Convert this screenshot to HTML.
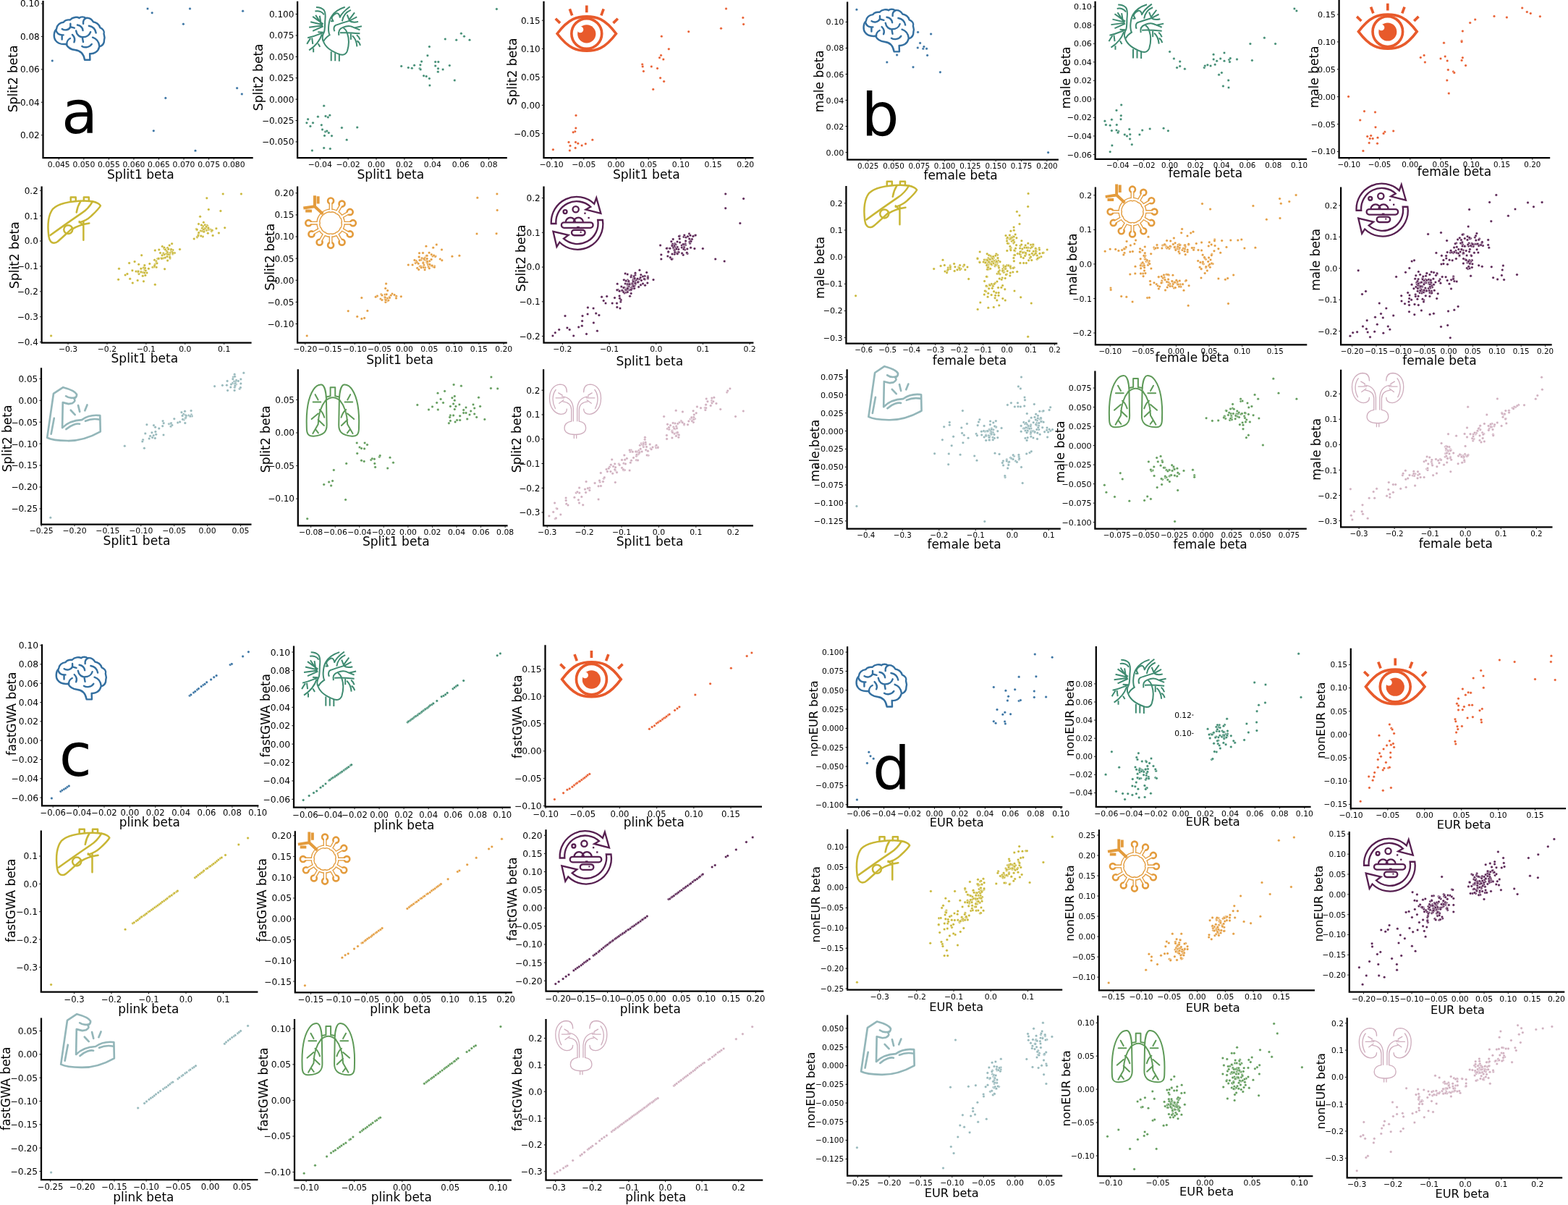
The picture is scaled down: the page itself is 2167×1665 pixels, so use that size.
<!DOCTYPE html>
<html><head><meta charset="utf-8"><title>Figure</title>
<style>html,body{margin:0;padding:0;background:#fff;width:2167px;height:1665px;overflow:hidden}svg{display:block}</style></head><body>
<svg xmlns="http://www.w3.org/2000/svg" width="2167" height="1665" viewBox="0 0 2167 1665" font-family="'DejaVu Sans', 'Liberation Sans', sans-serif" fill="#000">
<rect width="2167" height="1665" fill="#ffffff"/>
<!-- a1 -->
<g transform="translate(73.40 22.20) scale(0.04199 0.04204) translate(-80.0 -100.0)"><g fill="none" stroke="#336fa0" stroke-width="58" stroke-linecap="round" stroke-linejoin="round">
<path d="M1120 1540 L1295 1540 L1288 1338 C1420 1350 1560 1280 1600 1110 C1700 1080 1765 990 1762 880 C1790 800 1765 740 1750 690 C1780 600 1720 520 1625 480 C1600 380 1500 300 1400 290 C1350 200 1250 150 1150 165 C1100 115 980 115 940 165 C880 120 720 130 640 225 C540 215 455 250 420 305 C300 315 200 400 190 525 C100 610 85 800 160 900 C230 1000 360 1035 505 1020 C560 1130 660 1200 800 1212 C980 1230 1085 1330 1120 1540 Z"/>
<path d="M375 522 C450 580 600 565 650 455 M650 350 L650 455 L780 492"/>
<path d="M178 572 C205 680 300 730 420 722 M372 740 L372 870"/>
<path d="M878 392 C980 412 1050 482 1060 572"/>
<path d="M1258 422 C1380 442 1470 532 1492 652"/>
<path d="M835 582 C855 722 962 800 1060 792 C1180 792 1282 722 1312 622 M1042 802 L1070 950"/>
<path d="M1072 352 C1062 252 1112 192 1162 172"/>
<path d="M712 712 C782 782 812 862 772 960"/>
<path d="M642 832 C562 872 522 962 532 1032"/>
<path d="M1032 1092 C1122 1150 1282 1132 1352 1022"/>
<path d="M1382 802 C1500 842 1582 932 1602 1082"/>
</g></g>
<g fill="#336fa0" stroke="#ffffff" stroke-width="0.45"><circle cx="204.0" cy="12.1" r="1.75"/><circle cx="210.2" cy="17.8" r="1.75"/><circle cx="262.5" cy="12.1" r="1.75"/><circle cx="253.4" cy="33.2" r="1.75"/><circle cx="335.6" cy="15.3" r="1.75"/><circle cx="72.3" cy="83.9" r="1.75"/><circle cx="327.6" cy="121.8" r="1.75"/><circle cx="334.3" cy="129.9" r="1.75"/><circle cx="228.8" cy="135.4" r="1.75"/><circle cx="212.3" cy="180.8" r="1.75"/><circle cx="270.0" cy="208.2" r="1.75"/></g>
<path d="M59.50 1.00 L59.50 218.00 L349.70 218.00" fill="none" stroke="#000" stroke-width="2.25" stroke-linejoin="miter" stroke-linecap="butt"/>
<path d="M81.30 219.10 L81.30 220.60 M115.85 219.10 L115.85 220.60 M150.40 219.10 L150.40 220.60 M184.95 219.10 L184.95 220.60 M219.50 219.10 L219.50 220.60 M254.05 219.10 L254.05 220.60 M288.60 219.10 L288.60 220.60 M323.15 219.10 L323.15 220.60 M56.90 5.02 L58.40 5.02 M56.90 50.45 L58.40 50.45 M56.90 95.88 L58.40 95.88 M56.90 141.31 L58.40 141.31 M56.90 186.74 L58.40 186.74" stroke="#000" stroke-width="1" fill="none"/>
<g><text x="81.30" y="230.70" font-size="10.80" text-anchor="middle">0.045</text><text x="115.85" y="230.70" font-size="10.80" text-anchor="middle">0.050</text><text x="150.40" y="230.70" font-size="10.80" text-anchor="middle">0.055</text><text x="184.95" y="230.70" font-size="10.80" text-anchor="middle">0.060</text><text x="219.50" y="230.70" font-size="10.80" text-anchor="middle">0.065</text><text x="254.05" y="230.70" font-size="10.80" text-anchor="middle">0.070</text><text x="288.60" y="230.70" font-size="10.80" text-anchor="middle">0.075</text><text x="323.15" y="230.70" font-size="10.80" text-anchor="middle">0.080</text><text x="54.70" y="9.39" font-size="12.00" text-anchor="end">0.10</text><text x="54.70" y="54.82" font-size="12.00" text-anchor="end">0.08</text><text x="54.70" y="100.25" font-size="12.00" text-anchor="end">0.06</text><text x="54.70" y="145.68" font-size="12.00" text-anchor="end">0.04</text><text x="54.70" y="191.11" font-size="12.00" text-anchor="end">0.02</text></g>
<text x="194.40" y="247.40" font-size="17.10" text-anchor="middle">Split1 beta</text>
<text transform="translate(23.82 108.90) rotate(-90)" x="0" y="0" font-size="17.10" text-anchor="middle">Split2 beta</text>
<text x="84.94" y="184.40" font-size="82">a</text>
<!-- a2 -->
<g transform="translate(423.90 8.30) scale(0.05010 0.04993) translate(-85.0 -60.0)"><g fill="none" stroke="#3d8a70" stroke-width="40" stroke-linecap="butt" stroke-linejoin="round">
<path d="M545 1040 C600 1200 800 1330 1000 1400 C1100 1425 1175 1390 1205 1300 C1250 1150 1250 950 1205 820 C1175 720 1130 685 1095 665"/>
<path d="M545 1045 C500 960 515 870 565 780 C590 700 585 600 590 480 C600 380 620 260 560 175 C500 110 420 95 345 95"/>
<path d="M315 205 C420 180 530 230 560 300"/>
<path d="M710 850 C660 700 695 460 765 355 C825 255 950 150 1140 90"/>
<path d="M735 850 C650 900 590 960 555 1030"/>
<path d="M745 480 L815 478 L775 400 C785 330 850 285 905 262 C955 250 990 300 1000 370 C1030 300 1100 205 1275 78"/>
<path d="M855 762 C820 700 830 622 882 592 C1000 545 1150 505 1250 472 C1350 432 1420 382 1470 362"/>
<path d="M972 872 C952 762 992 682 1082 652 C1152 622 1232 602 1302 622 C1402 662 1482 692 1552 722"/>
<path d="M1062 482 C1082 352 1152 232 1302 172"/>
<path d="M1200 300 L1255 442 L1405 242"/>
<path d="M1255 462 C1305 502 1405 522 1505 492"/>
<path d="M1405 662 L1602 620"/>
<path d="M1002 802 C1152 792 1352 802 1552 822"/>
<path d="M1302 822 L1302 992"/>
<path d="M1342 882 C1422 952 1462 1052 1472 1182"/>
<path d="M1472 1022 C1522 1052 1552 1102 1562 1152"/>
<path d="M1462 862 C1512 902 1542 952 1552 992"/>
<path d="M530 580 L190 500 M530 600 L150 650 M540 620 L250 752 M540 560 L250 352 M500 570 L330 312 M480 560 L442 330"/>
<path d="M545 792 L392 782 M530 800 C400 850 300 900 110 942 M230 942 L252 1112 M190 952 C150 1012 112 1072 92 1112"/>
<path d="M505 842 C452 1002 352 1152 150 1282 M270 1232 L270 1342 M400 1100 L452 1190"/>
<path d="M760 1322 L760 1582 M870 1362 L870 1582 M982 1402 L982 1592"/>
</g></g>
<g fill="#3d8a70" stroke="#ffffff" stroke-width="0.45"><circle cx="686.4" cy="12.5" r="1.75"/><circle cx="637.4" cy="46.2" r="1.75"/><circle cx="641.5" cy="50.2" r="1.75"/><circle cx="649.0" cy="55.2" r="1.75"/><circle cx="630.7" cy="55.3" r="1.75"/><circle cx="615.3" cy="54.0" r="1.75"/><circle cx="593.4" cy="64.5" r="1.75"/><circle cx="590.9" cy="76.8" r="1.75"/><circle cx="582.6" cy="85.1" r="1.75"/><circle cx="580.9" cy="89.7" r="1.75"/><circle cx="580.1" cy="94.7" r="1.75"/><circle cx="581.2" cy="95.9" r="1.75"/><circle cx="572.6" cy="90.2" r="1.75"/><circle cx="569.3" cy="94.2" r="1.75"/><circle cx="564.3" cy="93.4" r="1.75"/><circle cx="554.7" cy="91.4" r="1.75"/><circle cx="601.7" cy="85.6" r="1.75"/><circle cx="605.8" cy="85.6" r="1.75"/><circle cx="601.7" cy="91.0" r="1.75"/><circle cx="605.5" cy="94.7" r="1.75"/><circle cx="605.3" cy="99.2" r="1.75"/><circle cx="612.1" cy="95.9" r="1.75"/><circle cx="621.3" cy="90.5" r="1.75"/><circle cx="585.6" cy="104.7" r="1.75"/><circle cx="589.2" cy="105.5" r="1.75"/><circle cx="593.4" cy="108.5" r="1.75"/><circle cx="593.9" cy="118.0" r="1.75"/><circle cx="628.3" cy="111.0" r="1.75"/><circle cx="447.7" cy="146.2" r="1.75"/><circle cx="439.4" cy="161.2" r="1.75"/><circle cx="450.0" cy="160.5" r="1.75"/><circle cx="453.3" cy="162.0" r="1.75"/><circle cx="455.8" cy="159.2" r="1.75"/><circle cx="425.6" cy="164.8" r="1.75"/><circle cx="423.9" cy="169.8" r="1.75"/><circle cx="432.5" cy="169.8" r="1.75"/><circle cx="428.9" cy="174.4" r="1.75"/><circle cx="444.3" cy="172.8" r="1.75"/><circle cx="445.5" cy="179.1" r="1.75"/><circle cx="449.7" cy="181.9" r="1.75"/><circle cx="451.8" cy="181.1" r="1.75"/><circle cx="454.3" cy="183.6" r="1.75"/><circle cx="448.5" cy="187.4" r="1.75"/><circle cx="458.5" cy="187.7" r="1.75"/><circle cx="472.4" cy="176.6" r="1.75"/><circle cx="493.7" cy="176.1" r="1.75"/><circle cx="479.2" cy="193.2" r="1.75"/><circle cx="431.4" cy="208.0" r="1.75"/><circle cx="447.7" cy="204.4" r="1.75"/><circle cx="456.3" cy="205.5" r="1.75"/></g>
<path d="M411.10 1.70 L411.10 218.00 L700.80 218.00" fill="none" stroke="#000" stroke-width="2.25" stroke-linejoin="miter" stroke-linecap="butt"/>
<path d="M442.23 219.10 L442.23 220.60 M481.12 219.10 L481.12 220.60 M520.01 219.10 L520.01 220.60 M558.90 219.10 L558.90 220.60 M597.79 219.10 L597.79 220.60 M636.68 219.10 L636.68 220.60 M675.57 219.10 L675.57 220.60 M408.50 19.59 L410.00 19.59 M408.50 48.99 L410.00 48.99 M408.50 78.38 L410.00 78.38 M408.50 107.77 L410.00 107.77 M408.50 137.16 L410.00 137.16 M408.50 166.56 L410.00 166.56 M408.50 195.95 L410.00 195.95" stroke="#000" stroke-width="1" fill="none"/>
<g><text x="442.23" y="230.70" font-size="10.80" text-anchor="middle">−0.04</text><text x="481.12" y="230.70" font-size="10.80" text-anchor="middle">−0.02</text><text x="520.01" y="230.70" font-size="10.80" text-anchor="middle">0.00</text><text x="558.90" y="230.70" font-size="10.80" text-anchor="middle">0.02</text><text x="597.79" y="230.70" font-size="10.80" text-anchor="middle">0.04</text><text x="636.68" y="230.70" font-size="10.80" text-anchor="middle">0.06</text><text x="675.57" y="230.70" font-size="10.80" text-anchor="middle">0.08</text><text x="406.30" y="23.97" font-size="12.00" text-anchor="end">0.100</text><text x="406.30" y="53.36" font-size="12.00" text-anchor="end">0.075</text><text x="406.30" y="82.75" font-size="12.00" text-anchor="end">0.050</text><text x="406.30" y="112.15" font-size="12.00" text-anchor="end">0.025</text><text x="406.30" y="141.54" font-size="12.00" text-anchor="end">0.000</text><text x="406.30" y="170.93" font-size="12.00" text-anchor="end">−0.025</text><text x="406.30" y="200.32" font-size="12.00" text-anchor="end">−0.050</text></g>
<text x="539.90" y="247.40" font-size="17.10" text-anchor="middle">Split1 beta</text>
<text transform="translate(362.62 106.80) rotate(-90)" x="0" y="0" font-size="17.10" text-anchor="middle">Split2 beta</text>
<!-- a3 -->
<g transform="translate(765.60 7.50) scale(0.16611 0.16597) translate(-455.0 -45.0)"><g fill="none" stroke="#e85a2b" stroke-width="22" stroke-linecap="butt" stroke-linejoin="miter">
<path d="M482 280 C580 150 650 138 727 138 C805 138 875 150 972 280 C875 410 805 422 727 422 C650 422 580 410 482 280 Z"/>
<circle cx="727" cy="280" r="126"/>
<path d="M468 155 L506 192 M586 75 L606 128 M727 45 L727 104 M868 75 L848 128 M986 155 L948 192"/>
</g>
<circle cx="727" cy="282" r="76" fill="#e85a2b"/>
<circle cx="674" cy="246" r="26" fill="#ffffff"/></g>
<g fill="#e85a2b" stroke="#ffffff" stroke-width="0.45"><circle cx="1003.5" cy="12.1" r="1.75"/><circle cx="1026.8" cy="24.4" r="1.75"/><circle cx="1027.6" cy="33.6" r="1.75"/><circle cx="996.5" cy="39.2" r="1.75"/><circle cx="951.7" cy="43.7" r="1.75"/><circle cx="914.3" cy="50.2" r="1.75"/><circle cx="924.3" cy="67.8" r="1.75"/><circle cx="913.5" cy="76.4" r="1.75"/><circle cx="911.5" cy="79.7" r="1.75"/><circle cx="916.8" cy="82.1" r="1.75"/><circle cx="887.7" cy="88.9" r="1.75"/><circle cx="888.2" cy="91.9" r="1.75"/><circle cx="889.4" cy="98.4" r="1.75"/><circle cx="900.3" cy="91.9" r="1.75"/><circle cx="908.5" cy="94.5" r="1.75"/><circle cx="912.6" cy="107.7" r="1.75"/><circle cx="917.6" cy="112.6" r="1.75"/><circle cx="902.7" cy="123.4" r="1.75"/><circle cx="796.0" cy="159.5" r="1.75"/><circle cx="795.8" cy="177.1" r="1.75"/><circle cx="794.7" cy="181.8" r="1.75"/><circle cx="792.2" cy="182.8" r="1.75"/><circle cx="786.0" cy="196.4" r="1.75"/><circle cx="788.0" cy="201.4" r="1.75"/><circle cx="795.5" cy="196.4" r="1.75"/><circle cx="798.8" cy="198.2" r="1.75"/><circle cx="804.1" cy="201.0" r="1.75"/><circle cx="809.3" cy="198.7" r="1.75"/><circle cx="818.8" cy="193.2" r="1.75"/><circle cx="795.2" cy="204.4" r="1.75"/><circle cx="787.4" cy="208.0" r="1.75"/><circle cx="764.4" cy="206.7" r="1.75"/></g>
<path d="M751.50 1.70 L751.50 218.00 L1041.40 218.00" fill="none" stroke="#000" stroke-width="2.25" stroke-linejoin="miter" stroke-linecap="butt"/>
<path d="M762.10 219.10 L762.10 220.60 M806.79 219.10 L806.79 220.60 M851.48 219.10 L851.48 220.60 M896.17 219.10 L896.17 220.60 M940.86 219.10 L940.86 220.60 M985.55 219.10 L985.55 220.60 M1030.24 219.10 L1030.24 220.60 M748.90 28.22 L750.40 28.22 M748.90 67.27 L750.40 67.27 M748.90 106.32 L750.40 106.32 M748.90 145.37 L750.40 145.37 M748.90 184.42 L750.40 184.42" stroke="#000" stroke-width="1" fill="none"/>
<g><text x="762.10" y="230.70" font-size="10.80" text-anchor="middle">−0.10</text><text x="806.79" y="230.70" font-size="10.80" text-anchor="middle">−0.05</text><text x="851.48" y="230.70" font-size="10.80" text-anchor="middle">0.00</text><text x="896.17" y="230.70" font-size="10.80" text-anchor="middle">0.05</text><text x="940.86" y="230.70" font-size="10.80" text-anchor="middle">0.10</text><text x="985.55" y="230.70" font-size="10.80" text-anchor="middle">0.15</text><text x="1030.24" y="230.70" font-size="10.80" text-anchor="middle">0.20</text><text x="746.70" y="32.59" font-size="12.00" text-anchor="end">0.15</text><text x="746.70" y="71.64" font-size="12.00" text-anchor="end">0.10</text><text x="746.70" y="110.69" font-size="12.00" text-anchor="end">0.05</text><text x="746.70" y="149.74" font-size="12.00" text-anchor="end">0.00</text><text x="746.70" y="188.79" font-size="12.00" text-anchor="end">−0.05</text></g>
<text x="893.30" y="247.40" font-size="17.10" text-anchor="middle">Split1 beta</text>
<text transform="translate(714.22 99.00) rotate(-90)" x="0" y="0" font-size="17.10" text-anchor="middle">Split2 beta</text>
<!-- a4 -->
<g transform="translate(66.50 270.80) scale(0.16614 0.16608) translate(-400.0 -125.0)"><g fill="none" stroke="#c8b634" stroke-width="15" stroke-linecap="round" stroke-linejoin="round">
<path d="M455 515 C430 520 410 500 405 460 C395 380 395 290 440 232 C490 182 600 167 700 165 C760 165 820 178 836 206 C820 235 790 262 758 292 C728 320 700 335 660 345 M604 392 C560 430 510 480 478 505 C470 512 462 515 455 515"/>
<path d="M418 452 C500 392 600 322 680 267 C722 240 752 202 770 170"/>
<path d="M636 262 C641 230 651 200 671 168"/>
<path d="M588 165 L588 135 L630 135 L630 165 M697 165 L697 135 L739 135 L739 165"/>
<circle cx="567" cy="404" r="36"/>
<path d="M603 400 C640 375 690 360 742 352 M694 337 L694 492 M660 337 L694 372"/>
</g></g>
<g fill="#c8b634" stroke="#ffffff" stroke-width="0.45"><circle cx="70.6" cy="464.0" r="1.75"/><circle cx="285.8" cy="273.8" r="1.75"/><circle cx="308.2" cy="267.9" r="1.75"/><circle cx="333.4" cy="267.9" r="1.75"/><circle cx="288.3" cy="289.4" r="1.75"/><circle cx="304.9" cy="291.5" r="1.75"/><circle cx="276.6" cy="299.3" r="1.75"/><circle cx="310.7" cy="314.8" r="1.75"/><circle cx="302.4" cy="321.9" r="1.75"/><circle cx="164.5" cy="371.3" r="1.75"/><circle cx="163.6" cy="386.2" r="1.75"/><circle cx="173.1" cy="380.1" r="1.75"/><circle cx="178.6" cy="363.5" r="1.75"/><circle cx="186.1" cy="361.6" r="1.75"/><circle cx="195.7" cy="352.7" r="1.75"/><circle cx="214.3" cy="345.9" r="1.75"/><circle cx="224.3" cy="340.5" r="1.75"/><circle cx="237.6" cy="336.7" r="1.75"/><circle cx="227.6" cy="371.8" r="1.75"/><circle cx="214.3" cy="393.2" r="1.75"/><circle cx="198.5" cy="388.7" r="1.75"/><circle cx="190.2" cy="387.4" r="1.75"/><circle cx="194.9" cy="375.3" r="1.75"/><circle cx="199.5" cy="369.3" r="1.75"/><circle cx="192.0" cy="378.5" r="1.75"/><circle cx="191.1" cy="374.6" r="1.75"/><circle cx="203.0" cy="377.0" r="1.75"/><circle cx="190.8" cy="374.7" r="1.75"/><circle cx="188.0" cy="375.1" r="1.75"/><circle cx="199.9" cy="372.9" r="1.75"/><circle cx="205.4" cy="371.2" r="1.75"/><circle cx="190.9" cy="376.0" r="1.75"/><circle cx="194.9" cy="371.2" r="1.75"/><circle cx="195.0" cy="376.0" r="1.75"/><circle cx="183.3" cy="390.9" r="1.75"/><circle cx="211.0" cy="369.2" r="1.75"/><circle cx="216.1" cy="369.3" r="1.75"/><circle cx="206.8" cy="364.4" r="1.75"/><circle cx="197.9" cy="376.5" r="1.75"/><circle cx="179.7" cy="385.3" r="1.75"/><circle cx="182.9" cy="373.8" r="1.75"/><circle cx="197.3" cy="381.3" r="1.75"/><circle cx="191.7" cy="365.3" r="1.75"/><circle cx="198.4" cy="370.0" r="1.75"/><circle cx="200.5" cy="370.5" r="1.75"/><circle cx="199.8" cy="366.6" r="1.75"/><circle cx="200.8" cy="380.4" r="1.75"/><circle cx="175.9" cy="378.5" r="1.75"/><circle cx="201.3" cy="374.0" r="1.75"/><circle cx="213.2" cy="368.7" r="1.75"/><circle cx="199.9" cy="376.9" r="1.75"/><circle cx="190.9" cy="375.2" r="1.75"/><circle cx="229.8" cy="350.7" r="1.75"/><circle cx="230.2" cy="346.8" r="1.75"/><circle cx="248.5" cy="344.6" r="1.75"/><circle cx="234.2" cy="338.9" r="1.75"/><circle cx="222.8" cy="356.8" r="1.75"/><circle cx="231.6" cy="342.4" r="1.75"/><circle cx="241.3" cy="349.5" r="1.75"/><circle cx="225.9" cy="356.7" r="1.75"/><circle cx="213.6" cy="359.2" r="1.75"/><circle cx="235.0" cy="357.0" r="1.75"/><circle cx="227.7" cy="342.9" r="1.75"/><circle cx="235.1" cy="349.5" r="1.75"/><circle cx="236.6" cy="346.8" r="1.75"/><circle cx="234.3" cy="352.0" r="1.75"/><circle cx="221.5" cy="349.4" r="1.75"/><circle cx="231.6" cy="348.7" r="1.75"/><circle cx="225.8" cy="350.1" r="1.75"/><circle cx="219.8" cy="345.1" r="1.75"/><circle cx="238.7" cy="350.9" r="1.75"/><circle cx="219.2" cy="356.9" r="1.75"/><circle cx="238.9" cy="345.5" r="1.75"/><circle cx="231.6" cy="360.1" r="1.75"/><circle cx="238.0" cy="348.2" r="1.75"/><circle cx="227.0" cy="351.8" r="1.75"/><circle cx="226.8" cy="343.7" r="1.75"/><circle cx="231.0" cy="354.6" r="1.75"/><circle cx="228.4" cy="344.8" r="1.75"/><circle cx="239.0" cy="349.6" r="1.75"/><circle cx="234.7" cy="355.3" r="1.75"/><circle cx="232.2" cy="351.4" r="1.75"/><circle cx="236.5" cy="344.6" r="1.75"/><circle cx="228.3" cy="356.1" r="1.75"/><circle cx="226.8" cy="342.0" r="1.75"/><circle cx="232.8" cy="344.3" r="1.75"/><circle cx="224.1" cy="352.7" r="1.75"/><circle cx="272.2" cy="317.8" r="1.75"/><circle cx="281.7" cy="315.5" r="1.75"/><circle cx="274.2" cy="323.9" r="1.75"/><circle cx="298.9" cy="315.7" r="1.75"/><circle cx="280.5" cy="312.4" r="1.75"/><circle cx="277.3" cy="318.9" r="1.75"/><circle cx="283.3" cy="310.8" r="1.75"/><circle cx="283.9" cy="317.7" r="1.75"/><circle cx="272.5" cy="327.9" r="1.75"/><circle cx="278.4" cy="311.1" r="1.75"/><circle cx="286.2" cy="315.6" r="1.75"/><circle cx="279.4" cy="315.3" r="1.75"/><circle cx="279.5" cy="319.2" r="1.75"/><circle cx="272.6" cy="327.3" r="1.75"/><circle cx="281.4" cy="307.2" r="1.75"/><circle cx="291.0" cy="317.2" r="1.75"/><circle cx="284.7" cy="314.9" r="1.75"/><circle cx="285.5" cy="318.2" r="1.75"/><circle cx="286.8" cy="312.6" r="1.75"/><circle cx="282.7" cy="317.1" r="1.75"/><circle cx="292.4" cy="319.0" r="1.75"/><circle cx="286.2" cy="311.6" r="1.75"/><circle cx="283.0" cy="318.0" r="1.75"/><circle cx="288.3" cy="317.4" r="1.75"/><circle cx="287.3" cy="322.2" r="1.75"/><circle cx="268.2" cy="330.1" r="1.75"/><circle cx="280.3" cy="326.9" r="1.75"/><circle cx="293.5" cy="318.2" r="1.75"/><circle cx="271.4" cy="316.4" r="1.75"/><circle cx="274.7" cy="321.4" r="1.75"/><circle cx="285.0" cy="313.4" r="1.75"/><circle cx="272.2" cy="317.2" r="1.75"/><circle cx="285.2" cy="313.3" r="1.75"/><circle cx="282.3" cy="317.3" r="1.75"/><circle cx="274.5" cy="309.4" r="1.75"/><circle cx="273.9" cy="325.7" r="1.75"/><circle cx="283.2" cy="315.8" r="1.75"/><circle cx="281.4" cy="317.2" r="1.75"/><circle cx="277.8" cy="326.0" r="1.75"/><circle cx="292.4" cy="319.6" r="1.75"/><circle cx="288.2" cy="316.6" r="1.75"/><circle cx="288.0" cy="315.1" r="1.75"/><circle cx="294.1" cy="325.4" r="1.75"/><circle cx="281.8" cy="320.2" r="1.75"/><circle cx="292.9" cy="318.3" r="1.75"/><circle cx="215.9" cy="361.0" r="1.75"/><circle cx="214.1" cy="365.5" r="1.75"/><circle cx="216.1" cy="363.4" r="1.75"/><circle cx="213.5" cy="367.4" r="1.75"/><circle cx="223.6" cy="357.3" r="1.75"/><circle cx="217.8" cy="357.5" r="1.75"/><circle cx="219.1" cy="357.4" r="1.75"/><circle cx="217.0" cy="363.8" r="1.75"/></g>
<path d="M57.60 257.50 L57.60 473.50 L347.60 473.50" fill="none" stroke="#000" stroke-width="2.25" stroke-linejoin="miter" stroke-linecap="butt"/>
<path d="M94.02 474.60 L94.02 476.10 M147.94 474.60 L147.94 476.10 M201.86 474.60 L201.86 476.10 M255.78 474.60 L255.78 476.10 M309.70 474.60 L309.70 476.10 M55.00 263.27 L56.50 263.27 M55.00 298.16 L56.50 298.16 M55.00 333.04 L56.50 333.04 M55.00 367.93 L56.50 367.93 M55.00 402.81 L56.50 402.81 M55.00 437.70 L56.50 437.70 M55.00 472.59 L56.50 472.59" stroke="#000" stroke-width="1" fill="none"/>
<g><text x="94.02" y="486.20" font-size="10.80" text-anchor="middle">−0.3</text><text x="147.94" y="486.20" font-size="10.80" text-anchor="middle">−0.2</text><text x="201.86" y="486.20" font-size="10.80" text-anchor="middle">−0.1</text><text x="255.78" y="486.20" font-size="10.80" text-anchor="middle">0.0</text><text x="309.70" y="486.20" font-size="10.80" text-anchor="middle">0.1</text><text x="52.80" y="267.65" font-size="12.00" text-anchor="end">0.2</text><text x="52.80" y="302.53" font-size="12.00" text-anchor="end">0.1</text><text x="52.80" y="337.42" font-size="12.00" text-anchor="end">0.0</text><text x="52.80" y="372.30" font-size="12.00" text-anchor="end">−0.1</text><text x="52.80" y="407.19" font-size="12.00" text-anchor="end">−0.2</text><text x="52.80" y="442.07" font-size="12.00" text-anchor="end">−0.3</text><text x="52.80" y="476.96" font-size="12.00" text-anchor="end">−0.4</text></g>
<text x="199.90" y="500.90" font-size="17.10" text-anchor="middle">Split1 beta</text>
<text transform="translate(26.32 352.60) rotate(-90)" x="0" y="0" font-size="17.10" text-anchor="middle">Split2 beta</text>
<!-- a5 -->
<g transform="translate(418.00 270.00) scale(0.16630 0.16594) translate(-470.0 -120.0)"><g fill="none" stroke="#e39b3c" stroke-width="30" stroke-linecap="round"><circle cx="705" cy="350" r="104"/><path d="M705 250 L705 165 M755 263 L798 190 M792 300 L865 258 M805 350 L890 350 M792 400 L865 442 M755 437 L798 510 M705 450 L705 535 M655 437 L612 510 M618 400 L545 442 M605 350 L520 350 "/><circle cx="705" cy="165" r="17"/><circle cx="798" cy="190" r="17"/><circle cx="865" cy="258" r="17"/><circle cx="890" cy="350" r="17"/><circle cx="865" cy="442" r="17"/><circle cx="798" cy="510" r="17"/><circle cx="705" cy="535" r="17"/><circle cx="612" cy="510" r="17"/><circle cx="545" cy="442" r="17"/><circle cx="520" cy="350" r="17"/></g><g fill="none" stroke="#ffffff" stroke-width="14" stroke-linecap="round"><circle cx="705" cy="350" r="104"/><path d="M705 250 L705 165 M755 263 L798 190 M792 300 L865 258 M805 350 L890 350 M792 400 L865 442 M755 437 L798 510 M705 450 L705 535 M655 437 L612 510 M618 400 L545 442 M605 350 L520 350 "/><circle cx="705" cy="165" r="9"/><circle cx="798" cy="190" r="9"/><circle cx="865" cy="258" r="9"/><circle cx="890" cy="350" r="9"/><circle cx="865" cy="442" r="9"/><circle cx="798" cy="510" r="9"/><circle cx="705" cy="535" r="9"/><circle cx="612" cy="510" r="9"/><circle cx="545" cy="442" r="9"/><circle cx="520" cy="350" r="9"/></g><g fill="none" stroke="#e39b3c" stroke-width="24" stroke-linecap="butt"><path d="M640 275 L572 212 L572 122 M572 212 L478 226"/><path d="M600 128 L600 190 M495 250 L548 250"/></g></g>
<g fill="#e39b3c" stroke="#ffffff" stroke-width="0.45"><circle cx="424.2" cy="464.0" r="1.75"/><circle cx="481.2" cy="429.8" r="1.75"/><circle cx="493.7" cy="437.4" r="1.75"/><circle cx="499.8" cy="440.4" r="1.75"/><circle cx="503.6" cy="439.4" r="1.75"/><circle cx="507.8" cy="429.4" r="1.75"/><circle cx="499.8" cy="411.5" r="1.75"/><circle cx="533.6" cy="392.1" r="1.75"/><circle cx="532.7" cy="398.4" r="1.75"/><circle cx="535.7" cy="401.5" r="1.75"/><circle cx="554.3" cy="409.8" r="1.75"/><circle cx="547.7" cy="409.2" r="1.75"/><circle cx="588.9" cy="340.2" r="1.75"/><circle cx="598.7" cy="342.2" r="1.75"/><circle cx="603.3" cy="338.1" r="1.75"/><circle cx="610.5" cy="345.0" r="1.75"/><circle cx="624.9" cy="354.3" r="1.75"/><circle cx="634.9" cy="353.3" r="1.75"/><circle cx="608.3" cy="358.0" r="1.75"/><circle cx="610.8" cy="359.7" r="1.75"/><circle cx="659.8" cy="273.3" r="1.75"/><circle cx="686.9" cy="267.9" r="1.75"/><circle cx="687.2" cy="290.4" r="1.75"/><circle cx="659.0" cy="323.1" r="1.75"/><circle cx="686.1" cy="322.8" r="1.75"/><circle cx="564.3" cy="366.0" r="1.75"/><circle cx="570.1" cy="366.0" r="1.75"/><circle cx="574.3" cy="363.5" r="1.75"/><circle cx="531.8" cy="410.4" r="1.75"/><circle cx="535.5" cy="415.8" r="1.75"/><circle cx="532.1" cy="407.0" r="1.75"/><circle cx="535.3" cy="412.5" r="1.75"/><circle cx="532.9" cy="417.4" r="1.75"/><circle cx="532.2" cy="413.7" r="1.75"/><circle cx="526.9" cy="406.7" r="1.75"/><circle cx="521.0" cy="409.2" r="1.75"/><circle cx="542.0" cy="405.9" r="1.75"/><circle cx="532.5" cy="411.3" r="1.75"/><circle cx="545.1" cy="407.4" r="1.75"/><circle cx="526.0" cy="413.1" r="1.75"/><circle cx="528.0" cy="408.0" r="1.75"/><circle cx="535.4" cy="412.3" r="1.75"/><circle cx="527.9" cy="414.5" r="1.75"/><circle cx="536.8" cy="415.1" r="1.75"/><circle cx="538.3" cy="410.3" r="1.75"/><circle cx="521.4" cy="409.0" r="1.75"/><circle cx="534.2" cy="406.8" r="1.75"/><circle cx="519.2" cy="410.3" r="1.75"/><circle cx="547.5" cy="411.9" r="1.75"/><circle cx="540.3" cy="408.1" r="1.75"/><circle cx="534.2" cy="414.8" r="1.75"/><circle cx="538.5" cy="411.4" r="1.75"/><circle cx="533.1" cy="414.6" r="1.75"/><circle cx="585.9" cy="366.2" r="1.75"/><circle cx="587.3" cy="357.3" r="1.75"/><circle cx="584.8" cy="362.7" r="1.75"/><circle cx="575.1" cy="360.4" r="1.75"/><circle cx="587.2" cy="356.3" r="1.75"/><circle cx="592.2" cy="368.8" r="1.75"/><circle cx="584.0" cy="369.0" r="1.75"/><circle cx="587.5" cy="369.7" r="1.75"/><circle cx="583.1" cy="356.8" r="1.75"/><circle cx="579.4" cy="355.0" r="1.75"/><circle cx="589.1" cy="353.4" r="1.75"/><circle cx="593.7" cy="360.7" r="1.75"/><circle cx="576.4" cy="362.6" r="1.75"/><circle cx="596.1" cy="358.6" r="1.75"/><circle cx="589.3" cy="360.1" r="1.75"/><circle cx="576.7" cy="370.4" r="1.75"/><circle cx="584.5" cy="349.6" r="1.75"/><circle cx="585.3" cy="369.4" r="1.75"/><circle cx="580.2" cy="368.1" r="1.75"/><circle cx="591.4" cy="365.7" r="1.75"/><circle cx="579.1" cy="355.1" r="1.75"/><circle cx="587.1" cy="372.8" r="1.75"/><circle cx="585.9" cy="358.7" r="1.75"/><circle cx="589.8" cy="362.5" r="1.75"/><circle cx="579.5" cy="349.8" r="1.75"/><circle cx="581.5" cy="368.1" r="1.75"/><circle cx="581.8" cy="359.3" r="1.75"/><circle cx="590.7" cy="363.2" r="1.75"/><circle cx="580.0" cy="359.5" r="1.75"/><circle cx="582.1" cy="369.8" r="1.75"/><circle cx="593.3" cy="370.8" r="1.75"/><circle cx="578.7" cy="372.6" r="1.75"/><circle cx="572.9" cy="359.4" r="1.75"/><circle cx="586.9" cy="359.0" r="1.75"/><circle cx="584.9" cy="363.5" r="1.75"/><circle cx="586.0" cy="357.6" r="1.75"/><circle cx="590.6" cy="361.2" r="1.75"/><circle cx="578.2" cy="364.3" r="1.75"/><circle cx="590.1" cy="353.3" r="1.75"/><circle cx="590.2" cy="357.6" r="1.75"/><circle cx="598.0" cy="353.9" r="1.75"/><circle cx="602.1" cy="354.1" r="1.75"/><circle cx="593.1" cy="349.2" r="1.75"/><circle cx="596.3" cy="351.7" r="1.75"/><circle cx="601.5" cy="354.4" r="1.75"/><circle cx="599.6" cy="353.0" r="1.75"/><circle cx="595.3" cy="366.7" r="1.75"/><circle cx="593.8" cy="365.3" r="1.75"/><circle cx="600.5" cy="367.7" r="1.75"/><circle cx="598.1" cy="368.3" r="1.75"/><circle cx="600.3" cy="369.2" r="1.75"/><circle cx="597.2" cy="367.0" r="1.75"/></g>
<path d="M411.10 257.50 L411.10 473.50 L700.80 473.50" fill="none" stroke="#000" stroke-width="2.25" stroke-linejoin="miter" stroke-linecap="butt"/>
<path d="M421.72 474.60 L421.72 476.10 M456.02 474.60 L456.02 476.10 M490.33 474.60 L490.33 476.10 M524.64 474.60 L524.64 476.10 M558.94 474.60 L558.94 476.10 M593.25 474.60 L593.25 476.10 M627.56 474.60 L627.56 476.10 M661.86 474.60 L661.86 476.10 M696.17 474.60 L696.17 476.10 M408.50 266.80 L410.00 266.80 M408.50 296.91 L410.00 296.91 M408.50 327.02 L410.00 327.02 M408.50 357.13 L410.00 357.13 M408.50 387.24 L410.00 387.24 M408.50 417.35 L410.00 417.35 M408.50 447.46 L410.00 447.46" stroke="#000" stroke-width="1" fill="none"/>
<g><text x="421.72" y="486.20" font-size="10.80" text-anchor="middle">−0.20</text><text x="456.02" y="486.20" font-size="10.80" text-anchor="middle">−0.15</text><text x="490.33" y="486.20" font-size="10.80" text-anchor="middle">−0.10</text><text x="524.64" y="486.20" font-size="10.80" text-anchor="middle">−0.05</text><text x="558.94" y="486.20" font-size="10.80" text-anchor="middle">0.00</text><text x="593.25" y="486.20" font-size="10.80" text-anchor="middle">0.05</text><text x="627.56" y="486.20" font-size="10.80" text-anchor="middle">0.10</text><text x="661.86" y="486.20" font-size="10.80" text-anchor="middle">0.15</text><text x="696.17" y="486.20" font-size="10.80" text-anchor="middle">0.20</text><text x="406.30" y="271.17" font-size="12.00" text-anchor="end">0.20</text><text x="406.30" y="301.28" font-size="12.00" text-anchor="end">0.15</text><text x="406.30" y="331.39" font-size="12.00" text-anchor="end">0.10</text><text x="406.30" y="361.50" font-size="12.00" text-anchor="end">0.05</text><text x="406.30" y="391.61" font-size="12.00" text-anchor="end">0.00</text><text x="406.30" y="421.72" font-size="12.00" text-anchor="end">−0.05</text><text x="406.30" y="451.83" font-size="12.00" text-anchor="end">−0.10</text></g>
<text x="552.60" y="503.40" font-size="17.10" text-anchor="middle">Split1 beta</text>
<text transform="translate(378.72 355.10) rotate(-90)" x="0" y="0" font-size="17.10" text-anchor="middle">Split2 beta</text>
<!-- a6 -->
<g transform="translate(759.80 270.00) scale(0.16607 0.16591) translate(-420.0 -120.0)"><g fill="none" stroke="#561f50" stroke-width="14" stroke-linejoin="miter">
<path d="M432 355 A212 212 0 0 1 790 190 L808 140 L845 270 L720 238 L760 215 A172 172 0 0 0 472 355 Z"/>
<path d="M860 325 A212 212 0 0 1 502 510 L478 548 L448 420 L575 450 L535 480 A172 172 0 0 0 820 325 Z"/>
<circle cx="548" cy="256" r="15"/>
<circle cx="636" cy="236" r="25"/>
<path d="M552 345 A40 40 0 0 1 632 345 M618 345 A40 40 0 0 1 698 345"/>
<rect x="517" y="345" width="263" height="45" rx="22"/>
<rect x="602" y="408" width="112" height="45" rx="22"/>
</g>
<g fill="#561f50"><rect x="706" y="262" width="14" height="14"/><rect x="737" y="300" width="14" height="14"/><rect x="645" y="378" width="22" height="10"/><rect x="672" y="420" width="12" height="12"/></g></g>
<g fill="#561f50" stroke="#ffffff" stroke-width="0.45"><circle cx="763.9" cy="464.0" r="1.75"/><circle cx="767.3" cy="459.7" r="1.75"/><circle cx="772.7" cy="455.5" r="1.75"/><circle cx="781.0" cy="436.6" r="1.75"/><circle cx="783.9" cy="453.0" r="1.75"/><circle cx="787.2" cy="455.5" r="1.75"/><circle cx="792.7" cy="464.0" r="1.75"/><circle cx="799.7" cy="451.9" r="1.75"/><circle cx="804.3" cy="450.2" r="1.75"/><circle cx="804.6" cy="443.6" r="1.75"/><circle cx="805.0" cy="436.6" r="1.75"/><circle cx="810.5" cy="461.5" r="1.75"/><circle cx="812.1" cy="434.1" r="1.75"/><circle cx="812.4" cy="424.9" r="1.75"/><circle cx="820.1" cy="426.1" r="1.75"/><circle cx="820.4" cy="446.0" r="1.75"/><circle cx="823.7" cy="433.1" r="1.75"/><circle cx="827.9" cy="435.6" r="1.75"/><circle cx="825.4" cy="457.2" r="1.75"/><circle cx="831.6" cy="410.3" r="1.75"/><circle cx="838.7" cy="409.5" r="1.75"/><circle cx="834.2" cy="415.6" r="1.75"/><circle cx="837.0" cy="419.0" r="1.75"/><circle cx="846.2" cy="419.1" r="1.75"/><circle cx="849.5" cy="411.5" r="1.75"/><circle cx="852.5" cy="419.1" r="1.75"/><circle cx="852.8" cy="424.4" r="1.75"/><circle cx="857.0" cy="426.1" r="1.75"/><circle cx="857.8" cy="417.0" r="1.75"/><circle cx="864.1" cy="377.9" r="1.75"/><circle cx="883.9" cy="373.3" r="1.75"/><circle cx="903.0" cy="386.6" r="1.75"/><circle cx="912.6" cy="338.9" r="1.75"/><circle cx="971.3" cy="343.4" r="1.75"/><circle cx="988.7" cy="358.0" r="1.75"/><circle cx="1001.2" cy="361.0" r="1.75"/><circle cx="1002.7" cy="267.9" r="1.75"/><circle cx="1027.6" cy="274.6" r="1.75"/><circle cx="1002.7" cy="287.7" r="1.75"/><circle cx="1022.8" cy="308.5" r="1.75"/><circle cx="950.0" cy="350.5" r="1.75"/><circle cx="954.2" cy="332.2" r="1.75"/><circle cx="952.5" cy="323.1" r="1.75"/><circle cx="960.0" cy="325.6" r="1.75"/><circle cx="885.5" cy="393.8" r="1.75"/><circle cx="867.1" cy="388.1" r="1.75"/><circle cx="877.1" cy="395.0" r="1.75"/><circle cx="870.5" cy="409.2" r="1.75"/><circle cx="875.6" cy="390.8" r="1.75"/><circle cx="893.7" cy="376.5" r="1.75"/><circle cx="874.8" cy="386.9" r="1.75"/><circle cx="891.1" cy="381.4" r="1.75"/><circle cx="874.5" cy="393.9" r="1.75"/><circle cx="863.0" cy="404.9" r="1.75"/><circle cx="895.4" cy="385.1" r="1.75"/><circle cx="867.0" cy="387.9" r="1.75"/><circle cx="867.9" cy="395.8" r="1.75"/><circle cx="872.5" cy="380.8" r="1.75"/><circle cx="891.3" cy="386.1" r="1.75"/><circle cx="858.2" cy="414.4" r="1.75"/><circle cx="868.9" cy="399.5" r="1.75"/><circle cx="875.8" cy="398.2" r="1.75"/><circle cx="878.3" cy="392.5" r="1.75"/><circle cx="859.9" cy="401.2" r="1.75"/><circle cx="867.6" cy="394.3" r="1.75"/><circle cx="878.5" cy="391.1" r="1.75"/><circle cx="877.3" cy="388.6" r="1.75"/><circle cx="867.4" cy="386.9" r="1.75"/><circle cx="853.2" cy="392.2" r="1.75"/><circle cx="872.2" cy="405.4" r="1.75"/><circle cx="862.9" cy="397.2" r="1.75"/><circle cx="867.1" cy="398.9" r="1.75"/><circle cx="891.5" cy="394.3" r="1.75"/><circle cx="868.8" cy="391.6" r="1.75"/><circle cx="874.9" cy="387.6" r="1.75"/><circle cx="865.6" cy="388.1" r="1.75"/><circle cx="875.8" cy="384.2" r="1.75"/><circle cx="888.5" cy="382.1" r="1.75"/><circle cx="867.8" cy="396.9" r="1.75"/><circle cx="872.5" cy="397.4" r="1.75"/><circle cx="854.3" cy="400.4" r="1.75"/><circle cx="872.0" cy="382.7" r="1.75"/><circle cx="865.3" cy="399.6" r="1.75"/><circle cx="877.9" cy="380.0" r="1.75"/><circle cx="866.0" cy="388.2" r="1.75"/><circle cx="876.2" cy="381.7" r="1.75"/><circle cx="871.9" cy="401.0" r="1.75"/><circle cx="869.6" cy="400.6" r="1.75"/><circle cx="885.8" cy="379.7" r="1.75"/><circle cx="864.2" cy="391.9" r="1.75"/><circle cx="867.9" cy="395.9" r="1.75"/><circle cx="859.2" cy="401.4" r="1.75"/><circle cx="865.5" cy="404.1" r="1.75"/><circle cx="895.4" cy="382.1" r="1.75"/><circle cx="894.8" cy="391.0" r="1.75"/><circle cx="878.0" cy="377.3" r="1.75"/><circle cx="875.1" cy="387.1" r="1.75"/><circle cx="882.7" cy="396.4" r="1.75"/><circle cx="875.0" cy="389.0" r="1.75"/><circle cx="895.4" cy="383.8" r="1.75"/><circle cx="879.5" cy="386.7" r="1.75"/><circle cx="876.9" cy="385.5" r="1.75"/><circle cx="873.7" cy="391.7" r="1.75"/><circle cx="867.0" cy="392.6" r="1.75"/><circle cx="871.2" cy="392.7" r="1.75"/><circle cx="869.9" cy="391.8" r="1.75"/><circle cx="869.1" cy="396.0" r="1.75"/><circle cx="868.3" cy="398.4" r="1.75"/><circle cx="867.3" cy="403.5" r="1.75"/><circle cx="864.9" cy="388.0" r="1.75"/><circle cx="852.8" cy="400.7" r="1.75"/><circle cx="867.9" cy="397.9" r="1.75"/><circle cx="868.9" cy="388.5" r="1.75"/><circle cx="882.2" cy="385.6" r="1.75"/><circle cx="882.2" cy="389.2" r="1.75"/><circle cx="884.1" cy="385.5" r="1.75"/><circle cx="877.1" cy="384.5" r="1.75"/><circle cx="869.6" cy="392.9" r="1.75"/><circle cx="874.2" cy="395.9" r="1.75"/><circle cx="865.3" cy="400.7" r="1.75"/><circle cx="858.8" cy="396.1" r="1.75"/><circle cx="873.3" cy="399.0" r="1.75"/><circle cx="877.9" cy="391.3" r="1.75"/><circle cx="856.5" cy="412.2" r="1.75"/><circle cx="876.7" cy="398.5" r="1.75"/><circle cx="886.4" cy="387.4" r="1.75"/><circle cx="864.6" cy="400.4" r="1.75"/><circle cx="866.4" cy="400.2" r="1.75"/><circle cx="867.2" cy="398.6" r="1.75"/><circle cx="867.2" cy="379.1" r="1.75"/><circle cx="881.0" cy="385.2" r="1.75"/><circle cx="890.3" cy="385.6" r="1.75"/><circle cx="860.2" cy="401.6" r="1.75"/><circle cx="862.3" cy="386.8" r="1.75"/><circle cx="861.8" cy="397.6" r="1.75"/><circle cx="874.8" cy="393.9" r="1.75"/><circle cx="875.8" cy="395.6" r="1.75"/><circle cx="885.2" cy="383.6" r="1.75"/><circle cx="881.6" cy="390.0" r="1.75"/><circle cx="856.1" cy="408.9" r="1.75"/><circle cx="861.7" cy="403.6" r="1.75"/><circle cx="872.0" cy="400.3" r="1.75"/><circle cx="888.5" cy="391.9" r="1.75"/><circle cx="856.1" cy="402.2" r="1.75"/><circle cx="933.4" cy="342.9" r="1.75"/><circle cx="936.4" cy="348.8" r="1.75"/><circle cx="939.6" cy="335.0" r="1.75"/><circle cx="956.4" cy="330.5" r="1.75"/><circle cx="932.7" cy="336.6" r="1.75"/><circle cx="934.1" cy="338.0" r="1.75"/><circle cx="954.6" cy="342.2" r="1.75"/><circle cx="913.8" cy="358.0" r="1.75"/><circle cx="936.0" cy="334.0" r="1.75"/><circle cx="922.8" cy="353.9" r="1.75"/><circle cx="938.0" cy="348.4" r="1.75"/><circle cx="929.1" cy="357.8" r="1.75"/><circle cx="942.2" cy="339.0" r="1.75"/><circle cx="947.5" cy="338.4" r="1.75"/><circle cx="932.8" cy="337.7" r="1.75"/><circle cx="939.3" cy="326.1" r="1.75"/><circle cx="929.5" cy="337.2" r="1.75"/><circle cx="946.5" cy="345.1" r="1.75"/><circle cx="932.6" cy="341.3" r="1.75"/><circle cx="953.6" cy="336.2" r="1.75"/><circle cx="953.1" cy="334.3" r="1.75"/><circle cx="944.2" cy="352.3" r="1.75"/><circle cx="933.5" cy="349.9" r="1.75"/><circle cx="945.0" cy="327.3" r="1.75"/><circle cx="957.9" cy="326.4" r="1.75"/><circle cx="945.3" cy="338.5" r="1.75"/><circle cx="930.7" cy="343.0" r="1.75"/><circle cx="948.0" cy="328.1" r="1.75"/><circle cx="938.5" cy="326.5" r="1.75"/><circle cx="930.2" cy="330.5" r="1.75"/><circle cx="931.8" cy="345.7" r="1.75"/><circle cx="913.8" cy="351.9" r="1.75"/><circle cx="930.4" cy="341.6" r="1.75"/><circle cx="942.3" cy="342.1" r="1.75"/><circle cx="949.8" cy="343.9" r="1.75"/><circle cx="932.1" cy="351.3" r="1.75"/><circle cx="947.1" cy="336.7" r="1.75"/><circle cx="931.8" cy="339.7" r="1.75"/><circle cx="929.0" cy="351.1" r="1.75"/><circle cx="932.5" cy="345.8" r="1.75"/><circle cx="928.9" cy="339.5" r="1.75"/><circle cx="959.9" cy="343.6" r="1.75"/><circle cx="946.2" cy="337.6" r="1.75"/><circle cx="927.4" cy="357.2" r="1.75"/><circle cx="923.6" cy="348.6" r="1.75"/><circle cx="939.2" cy="329.9" r="1.75"/><circle cx="936.3" cy="350.7" r="1.75"/><circle cx="945.8" cy="324.9" r="1.75"/><circle cx="950.5" cy="326.8" r="1.75"/><circle cx="936.2" cy="341.5" r="1.75"/><circle cx="926.3" cy="355.7" r="1.75"/><circle cx="937.7" cy="344.6" r="1.75"/><circle cx="922.2" cy="343.0" r="1.75"/><circle cx="955.0" cy="333.6" r="1.75"/><circle cx="934.9" cy="344.0" r="1.75"/><circle cx="927.8" cy="333.7" r="1.75"/><circle cx="923.7" cy="347.8" r="1.75"/><circle cx="945.5" cy="341.7" r="1.75"/><circle cx="921.3" cy="343.2" r="1.75"/><circle cx="928.3" cy="358.3" r="1.75"/><circle cx="925.9" cy="343.2" r="1.75"/><circle cx="942.6" cy="349.9" r="1.75"/><circle cx="944.9" cy="344.2" r="1.75"/><circle cx="954.0" cy="325.2" r="1.75"/><circle cx="944.2" cy="337.5" r="1.75"/><circle cx="947.6" cy="333.0" r="1.75"/><circle cx="949.3" cy="349.2" r="1.75"/><circle cx="961.3" cy="325.1" r="1.75"/><circle cx="932.7" cy="348.4" r="1.75"/><circle cx="952.7" cy="329.9" r="1.75"/></g>
<path d="M751.50 257.50 L751.50 473.50 L1041.40 473.50" fill="none" stroke="#000" stroke-width="2.25" stroke-linejoin="miter" stroke-linecap="butt"/>
<path d="M777.30 474.60 L777.30 476.10 M842.01 474.60 L842.01 476.10 M906.72 474.60 L906.72 476.10 M971.43 474.60 L971.43 476.10 M1036.14 474.60 L1036.14 476.10 M748.90 273.54 L750.40 273.54 M748.90 321.30 L750.40 321.30 M748.90 369.06 L750.40 369.06 M748.90 416.82 L750.40 416.82 M748.90 464.58 L750.40 464.58" stroke="#000" stroke-width="1" fill="none"/>
<g><text x="777.30" y="486.20" font-size="10.80" text-anchor="middle">−0.2</text><text x="842.01" y="486.20" font-size="10.80" text-anchor="middle">−0.1</text><text x="906.72" y="486.20" font-size="10.80" text-anchor="middle">0.0</text><text x="971.43" y="486.20" font-size="10.80" text-anchor="middle">0.1</text><text x="1036.14" y="486.20" font-size="10.80" text-anchor="middle">0.2</text><text x="746.70" y="277.91" font-size="12.00" text-anchor="end">0.2</text><text x="746.70" y="325.67" font-size="12.00" text-anchor="end">0.1</text><text x="746.70" y="373.43" font-size="12.00" text-anchor="end">0.0</text><text x="746.70" y="421.19" font-size="12.00" text-anchor="end">−0.1</text><text x="746.70" y="468.95" font-size="12.00" text-anchor="end">−0.2</text></g>
<text x="897.80" y="504.90" font-size="17.10" text-anchor="middle">Split1 beta</text>
<text transform="translate(725.52 356.80) rotate(-90)" x="0" y="0" font-size="17.10" text-anchor="middle">Split2 beta</text>
<!-- a7 -->
<g transform="translate(64.00 534.00) scale(0.16615 0.16637) translate(-385.0 -205.0)"><g fill="none" stroke="#93b6b9" stroke-width="16" stroke-linecap="round" stroke-linejoin="round">
<path d="M392 630 L445 265 L525 212 C585 228 625 245 638 270 C640 295 625 300 615 305 C628 318 625 330 600 345 L570 350 L522 338 L518 548 C560 505 620 485 680 482 C720 452 780 440 832 446 L835 580 C750 628 650 658 560 656 C480 655 420 645 392 630 Z"/>
<path d="M548 285 C568 300 598 305 628 295"/>
<path d="M588 402 L624 440 M650 362 L663 415 M725 358 L706 405"/>
<path d="M550 560 C592 522 640 510 662 516 M710 492 C760 470 800 474 830 480 M450 468 L425 600"/>
</g></g>
<g fill="#93b6b9" stroke="#ffffff" stroke-width="0.45"><circle cx="69.8" cy="715.2" r="1.75"/><circle cx="172.3" cy="616.3" r="1.75"/><circle cx="199.4" cy="619.3" r="1.75"/><circle cx="296.6" cy="533.7" r="1.75"/><circle cx="307.4" cy="532.4" r="1.75"/><circle cx="214.9" cy="596.5" r="1.75"/><circle cx="215.7" cy="600.3" r="1.75"/><circle cx="212.5" cy="587.7" r="1.75"/><circle cx="197.6" cy="607.7" r="1.75"/><circle cx="196.8" cy="610.1" r="1.75"/><circle cx="200.8" cy="598.9" r="1.75"/><circle cx="212.2" cy="601.7" r="1.75"/><circle cx="207.6" cy="602.4" r="1.75"/><circle cx="206.2" cy="606.1" r="1.75"/><circle cx="210.6" cy="604.6" r="1.75"/><circle cx="209.9" cy="597.8" r="1.75"/><circle cx="202.9" cy="586.7" r="1.75"/><circle cx="245.7" cy="583.9" r="1.75"/><circle cx="236.1" cy="589.2" r="1.75"/><circle cx="226.0" cy="600.9" r="1.75"/><circle cx="235.2" cy="585.6" r="1.75"/><circle cx="233.5" cy="585.7" r="1.75"/><circle cx="214.3" cy="605.5" r="1.75"/><circle cx="235.5" cy="585.4" r="1.75"/><circle cx="224.7" cy="588.7" r="1.75"/><circle cx="225.1" cy="581.8" r="1.75"/><circle cx="214.6" cy="590.2" r="1.75"/><circle cx="236.5" cy="584.8" r="1.75"/><circle cx="237.8" cy="587.4" r="1.75"/><circle cx="219.8" cy="592.1" r="1.75"/><circle cx="240.8" cy="578.7" r="1.75"/><circle cx="226.2" cy="584.7" r="1.75"/><circle cx="253.7" cy="572.3" r="1.75"/><circle cx="250.9" cy="569.7" r="1.75"/><circle cx="264.1" cy="567.6" r="1.75"/><circle cx="256.4" cy="573.6" r="1.75"/><circle cx="254.1" cy="579.9" r="1.75"/><circle cx="256.0" cy="577.9" r="1.75"/><circle cx="248.6" cy="583.0" r="1.75"/><circle cx="255.8" cy="584.6" r="1.75"/><circle cx="264.5" cy="573.0" r="1.75"/><circle cx="255.5" cy="568.3" r="1.75"/><circle cx="260.8" cy="574.0" r="1.75"/><circle cx="265.3" cy="575.0" r="1.75"/><circle cx="263.0" cy="575.6" r="1.75"/><circle cx="256.9" cy="576.9" r="1.75"/><circle cx="252.5" cy="579.4" r="1.75"/><circle cx="252.1" cy="574.4" r="1.75"/><circle cx="262.9" cy="574.9" r="1.75"/><circle cx="257.3" cy="574.5" r="1.75"/><circle cx="322.8" cy="529.7" r="1.75"/><circle cx="326.5" cy="526.6" r="1.75"/><circle cx="321.5" cy="529.3" r="1.75"/><circle cx="314.1" cy="526.5" r="1.75"/><circle cx="332.8" cy="523.9" r="1.75"/><circle cx="324.5" cy="529.4" r="1.75"/><circle cx="324.6" cy="527.9" r="1.75"/><circle cx="336.8" cy="515.3" r="1.75"/><circle cx="322.4" cy="521.0" r="1.75"/><circle cx="323.7" cy="527.1" r="1.75"/><circle cx="325.6" cy="527.8" r="1.75"/><circle cx="324.3" cy="535.2" r="1.75"/><circle cx="321.8" cy="523.8" r="1.75"/><circle cx="318.8" cy="535.1" r="1.75"/><circle cx="324.2" cy="517.2" r="1.75"/><circle cx="326.6" cy="525.4" r="1.75"/><circle cx="326.4" cy="530.9" r="1.75"/><circle cx="331.2" cy="537.2" r="1.75"/><circle cx="332.4" cy="535.5" r="1.75"/><circle cx="332.8" cy="530.0" r="1.75"/><circle cx="324.1" cy="539.5" r="1.75"/><circle cx="324.5" cy="520.2" r="1.75"/><circle cx="325.0" cy="530.5" r="1.75"/><circle cx="314.6" cy="539.6" r="1.75"/><circle cx="319.5" cy="531.1" r="1.75"/><circle cx="313.4" cy="532.2" r="1.75"/><circle cx="324.8" cy="533.2" r="1.75"/><circle cx="329.3" cy="526.5" r="1.75"/></g>
<path d="M57.00 508.30 L57.00 724.60 L347.50 724.60" fill="none" stroke="#000" stroke-width="2.25" stroke-linejoin="miter" stroke-linecap="butt"/>
<path d="M57.16 725.70 L57.16 727.20 M103.04 725.70 L103.04 727.20 M148.92 725.70 L148.92 727.20 M194.80 725.70 L194.80 727.20 M240.68 725.70 L240.68 727.20 M286.56 725.70 L286.56 727.20 M332.44 725.70 L332.44 727.20 M54.40 523.34 L55.90 523.34 M54.40 553.27 L55.90 553.27 M54.40 583.21 L55.90 583.21 M54.40 613.14 L55.90 613.14 M54.40 643.08 L55.90 643.08 M54.40 673.01 L55.90 673.01 M54.40 702.95 L55.90 702.95" stroke="#000" stroke-width="1" fill="none"/>
<g><text x="57.16" y="737.30" font-size="10.80" text-anchor="middle">−0.25</text><text x="103.04" y="737.30" font-size="10.80" text-anchor="middle">−0.20</text><text x="148.92" y="737.30" font-size="10.80" text-anchor="middle">−0.15</text><text x="194.80" y="737.30" font-size="10.80" text-anchor="middle">−0.10</text><text x="240.68" y="737.30" font-size="10.80" text-anchor="middle">−0.05</text><text x="286.56" y="737.30" font-size="10.80" text-anchor="middle">0.00</text><text x="332.44" y="737.30" font-size="10.80" text-anchor="middle">0.05</text><text x="52.20" y="527.71" font-size="12.00" text-anchor="end">0.05</text><text x="52.20" y="557.65" font-size="12.00" text-anchor="end">0.00</text><text x="52.20" y="587.58" font-size="12.00" text-anchor="end">−0.05</text><text x="52.20" y="617.52" font-size="12.00" text-anchor="end">−0.10</text><text x="52.20" y="647.45" font-size="12.00" text-anchor="end">−0.15</text><text x="52.20" y="677.39" font-size="12.00" text-anchor="end">−0.20</text><text x="52.20" y="707.32" font-size="12.00" text-anchor="end">−0.25</text></g>
<text x="189.00" y="753.40" font-size="17.10" text-anchor="middle">Split1 beta</text>
<text transform="translate(15.52 605.90) rotate(-90)" x="0" y="0" font-size="17.10" text-anchor="middle">Split2 beta</text>
<!-- a8 -->
<g transform="translate(423.00 530.70) scale(0.16629 0.16613) translate(-500.0 -185.0)"><g fill="none" stroke="#5e9a58" stroke-width="12" stroke-linecap="round" stroke-linejoin="round">
<path d="M562 618 C518 618 505 600 505 548 C500 420 515 300 562 230 C582 200 608 188 628 190 C655 195 666 258 668 305 L672 522 C674 585 640 612 562 618 Z M662 322 C612 382 602 452 600 520 L556 596 M600 430 L546 476 M600 482 L650 530 M578 560 L602 592 M612 398 C630 410 645 440 652 462 M622 335 L558 335 M600 316 L576 272"/>
<path transform="translate(1444 0) scale(-1 1)" d="M562 618 C518 618 505 600 505 548 C500 420 515 300 562 230 C582 200 608 188 628 190 C655 195 666 258 668 305 L672 522 C674 585 640 612 562 618 Z M662 322 C612 382 602 452 600 520 L556 596 M600 430 L546 476 M600 482 L650 530 M578 560 L602 592 M612 398 C630 410 645 440 652 462 M622 335 L558 335 M600 316 L576 272"/>
<path d="M702 285 L702 213 L742 213 L742 285 M668 292 L702 285 M742 285 L776 292 M662 322 C690 300 705 296 722 296 C740 296 756 300 782 322"/>
</g></g>
<g fill="#5e9a58" stroke="#ffffff" stroke-width="0.45"><circle cx="424.7" cy="716.8" r="1.75"/><circle cx="477.6" cy="690.4" r="1.75"/><circle cx="447.7" cy="669.5" r="1.75"/><circle cx="454.6" cy="666.1" r="1.75"/><circle cx="457.6" cy="671.1" r="1.75"/><circle cx="459.6" cy="664.5" r="1.75"/><circle cx="461.3" cy="649.5" r="1.75"/><circle cx="478.7" cy="640.4" r="1.75"/><circle cx="493.2" cy="612.1" r="1.75"/><circle cx="504.1" cy="612.1" r="1.75"/><circle cx="507.5" cy="614.6" r="1.75"/><circle cx="497.0" cy="618.0" r="1.75"/><circle cx="499.5" cy="619.6" r="1.75"/><circle cx="503.6" cy="620.0" r="1.75"/><circle cx="493.7" cy="626.6" r="1.75"/><circle cx="499.5" cy="636.2" r="1.75"/><circle cx="503.2" cy="637.6" r="1.75"/><circle cx="512.8" cy="635.4" r="1.75"/><circle cx="514.4" cy="633.7" r="1.75"/><circle cx="517.4" cy="634.2" r="1.75"/><circle cx="517.8" cy="640.4" r="1.75"/><circle cx="518.6" cy="645.4" r="1.75"/><circle cx="524.4" cy="631.3" r="1.75"/><circle cx="525.2" cy="629.6" r="1.75"/><circle cx="539.0" cy="632.2" r="1.75"/><circle cx="543.5" cy="639.2" r="1.75"/><circle cx="535.7" cy="647.0" r="1.75"/><circle cx="576.8" cy="559.5" r="1.75"/><circle cx="592.5" cy="566.1" r="1.75"/><circle cx="597.5" cy="562.0" r="1.75"/><circle cx="605.0" cy="543.2" r="1.75"/><circle cx="614.6" cy="540.4" r="1.75"/><circle cx="603.7" cy="556.5" r="1.75"/><circle cx="609.1" cy="551.5" r="1.75"/><circle cx="612.5" cy="556.5" r="1.75"/><circle cx="605.3" cy="566.1" r="1.75"/><circle cx="627.1" cy="531.6" r="1.75"/><circle cx="637.4" cy="533.2" r="1.75"/><circle cx="678.9" cy="520.9" r="1.75"/><circle cx="678.4" cy="536.6" r="1.75"/><circle cx="687.7" cy="536.9" r="1.75"/><circle cx="661.5" cy="549.2" r="1.75"/><circle cx="622.4" cy="561.5" r="1.75"/><circle cx="624.9" cy="549.8" r="1.75"/><circle cx="628.3" cy="547.4" r="1.75"/><circle cx="628.3" cy="553.2" r="1.75"/><circle cx="626.6" cy="558.1" r="1.75"/><circle cx="629.9" cy="561.5" r="1.75"/><circle cx="634.9" cy="559.0" r="1.75"/><circle cx="628.3" cy="565.6" r="1.75"/><circle cx="640.7" cy="566.5" r="1.75"/><circle cx="644.0" cy="563.1" r="1.75"/><circle cx="640.7" cy="570.6" r="1.75"/><circle cx="644.0" cy="570.6" r="1.75"/><circle cx="649.0" cy="573.1" r="1.75"/><circle cx="650.7" cy="568.1" r="1.75"/><circle cx="654.0" cy="559.0" r="1.75"/><circle cx="655.7" cy="564.0" r="1.75"/><circle cx="663.6" cy="561.5" r="1.75"/><circle cx="655.7" cy="571.9" r="1.75"/><circle cx="658.7" cy="576.4" r="1.75"/><circle cx="645.7" cy="578.9" r="1.75"/><circle cx="669.8" cy="579.4" r="1.75"/><circle cx="635.7" cy="574.8" r="1.75"/><circle cx="635.7" cy="580.6" r="1.75"/><circle cx="631.6" cy="580.6" r="1.75"/><circle cx="629.1" cy="583.1" r="1.75"/><circle cx="622.4" cy="573.9" r="1.75"/><circle cx="626.6" cy="573.9" r="1.75"/><circle cx="621.6" cy="576.4" r="1.75"/><circle cx="622.4" cy="581.4" r="1.75"/><circle cx="620.4" cy="584.7" r="1.75"/></g>
<path d="M411.80 510.30 L411.80 726.30 L701.60 726.30" fill="none" stroke="#000" stroke-width="2.25" stroke-linejoin="miter" stroke-linecap="butt"/>
<path d="M429.66 727.40 L429.66 728.90 M463.22 727.40 L463.22 728.90 M496.78 727.40 L496.78 728.90 M530.34 727.40 L530.34 728.90 M563.90 727.40 L563.90 728.90 M597.46 727.40 L597.46 728.90 M631.02 727.40 L631.02 728.90 M664.58 727.40 L664.58 728.90 M698.14 727.40 L698.14 728.90 M409.20 552.38 L410.70 552.38 M409.20 597.96 L410.70 597.96 M409.20 643.54 L410.70 643.54 M409.20 689.12 L410.70 689.12" stroke="#000" stroke-width="1" fill="none"/>
<g><text x="429.66" y="739.00" font-size="10.80" text-anchor="middle">−0.08</text><text x="463.22" y="739.00" font-size="10.80" text-anchor="middle">−0.06</text><text x="496.78" y="739.00" font-size="10.80" text-anchor="middle">−0.04</text><text x="530.34" y="739.00" font-size="10.80" text-anchor="middle">−0.02</text><text x="563.90" y="739.00" font-size="10.80" text-anchor="middle">0.00</text><text x="597.46" y="739.00" font-size="10.80" text-anchor="middle">0.02</text><text x="631.02" y="739.00" font-size="10.80" text-anchor="middle">0.04</text><text x="664.58" y="739.00" font-size="10.80" text-anchor="middle">0.06</text><text x="698.14" y="739.00" font-size="10.80" text-anchor="middle">0.08</text><text x="407.00" y="556.75" font-size="12.00" text-anchor="end">0.05</text><text x="407.00" y="602.33" font-size="12.00" text-anchor="end">0.00</text><text x="407.00" y="647.91" font-size="12.00" text-anchor="end">−0.05</text><text x="407.00" y="693.49" font-size="12.00" text-anchor="end">−0.10</text></g>
<text x="547.30" y="754.20" font-size="17.10" text-anchor="middle">Split1 beta</text>
<text transform="translate(373.42 606.80) rotate(-90)" x="0" y="0" font-size="17.10" text-anchor="middle">Split2 beta</text>
<!-- a9 -->
<g transform="translate(759.00 530.70) scale(0.16598 0.16622) translate(-415.0 -185.0)"><g fill="none" stroke="#cfaebe" stroke-width="8" stroke-linecap="round" stroke-linejoin="round">
<path d="M562 252 C562 205 535 188 505 188 C452 190 418 240 418 302 C418 382 462 432 512 436 C542 436 562 420 562 392 M470 232 C440 272 436 332 466 388 M520 288 C585 292 612 332 616 392 L616 492 M528 330 C572 334 598 360 600 398 L600 492 M540 300 L470 300 M525 278 L492 258 M535 318 L498 345"/>
<path transform="translate(1264 0) scale(-1 1)" d="M562 252 C562 205 535 188 505 188 C452 190 418 240 418 302 C418 382 462 432 512 436 C542 436 562 420 562 392 M470 232 C440 272 436 332 466 388 M520 288 C585 292 612 332 616 392 L616 492 M528 330 C572 334 598 360 600 398 L600 492 M540 300 L470 300 M525 278 L492 258 M535 318 L498 345"/>
<path d="M600 494 C562 500 542 520 542 550 C542 590 582 605 632 605 C682 605 720 590 720 550 C720 520 702 500 664 494 M622 605 L622 635 M642 605 L642 635"/>
</g></g>
<g fill="#cfaebe" stroke="#ffffff" stroke-width="0.45"><circle cx="767.3" cy="716.8" r="1.75"/><circle cx="827.1" cy="689.9" r="1.75"/><circle cx="1016.5" cy="575.6" r="1.75"/><circle cx="995.7" cy="565.6" r="1.75"/><circle cx="1027.3" cy="568.1" r="1.75"/><circle cx="934.2" cy="567.3" r="1.75"/><circle cx="943.4" cy="568.9" r="1.75"/><circle cx="850.3" cy="666.6" r="1.75"/><circle cx="917.6" cy="575.6" r="1.75"/><circle cx="896.0" cy="629.3" r="1.75"/><circle cx="764.7" cy="707.5" r="1.75"/><circle cx="768.4" cy="715.9" r="1.75"/><circle cx="769.1" cy="702.4" r="1.75"/><circle cx="766.6" cy="695.0" r="1.75"/><circle cx="758.9" cy="712.9" r="1.75"/><circle cx="774.8" cy="711.1" r="1.75"/><circle cx="770.0" cy="703.0" r="1.75"/><circle cx="782.8" cy="696.2" r="1.75"/><circle cx="785.0" cy="698.1" r="1.75"/><circle cx="782.1" cy="688.0" r="1.75"/><circle cx="782.2" cy="691.5" r="1.75"/><circle cx="803.8" cy="686.4" r="1.75"/><circle cx="800.7" cy="681.0" r="1.75"/><circle cx="796.2" cy="681.1" r="1.75"/><circle cx="799.4" cy="690.8" r="1.75"/><circle cx="797.9" cy="679.7" r="1.75"/><circle cx="805.7" cy="697.7" r="1.75"/><circle cx="800.6" cy="674.1" r="1.75"/><circle cx="800.5" cy="694.9" r="1.75"/><circle cx="808.5" cy="676.1" r="1.75"/><circle cx="793.9" cy="687.3" r="1.75"/><circle cx="809.6" cy="680.5" r="1.75"/><circle cx="814.7" cy="674.3" r="1.75"/><circle cx="810.1" cy="665.5" r="1.75"/><circle cx="812.4" cy="674.7" r="1.75"/><circle cx="814.8" cy="677.5" r="1.75"/><circle cx="822.1" cy="667.6" r="1.75"/><circle cx="827.1" cy="671.7" r="1.75"/><circle cx="830.4" cy="671.4" r="1.75"/><circle cx="833.4" cy="665.5" r="1.75"/><circle cx="829.1" cy="666.1" r="1.75"/><circle cx="834.4" cy="661.2" r="1.75"/><circle cx="828.5" cy="664.1" r="1.75"/><circle cx="855.3" cy="641.1" r="1.75"/><circle cx="842.4" cy="645.2" r="1.75"/><circle cx="835.3" cy="659.7" r="1.75"/><circle cx="838.1" cy="648.6" r="1.75"/><circle cx="843.9" cy="651.6" r="1.75"/><circle cx="841.2" cy="647.2" r="1.75"/><circle cx="846.7" cy="654.3" r="1.75"/><circle cx="830.3" cy="653.5" r="1.75"/><circle cx="839.4" cy="651.6" r="1.75"/><circle cx="847.6" cy="644.6" r="1.75"/><circle cx="844.3" cy="642.2" r="1.75"/><circle cx="850.4" cy="649.9" r="1.75"/><circle cx="861.7" cy="649.7" r="1.75"/><circle cx="845.7" cy="635.0" r="1.75"/><circle cx="859.6" cy="646.5" r="1.75"/><circle cx="849.7" cy="648.8" r="1.75"/><circle cx="863.3" cy="649.5" r="1.75"/><circle cx="861.3" cy="648.7" r="1.75"/><circle cx="852.5" cy="652.7" r="1.75"/><circle cx="856.2" cy="642.4" r="1.75"/><circle cx="850.6" cy="645.8" r="1.75"/><circle cx="849.7" cy="640.9" r="1.75"/><circle cx="862.0" cy="640.3" r="1.75"/><circle cx="859.5" cy="635.6" r="1.75"/><circle cx="870.1" cy="650.1" r="1.75"/><circle cx="866.3" cy="633.4" r="1.75"/><circle cx="863.7" cy="635.3" r="1.75"/><circle cx="864.4" cy="640.9" r="1.75"/><circle cx="872.2" cy="621.9" r="1.75"/><circle cx="879.4" cy="635.7" r="1.75"/><circle cx="875.5" cy="632.5" r="1.75"/><circle cx="862.8" cy="629.0" r="1.75"/><circle cx="872.5" cy="636.3" r="1.75"/><circle cx="871.0" cy="624.2" r="1.75"/><circle cx="879.5" cy="630.3" r="1.75"/><circle cx="881.5" cy="636.0" r="1.75"/><circle cx="871.3" cy="639.2" r="1.75"/><circle cx="870.2" cy="621.9" r="1.75"/><circle cx="879.2" cy="624.0" r="1.75"/><circle cx="874.3" cy="624.3" r="1.75"/><circle cx="882.8" cy="622.4" r="1.75"/><circle cx="880.7" cy="624.3" r="1.75"/><circle cx="884.1" cy="624.5" r="1.75"/><circle cx="878.7" cy="624.1" r="1.75"/><circle cx="881.7" cy="627.9" r="1.75"/><circle cx="882.6" cy="627.2" r="1.75"/><circle cx="879.9" cy="628.3" r="1.75"/><circle cx="887.1" cy="624.0" r="1.75"/><circle cx="883.6" cy="625.5" r="1.75"/><circle cx="892.7" cy="621.7" r="1.75"/><circle cx="892.2" cy="614.2" r="1.75"/><circle cx="885.2" cy="620.3" r="1.75"/><circle cx="884.4" cy="615.3" r="1.75"/><circle cx="894.1" cy="628.9" r="1.75"/><circle cx="886.2" cy="612.8" r="1.75"/><circle cx="887.2" cy="613.9" r="1.75"/><circle cx="893.5" cy="617.4" r="1.75"/><circle cx="889.3" cy="617.4" r="1.75"/><circle cx="888.8" cy="615.0" r="1.75"/><circle cx="889.3" cy="611.7" r="1.75"/><circle cx="889.3" cy="613.3" r="1.75"/><circle cx="895.4" cy="623.2" r="1.75"/><circle cx="892.3" cy="613.6" r="1.75"/><circle cx="899.2" cy="619.8" r="1.75"/><circle cx="891.2" cy="607.2" r="1.75"/><circle cx="892.1" cy="611.3" r="1.75"/><circle cx="898.2" cy="613.9" r="1.75"/><circle cx="891.4" cy="604.3" r="1.75"/><circle cx="906.3" cy="616.8" r="1.75"/><circle cx="906.8" cy="618.7" r="1.75"/><circle cx="902.0" cy="618.0" r="1.75"/><circle cx="900.2" cy="620.8" r="1.75"/><circle cx="907.1" cy="615.2" r="1.75"/><circle cx="909.3" cy="617.7" r="1.75"/><circle cx="909.2" cy="618.5" r="1.75"/><circle cx="934.7" cy="589.0" r="1.75"/><circle cx="932.9" cy="592.7" r="1.75"/><circle cx="930.8" cy="590.0" r="1.75"/><circle cx="938.9" cy="583.7" r="1.75"/><circle cx="922.4" cy="592.4" r="1.75"/><circle cx="932.1" cy="599.3" r="1.75"/><circle cx="934.9" cy="598.4" r="1.75"/><circle cx="937.0" cy="600.2" r="1.75"/><circle cx="924.7" cy="593.3" r="1.75"/><circle cx="921.6" cy="606.5" r="1.75"/><circle cx="945.5" cy="587.1" r="1.75"/><circle cx="929.1" cy="595.1" r="1.75"/><circle cx="937.8" cy="604.3" r="1.75"/><circle cx="928.7" cy="596.1" r="1.75"/><circle cx="935.4" cy="591.7" r="1.75"/><circle cx="924.5" cy="590.5" r="1.75"/><circle cx="935.0" cy="597.9" r="1.75"/><circle cx="932.9" cy="585.0" r="1.75"/><circle cx="931.7" cy="592.1" r="1.75"/><circle cx="936.4" cy="597.5" r="1.75"/><circle cx="926.6" cy="587.7" r="1.75"/><circle cx="928.9" cy="605.1" r="1.75"/><circle cx="936.7" cy="585.4" r="1.75"/><circle cx="938.3" cy="601.1" r="1.75"/><circle cx="922.5" cy="586.3" r="1.75"/><circle cx="930.1" cy="584.5" r="1.75"/><circle cx="921.4" cy="601.4" r="1.75"/><circle cx="945.5" cy="585.7" r="1.75"/><circle cx="929.4" cy="597.4" r="1.75"/><circle cx="934.4" cy="602.4" r="1.75"/><circle cx="954.0" cy="579.1" r="1.75"/><circle cx="941.3" cy="581.4" r="1.75"/><circle cx="941.9" cy="582.4" r="1.75"/><circle cx="943.1" cy="583.8" r="1.75"/><circle cx="960.4" cy="578.8" r="1.75"/><circle cx="955.9" cy="578.7" r="1.75"/><circle cx="951.8" cy="582.0" r="1.75"/><circle cx="950.5" cy="586.8" r="1.75"/><circle cx="958.6" cy="579.4" r="1.75"/><circle cx="962.2" cy="570.8" r="1.75"/><circle cx="958.3" cy="583.5" r="1.75"/><circle cx="959.3" cy="572.9" r="1.75"/><circle cx="963.4" cy="562.1" r="1.75"/><circle cx="956.1" cy="577.6" r="1.75"/><circle cx="958.7" cy="576.4" r="1.75"/><circle cx="958.1" cy="567.8" r="1.75"/><circle cx="955.8" cy="577.5" r="1.75"/><circle cx="968.5" cy="563.8" r="1.75"/><circle cx="955.8" cy="576.7" r="1.75"/><circle cx="956.4" cy="581.8" r="1.75"/><circle cx="974.3" cy="563.6" r="1.75"/><circle cx="974.8" cy="566.6" r="1.75"/><circle cx="975.6" cy="559.2" r="1.75"/><circle cx="975.7" cy="563.7" r="1.75"/><circle cx="983.6" cy="553.4" r="1.75"/><circle cx="983.8" cy="550.1" r="1.75"/><circle cx="984.0" cy="555.5" r="1.75"/><circle cx="989.9" cy="557.5" r="1.75"/><circle cx="977.9" cy="554.8" r="1.75"/><circle cx="984.0" cy="557.0" r="1.75"/><circle cx="982.2" cy="560.5" r="1.75"/><circle cx="986.8" cy="549.2" r="1.75"/><circle cx="976.2" cy="551.1" r="1.75"/><circle cx="985.8" cy="554.8" r="1.75"/><circle cx="1008.9" cy="536.9" r="1.75"/><circle cx="1004.7" cy="542.1" r="1.75"/><circle cx="1005.7" cy="540.0" r="1.75"/></g>
<path d="M751.10 510.30 L751.10 726.30 L1040.90 726.30" fill="none" stroke="#000" stroke-width="2.25" stroke-linejoin="miter" stroke-linecap="butt"/>
<path d="M756.23 727.40 L756.23 728.90 M807.63 727.40 L807.63 728.90 M859.03 727.40 L859.03 728.90 M910.43 727.40 L910.43 728.90 M961.83 727.40 L961.83 728.90 M1013.23 727.40 L1013.23 728.90 M748.50 539.20 L750.00 539.20 M748.50 572.96 L750.00 572.96 M748.50 606.72 L750.00 606.72 M748.50 640.48 L750.00 640.48 M748.50 674.24 L750.00 674.24 M748.50 708.00 L750.00 708.00" stroke="#000" stroke-width="1" fill="none"/>
<g><text x="756.23" y="739.00" font-size="10.80" text-anchor="middle">−0.3</text><text x="807.63" y="739.00" font-size="10.80" text-anchor="middle">−0.2</text><text x="859.03" y="739.00" font-size="10.80" text-anchor="middle">−0.1</text><text x="910.43" y="739.00" font-size="10.80" text-anchor="middle">0.0</text><text x="961.83" y="739.00" font-size="10.80" text-anchor="middle">0.1</text><text x="1013.23" y="739.00" font-size="10.80" text-anchor="middle">0.2</text><text x="746.30" y="543.57" font-size="12.00" text-anchor="end">0.2</text><text x="746.30" y="577.33" font-size="12.00" text-anchor="end">0.1</text><text x="746.30" y="611.09" font-size="12.00" text-anchor="end">0.0</text><text x="746.30" y="644.85" font-size="12.00" text-anchor="end">−0.1</text><text x="746.30" y="678.61" font-size="12.00" text-anchor="end">−0.2</text><text x="746.30" y="712.37" font-size="12.00" text-anchor="end">−0.3</text></g>
<text x="898.10" y="754.20" font-size="17.10" text-anchor="middle">Split1 beta</text>
<text transform="translate(719.72 606.80) rotate(-90)" x="0" y="0" font-size="17.10" text-anchor="middle">Split2 beta</text>
<!-- b1 -->
<g transform="translate(1192.20 11.60) scale(0.04175 0.04150) translate(-80.0 -100.0)"><g fill="none" stroke="#336fa0" stroke-width="58" stroke-linecap="round" stroke-linejoin="round">
<path d="M1120 1540 L1295 1540 L1288 1338 C1420 1350 1560 1280 1600 1110 C1700 1080 1765 990 1762 880 C1790 800 1765 740 1750 690 C1780 600 1720 520 1625 480 C1600 380 1500 300 1400 290 C1350 200 1250 150 1150 165 C1100 115 980 115 940 165 C880 120 720 130 640 225 C540 215 455 250 420 305 C300 315 200 400 190 525 C100 610 85 800 160 900 C230 1000 360 1035 505 1020 C560 1130 660 1200 800 1212 C980 1230 1085 1330 1120 1540 Z"/>
<path d="M375 522 C450 580 600 565 650 455 M650 350 L650 455 L780 492"/>
<path d="M178 572 C205 680 300 730 420 722 M372 740 L372 870"/>
<path d="M878 392 C980 412 1050 482 1060 572"/>
<path d="M1258 422 C1380 442 1470 532 1492 652"/>
<path d="M835 582 C855 722 962 800 1060 792 C1180 792 1282 722 1312 622 M1042 802 L1070 950"/>
<path d="M1072 352 C1062 252 1112 192 1162 172"/>
<path d="M712 712 C782 782 812 862 772 960"/>
<path d="M642 832 C562 872 522 962 532 1032"/>
<path d="M1032 1092 C1122 1150 1282 1132 1352 1022"/>
<path d="M1382 802 C1500 842 1582 932 1602 1082"/>
</g></g>
<g fill="#336fa0" stroke="#ffffff" stroke-width="0.45"><circle cx="1183.9" cy="13.3" r="1.75"/><circle cx="1268.6" cy="44.4" r="1.75"/><circle cx="1286.6" cy="47.0" r="1.75"/><circle cx="1271.6" cy="59.5" r="1.75"/><circle cx="1268.3" cy="66.1" r="1.75"/><circle cx="1275.8" cy="67.3" r="1.75"/><circle cx="1276.9" cy="64.5" r="1.75"/><circle cx="1280.6" cy="67.3" r="1.75"/><circle cx="1281.6" cy="76.4" r="1.75"/><circle cx="1239.6" cy="75.9" r="1.75"/><circle cx="1225.8" cy="85.9" r="1.75"/><circle cx="1262.0" cy="92.7" r="1.75"/><circle cx="1299.4" cy="99.7" r="1.75"/><circle cx="1448.6" cy="210.7" r="1.75"/></g>
<path d="M1171.10 2.50 L1171.10 220.60 L1462.90 220.60" fill="none" stroke="#000" stroke-width="2.25" stroke-linejoin="miter" stroke-linecap="butt"/>
<path d="M1199.62 221.70 L1199.62 223.20 M1234.95 221.70 L1234.95 223.20 M1270.27 221.70 L1270.27 223.20 M1305.59 221.70 L1305.59 223.20 M1340.91 221.70 L1340.91 223.20 M1376.23 221.70 L1376.23 223.20 M1411.55 221.70 L1411.55 223.20 M1446.88 221.70 L1446.88 223.20 M1168.50 30.33 L1170.00 30.33 M1168.50 66.40 L1170.00 66.40 M1168.50 102.47 L1170.00 102.47 M1168.50 138.53 L1170.00 138.53 M1168.50 174.60 L1170.00 174.60 M1168.50 210.67 L1170.00 210.67" stroke="#000" stroke-width="1" fill="none"/>
<g><text x="1199.62" y="233.20" font-size="10.30" text-anchor="middle">0.025</text><text x="1234.95" y="233.20" font-size="10.30" text-anchor="middle">0.050</text><text x="1270.27" y="233.20" font-size="10.30" text-anchor="middle">0.075</text><text x="1305.59" y="233.20" font-size="10.30" text-anchor="middle">0.100</text><text x="1340.91" y="233.20" font-size="10.30" text-anchor="middle">0.125</text><text x="1376.23" y="233.20" font-size="10.30" text-anchor="middle">0.150</text><text x="1411.55" y="233.20" font-size="10.30" text-anchor="middle">0.175</text><text x="1446.88" y="233.20" font-size="10.30" text-anchor="middle">0.200</text><text x="1166.30" y="34.37" font-size="11.10" text-anchor="end">0.10</text><text x="1166.30" y="70.44" font-size="11.10" text-anchor="end">0.08</text><text x="1166.30" y="106.51" font-size="11.10" text-anchor="end">0.06</text><text x="1166.30" y="142.58" font-size="11.10" text-anchor="end">0.04</text><text x="1166.30" y="178.65" font-size="11.10" text-anchor="end">0.02</text><text x="1166.30" y="214.72" font-size="11.10" text-anchor="end">0.00</text></g>
<text x="1327.60" y="247.50" font-size="17.00" text-anchor="middle">female beta</text>
<text transform="translate(1137.76 112.20) rotate(-90)" x="0" y="0" font-size="17.00" text-anchor="middle">male beta</text>
<text x="1190.54" y="187.00" font-size="82">b</text>
<!-- b2 -->
<g transform="translate(1532.20 4.70) scale(0.05010 0.04987) translate(-85.0 -60.0)"><g fill="none" stroke="#3d8a70" stroke-width="40" stroke-linecap="butt" stroke-linejoin="round">
<path d="M545 1040 C600 1200 800 1330 1000 1400 C1100 1425 1175 1390 1205 1300 C1250 1150 1250 950 1205 820 C1175 720 1130 685 1095 665"/>
<path d="M545 1045 C500 960 515 870 565 780 C590 700 585 600 590 480 C600 380 620 260 560 175 C500 110 420 95 345 95"/>
<path d="M315 205 C420 180 530 230 560 300"/>
<path d="M710 850 C660 700 695 460 765 355 C825 255 950 150 1140 90"/>
<path d="M735 850 C650 900 590 960 555 1030"/>
<path d="M745 480 L815 478 L775 400 C785 330 850 285 905 262 C955 250 990 300 1000 370 C1030 300 1100 205 1275 78"/>
<path d="M855 762 C820 700 830 622 882 592 C1000 545 1150 505 1250 472 C1350 432 1420 382 1470 362"/>
<path d="M972 872 C952 762 992 682 1082 652 C1152 622 1232 602 1302 622 C1402 662 1482 692 1552 722"/>
<path d="M1062 482 C1082 352 1152 232 1302 172"/>
<path d="M1200 300 L1255 442 L1405 242"/>
<path d="M1255 462 C1305 502 1405 522 1505 492"/>
<path d="M1405 662 L1602 620"/>
<path d="M1002 802 C1152 792 1352 802 1552 822"/>
<path d="M1302 822 L1302 992"/>
<path d="M1342 882 C1422 952 1462 1052 1472 1182"/>
<path d="M1472 1022 C1522 1052 1552 1102 1562 1152"/>
<path d="M1462 862 C1512 902 1542 952 1552 992"/>
<path d="M530 580 L190 500 M530 600 L150 650 M540 620 L250 752 M540 560 L250 352 M500 570 L330 312 M480 560 L442 330"/>
<path d="M545 792 L392 782 M530 800 C400 850 300 900 110 942 M230 942 L252 1112 M190 952 C150 1012 112 1072 92 1112"/>
<path d="M505 842 C452 1002 352 1152 150 1282 M270 1232 L270 1342 M400 1100 L452 1190"/>
<path d="M760 1322 L760 1582 M870 1362 L870 1582 M982 1402 L982 1592"/>
</g></g>
<g fill="#3d8a70" stroke="#ffffff" stroke-width="0.45"><circle cx="1788.9" cy="12.0" r="1.75"/><circle cx="1791.9" cy="15.0" r="1.75"/><circle cx="1747.4" cy="52.3" r="1.75"/><circle cx="1762.6" cy="60.6" r="1.75"/><circle cx="1727.9" cy="60.6" r="1.75"/><circle cx="1730.4" cy="83.4" r="1.75"/><circle cx="1709.5" cy="81.9" r="1.75"/><circle cx="1616.6" cy="71.4" r="1.75"/><circle cx="1622.4" cy="81.1" r="1.75"/><circle cx="1630.7" cy="85.1" r="1.75"/><circle cx="1626.6" cy="93.5" r="1.75"/><circle cx="1630.7" cy="91.4" r="1.75"/><circle cx="1637.4" cy="95.2" r="1.75"/><circle cx="1664.3" cy="93.4" r="1.75"/><circle cx="1665.3" cy="91.0" r="1.75"/><circle cx="1668.9" cy="89.7" r="1.75"/><circle cx="1673.1" cy="91.0" r="1.75"/><circle cx="1677.1" cy="75.3" r="1.75"/><circle cx="1677.2" cy="81.9" r="1.75"/><circle cx="1679.2" cy="89.2" r="1.75"/><circle cx="1681.7" cy="84.2" r="1.75"/><circle cx="1686.7" cy="81.1" r="1.75"/><circle cx="1692.0" cy="73.1" r="1.75"/><circle cx="1692.0" cy="84.2" r="1.75"/><circle cx="1698.7" cy="82.6" r="1.75"/><circle cx="1700.3" cy="80.6" r="1.75"/><circle cx="1699.5" cy="85.6" r="1.75"/><circle cx="1684.6" cy="103.3" r="1.75"/><circle cx="1688.4" cy="100.5" r="1.75"/><circle cx="1697.7" cy="111.0" r="1.75"/><circle cx="1690.4" cy="119.1" r="1.75"/><circle cx="1698.0" cy="121.0" r="1.75"/><circle cx="1549.7" cy="144.9" r="1.75"/><circle cx="1543.0" cy="152.5" r="1.75"/><circle cx="1549.3" cy="159.8" r="1.75"/><circle cx="1549.0" cy="164.8" r="1.75"/><circle cx="1526.9" cy="167.3" r="1.75"/><circle cx="1528.4" cy="172.5" r="1.75"/><circle cx="1534.2" cy="173.3" r="1.75"/><circle cx="1536.4" cy="165.3" r="1.75"/><circle cx="1543.3" cy="172.5" r="1.75"/><circle cx="1536.4" cy="180.6" r="1.75"/><circle cx="1543.0" cy="179.9" r="1.75"/><circle cx="1545.8" cy="181.6" r="1.75"/><circle cx="1545.0" cy="183.3" r="1.75"/><circle cx="1554.3" cy="186.1" r="1.75"/><circle cx="1557.5" cy="188.1" r="1.75"/><circle cx="1561.8" cy="185.7" r="1.75"/><circle cx="1560.8" cy="178.6" r="1.75"/><circle cx="1561.6" cy="191.9" r="1.75"/><circle cx="1564.3" cy="199.7" r="1.75"/><circle cx="1574.9" cy="186.1" r="1.75"/><circle cx="1578.7" cy="179.9" r="1.75"/><circle cx="1589.2" cy="178.1" r="1.75"/><circle cx="1608.1" cy="177.3" r="1.75"/><circle cx="1614.4" cy="180.8" r="1.75"/><circle cx="1536.9" cy="201.0" r="1.75"/><circle cx="1534.2" cy="209.8" r="1.75"/></g>
<path d="M1513.60 1.70 L1513.60 219.80 L1806.10 219.80" fill="none" stroke="#000" stroke-width="2.25" stroke-linejoin="miter" stroke-linecap="butt"/>
<path d="M1544.89 220.90 L1544.89 222.40 M1580.70 220.90 L1580.70 222.40 M1616.50 220.90 L1616.50 222.40 M1652.31 220.90 L1652.31 222.40 M1688.12 220.90 L1688.12 222.40 M1723.92 220.90 L1723.92 222.40 M1759.73 220.90 L1759.73 222.40 M1795.53 220.90 L1795.53 222.40 M1511.00 9.16 L1512.50 9.16 M1511.00 34.70 L1512.50 34.70 M1511.00 60.24 L1512.50 60.24 M1511.00 85.78 L1512.50 85.78 M1511.00 111.32 L1512.50 111.32 M1511.00 136.86 L1512.50 136.86 M1511.00 162.40 L1512.50 162.40 M1511.00 187.94 L1512.50 187.94 M1511.00 213.48 L1512.50 213.48" stroke="#000" stroke-width="1" fill="none"/>
<g><text x="1544.89" y="232.40" font-size="10.30" text-anchor="middle">−0.04</text><text x="1580.70" y="232.40" font-size="10.30" text-anchor="middle">−0.02</text><text x="1616.50" y="232.40" font-size="10.30" text-anchor="middle">0.00</text><text x="1652.31" y="232.40" font-size="10.30" text-anchor="middle">0.02</text><text x="1688.12" y="232.40" font-size="10.30" text-anchor="middle">0.04</text><text x="1723.92" y="232.40" font-size="10.30" text-anchor="middle">0.06</text><text x="1759.73" y="232.40" font-size="10.30" text-anchor="middle">0.08</text><text x="1795.53" y="232.40" font-size="10.30" text-anchor="middle">0.10</text><text x="1508.80" y="13.21" font-size="11.10" text-anchor="end">0.10</text><text x="1508.80" y="38.75" font-size="11.10" text-anchor="end">0.08</text><text x="1508.80" y="64.29" font-size="11.10" text-anchor="end">0.06</text><text x="1508.80" y="89.83" font-size="11.10" text-anchor="end">0.04</text><text x="1508.80" y="115.37" font-size="11.10" text-anchor="end">0.02</text><text x="1508.80" y="140.91" font-size="11.10" text-anchor="end">0.00</text><text x="1508.80" y="166.45" font-size="11.10" text-anchor="end">−0.02</text><text x="1508.80" y="191.99" font-size="11.10" text-anchor="end">−0.04</text><text x="1508.80" y="217.53" font-size="11.10" text-anchor="end">−0.06</text></g>
<text x="1666.00" y="245.00" font-size="17.00" text-anchor="middle">female beta</text>
<text transform="translate(1478.86 107.20) rotate(-90)" x="0" y="0" font-size="17.00" text-anchor="middle">male beta</text>
<!-- b3 -->
<g transform="translate(1873.00 4.70) scale(0.16481 0.16571) translate(-455.0 -45.0)"><g fill="none" stroke="#e85a2b" stroke-width="22" stroke-linecap="butt" stroke-linejoin="miter">
<path d="M482 280 C580 150 650 138 727 138 C805 138 875 150 972 280 C875 410 805 422 727 422 C650 422 580 410 482 280 Z"/>
<circle cx="727" cy="280" r="126"/>
<path d="M468 155 L506 192 M586 75 L606 128 M727 45 L727 104 M868 75 L848 128 M986 155 L948 192"/>
</g>
<circle cx="727" cy="282" r="76" fill="#e85a2b"/>
<circle cx="674" cy="246" r="26" fill="#ffffff"/></g>
<g fill="#e85a2b" stroke="#ffffff" stroke-width="0.45"><circle cx="2103.7" cy="11.1" r="1.75"/><circle cx="2110.3" cy="16.6" r="1.75"/><circle cx="2115.3" cy="18.6" r="1.75"/><circle cx="2128.4" cy="22.8" r="1.75"/><circle cx="2065.0" cy="22.4" r="1.75"/><circle cx="2082.4" cy="24.1" r="1.75"/><circle cx="2038.7" cy="27.1" r="1.75"/><circle cx="2031.7" cy="31.6" r="1.75"/><circle cx="2021.4" cy="43.0" r="1.75"/><circle cx="2020.1" cy="56.5" r="1.75"/><circle cx="2020.1" cy="57.8" r="1.75"/><circle cx="1995.5" cy="59.3" r="1.75"/><circle cx="1968.1" cy="76.4" r="1.75"/><circle cx="1963.3" cy="79.4" r="1.75"/><circle cx="1969.4" cy="85.9" r="1.75"/><circle cx="1991.0" cy="80.9" r="1.75"/><circle cx="1997.2" cy="78.1" r="1.75"/><circle cx="2000.2" cy="83.9" r="1.75"/><circle cx="2020.1" cy="83.4" r="1.75"/><circle cx="2021.4" cy="79.7" r="1.75"/><circle cx="2025.6" cy="90.5" r="1.75"/><circle cx="2001.3" cy="96.4" r="1.75"/><circle cx="2008.5" cy="98.9" r="1.75"/><circle cx="2009.8" cy="100.5" r="1.75"/><circle cx="1999.8" cy="111.0" r="1.75"/><circle cx="2002.3" cy="129.1" r="1.75"/><circle cx="1863.6" cy="133.4" r="1.75"/><circle cx="1885.5" cy="153.7" r="1.75"/><circle cx="1900.5" cy="155.0" r="1.75"/><circle cx="1879.7" cy="166.1" r="1.75"/><circle cx="1901.0" cy="175.8" r="1.75"/><circle cx="1913.8" cy="182.3" r="1.75"/><circle cx="1912.1" cy="184.4" r="1.75"/><circle cx="1925.7" cy="181.1" r="1.75"/><circle cx="1889.7" cy="188.6" r="1.75"/><circle cx="1894.7" cy="187.4" r="1.75"/><circle cx="1893.3" cy="191.4" r="1.75"/><circle cx="1897.2" cy="191.4" r="1.75"/><circle cx="1904.0" cy="190.2" r="1.75"/><circle cx="1892.2" cy="197.4" r="1.75"/><circle cx="1903.5" cy="198.2" r="1.75"/><circle cx="1883.9" cy="208.5" r="1.75"/></g>
<path d="M1850.60 0.00 L1850.60 218.00 L2142.20 218.00" fill="none" stroke="#000" stroke-width="2.25" stroke-linejoin="miter" stroke-linecap="butt"/>
<path d="M1864.31 219.10 L1864.31 220.60 M1906.56 219.10 L1906.56 220.60 M1948.81 219.10 L1948.81 220.60 M1991.06 219.10 L1991.06 220.60 M2033.31 219.10 L2033.31 220.60 M2075.56 219.10 L2075.56 220.60 M2117.81 219.10 L2117.81 220.60 M1848.00 20.00 L1849.50 20.00 M1848.00 57.88 L1849.50 57.88 M1848.00 95.77 L1849.50 95.77 M1848.00 133.66 L1849.50 133.66 M1848.00 171.55 L1849.50 171.55 M1848.00 209.44 L1849.50 209.44" stroke="#000" stroke-width="1" fill="none"/>
<g><text x="1864.31" y="230.60" font-size="10.30" text-anchor="middle">−0.10</text><text x="1906.56" y="230.60" font-size="10.30" text-anchor="middle">−0.05</text><text x="1948.81" y="230.60" font-size="10.30" text-anchor="middle">0.00</text><text x="1991.06" y="230.60" font-size="10.30" text-anchor="middle">0.05</text><text x="2033.31" y="230.60" font-size="10.30" text-anchor="middle">0.10</text><text x="2075.56" y="230.60" font-size="10.30" text-anchor="middle">0.15</text><text x="2117.81" y="230.60" font-size="10.30" text-anchor="middle">0.20</text><text x="1845.80" y="24.04" font-size="11.10" text-anchor="end">0.15</text><text x="1845.80" y="61.93" font-size="11.10" text-anchor="end">0.10</text><text x="1845.80" y="99.82" font-size="11.10" text-anchor="end">0.05</text><text x="1845.80" y="137.71" font-size="11.10" text-anchor="end">0.00</text><text x="1845.80" y="175.60" font-size="11.10" text-anchor="end">−0.05</text><text x="1845.80" y="213.48" font-size="11.10" text-anchor="end">−0.10</text></g>
<text x="2010.00" y="243.40" font-size="17.00" text-anchor="middle">female beta</text>
<text transform="translate(1821.76 106.40) rotate(-90)" x="0" y="0" font-size="17.00" text-anchor="middle">male beta</text>
<!-- b4 -->
<g transform="translate(1194.40 249.00) scale(0.16682 0.16658) translate(-400.0 -125.0)"><g fill="none" stroke="#c8b634" stroke-width="15" stroke-linecap="round" stroke-linejoin="round">
<path d="M455 515 C430 520 410 500 405 460 C395 380 395 290 440 232 C490 182 600 167 700 165 C760 165 820 178 836 206 C820 235 790 262 758 292 C728 320 700 335 660 345 M604 392 C560 430 510 480 478 505 C470 512 462 515 455 515"/>
<path d="M418 452 C500 392 600 322 680 267 C722 240 752 202 770 170"/>
<path d="M636 262 C641 230 651 200 671 168"/>
<path d="M588 165 L588 135 L630 135 L630 165 M697 165 L697 135 L739 135 L739 165"/>
<circle cx="567" cy="404" r="36"/>
<path d="M603 400 C640 375 690 360 742 352 M694 337 L694 492 M660 337 L694 372"/>
</g></g>
<g fill="#c8b634" stroke="#ffffff" stroke-width="0.45"><circle cx="1182.6" cy="408.7" r="1.75"/><circle cx="1420.7" cy="465.2" r="1.75"/><circle cx="1290.7" cy="371.6" r="1.75"/><circle cx="1303.0" cy="359.2" r="1.75"/><circle cx="1306.0" cy="375.1" r="1.75"/><circle cx="1338.7" cy="385.4" r="1.75"/><circle cx="1351.2" cy="427.4" r="1.75"/><circle cx="1365.8" cy="425.3" r="1.75"/><circle cx="1373.3" cy="424.4" r="1.75"/><circle cx="1380.8" cy="422.0" r="1.75"/><circle cx="1425.3" cy="419.1" r="1.75"/><circle cx="1410.7" cy="410.8" r="1.75"/><circle cx="1402.0" cy="402.0" r="1.75"/><circle cx="1420.7" cy="285.4" r="1.75"/><circle cx="1421.1" cy="267.4" r="1.75"/><circle cx="1405.4" cy="292.4" r="1.75"/><circle cx="1409.0" cy="297.8" r="1.75"/><circle cx="1409.0" cy="309.5" r="1.75"/><circle cx="1354.2" cy="348.0" r="1.75"/><circle cx="1350.9" cy="356.7" r="1.75"/><circle cx="1447.2" cy="345.0" r="1.75"/><circle cx="1442.2" cy="349.2" r="1.75"/><circle cx="1438.9" cy="354.7" r="1.75"/><circle cx="1405.7" cy="375.4" r="1.75"/><circle cx="1331.4" cy="368.1" r="1.75"/><circle cx="1326.6" cy="366.6" r="1.75"/><circle cx="1310.3" cy="370.1" r="1.75"/><circle cx="1328.0" cy="371.5" r="1.75"/><circle cx="1324.9" cy="369.0" r="1.75"/><circle cx="1309.3" cy="373.9" r="1.75"/><circle cx="1326.6" cy="372.6" r="1.75"/><circle cx="1313.3" cy="371.5" r="1.75"/><circle cx="1325.1" cy="369.9" r="1.75"/><circle cx="1308.6" cy="376.8" r="1.75"/><circle cx="1313.1" cy="366.9" r="1.75"/><circle cx="1319.2" cy="374.4" r="1.75"/><circle cx="1333.9" cy="372.8" r="1.75"/><circle cx="1319.9" cy="368.8" r="1.75"/><circle cx="1313.7" cy="368.8" r="1.75"/><circle cx="1337.0" cy="369.1" r="1.75"/><circle cx="1325.9" cy="370.5" r="1.75"/><circle cx="1318.6" cy="364.5" r="1.75"/><circle cx="1310.2" cy="372.4" r="1.75"/><circle cx="1332.2" cy="366.4" r="1.75"/><circle cx="1300.1" cy="367.5" r="1.75"/><circle cx="1323.0" cy="372.8" r="1.75"/><circle cx="1313.3" cy="369.1" r="1.75"/><circle cx="1305.3" cy="366.4" r="1.75"/><circle cx="1332.6" cy="366.1" r="1.75"/><circle cx="1364.8" cy="369.4" r="1.75"/><circle cx="1365.8" cy="356.4" r="1.75"/><circle cx="1362.2" cy="361.9" r="1.75"/><circle cx="1362.4" cy="359.9" r="1.75"/><circle cx="1372.8" cy="362.3" r="1.75"/><circle cx="1372.9" cy="362.8" r="1.75"/><circle cx="1364.4" cy="364.5" r="1.75"/><circle cx="1379.0" cy="356.6" r="1.75"/><circle cx="1366.3" cy="372.0" r="1.75"/><circle cx="1366.2" cy="360.6" r="1.75"/><circle cx="1364.4" cy="360.9" r="1.75"/><circle cx="1364.5" cy="372.2" r="1.75"/><circle cx="1351.0" cy="357.4" r="1.75"/><circle cx="1361.2" cy="362.2" r="1.75"/><circle cx="1368.2" cy="364.5" r="1.75"/><circle cx="1368.8" cy="353.4" r="1.75"/><circle cx="1373.0" cy="355.8" r="1.75"/><circle cx="1378.5" cy="352.2" r="1.75"/><circle cx="1377.4" cy="364.0" r="1.75"/><circle cx="1373.7" cy="362.7" r="1.75"/><circle cx="1374.9" cy="365.9" r="1.75"/><circle cx="1369.8" cy="362.1" r="1.75"/><circle cx="1366.5" cy="352.5" r="1.75"/><circle cx="1376.8" cy="350.9" r="1.75"/><circle cx="1364.2" cy="350.8" r="1.75"/><circle cx="1365.5" cy="366.2" r="1.75"/><circle cx="1360.3" cy="359.0" r="1.75"/><circle cx="1359.2" cy="361.9" r="1.75"/><circle cx="1365.4" cy="360.3" r="1.75"/><circle cx="1375.1" cy="367.8" r="1.75"/><circle cx="1370.9" cy="357.8" r="1.75"/><circle cx="1371.6" cy="363.0" r="1.75"/><circle cx="1373.3" cy="356.5" r="1.75"/><circle cx="1376.2" cy="359.7" r="1.75"/><circle cx="1377.0" cy="366.5" r="1.75"/><circle cx="1375.9" cy="366.1" r="1.75"/><circle cx="1379.8" cy="360.3" r="1.75"/><circle cx="1370.6" cy="355.3" r="1.75"/><circle cx="1372.4" cy="361.9" r="1.75"/><circle cx="1375.8" cy="353.2" r="1.75"/><circle cx="1363.0" cy="358.9" r="1.75"/><circle cx="1353.8" cy="361.9" r="1.75"/><circle cx="1380.0" cy="367.7" r="1.75"/><circle cx="1378.0" cy="364.5" r="1.75"/><circle cx="1382.1" cy="361.7" r="1.75"/><circle cx="1363.7" cy="366.7" r="1.75"/><circle cx="1378.2" cy="362.6" r="1.75"/><circle cx="1373.8" cy="360.4" r="1.75"/><circle cx="1369.7" cy="357.9" r="1.75"/><circle cx="1378.3" cy="362.3" r="1.75"/><circle cx="1365.9" cy="368.8" r="1.75"/><circle cx="1371.2" cy="361.6" r="1.75"/><circle cx="1363.8" cy="366.4" r="1.75"/><circle cx="1367.7" cy="363.2" r="1.75"/><circle cx="1372.9" cy="363.8" r="1.75"/><circle cx="1376.1" cy="363.0" r="1.75"/><circle cx="1376.4" cy="361.7" r="1.75"/><circle cx="1366.6" cy="361.9" r="1.75"/><circle cx="1377.3" cy="361.5" r="1.75"/><circle cx="1366.4" cy="357.2" r="1.75"/><circle cx="1364.6" cy="359.5" r="1.75"/><circle cx="1354.0" cy="362.6" r="1.75"/><circle cx="1370.6" cy="366.0" r="1.75"/><circle cx="1372.3" cy="358.1" r="1.75"/><circle cx="1368.1" cy="358.4" r="1.75"/><circle cx="1365.5" cy="369.6" r="1.75"/><circle cx="1371.7" cy="357.2" r="1.75"/><circle cx="1361.8" cy="363.0" r="1.75"/><circle cx="1369.9" cy="364.9" r="1.75"/><circle cx="1372.7" cy="354.6" r="1.75"/><circle cx="1393.8" cy="367.2" r="1.75"/><circle cx="1386.9" cy="366.9" r="1.75"/><circle cx="1391.4" cy="378.9" r="1.75"/><circle cx="1387.8" cy="376.1" r="1.75"/><circle cx="1385.1" cy="383.9" r="1.75"/><circle cx="1401.6" cy="369.7" r="1.75"/><circle cx="1385.8" cy="371.8" r="1.75"/><circle cx="1387.0" cy="376.3" r="1.75"/><circle cx="1400.2" cy="370.4" r="1.75"/><circle cx="1391.4" cy="366.7" r="1.75"/><circle cx="1381.3" cy="373.8" r="1.75"/><circle cx="1396.4" cy="367.6" r="1.75"/><circle cx="1396.8" cy="370.6" r="1.75"/><circle cx="1393.8" cy="366.8" r="1.75"/><circle cx="1380.5" cy="369.9" r="1.75"/><circle cx="1380.2" cy="376.3" r="1.75"/><circle cx="1389.2" cy="384.6" r="1.75"/><circle cx="1389.5" cy="369.5" r="1.75"/><circle cx="1388.2" cy="368.9" r="1.75"/><circle cx="1392.2" cy="374.6" r="1.75"/><circle cx="1378.2" cy="378.2" r="1.75"/><circle cx="1390.4" cy="379.6" r="1.75"/><circle cx="1386.9" cy="374.1" r="1.75"/><circle cx="1388.4" cy="368.7" r="1.75"/><circle cx="1399.8" cy="375.9" r="1.75"/><circle cx="1390.0" cy="371.3" r="1.75"/><circle cx="1385.5" cy="374.3" r="1.75"/><circle cx="1387.4" cy="369.1" r="1.75"/><circle cx="1389.4" cy="371.4" r="1.75"/><circle cx="1396.3" cy="368.7" r="1.75"/><circle cx="1382.0" cy="378.8" r="1.75"/><circle cx="1389.6" cy="368.3" r="1.75"/><circle cx="1396.3" cy="377.0" r="1.75"/><circle cx="1380.4" cy="377.8" r="1.75"/><circle cx="1395.8" cy="381.1" r="1.75"/><circle cx="1399.6" cy="326.9" r="1.75"/><circle cx="1397.1" cy="342.4" r="1.75"/><circle cx="1395.9" cy="340.4" r="1.75"/><circle cx="1391.7" cy="329.8" r="1.75"/><circle cx="1400.8" cy="336.0" r="1.75"/><circle cx="1401.3" cy="318.2" r="1.75"/><circle cx="1404.6" cy="338.7" r="1.75"/><circle cx="1403.2" cy="323.9" r="1.75"/><circle cx="1404.9" cy="328.8" r="1.75"/><circle cx="1391.6" cy="333.0" r="1.75"/><circle cx="1390.0" cy="325.5" r="1.75"/><circle cx="1400.7" cy="331.2" r="1.75"/><circle cx="1391.8" cy="346.4" r="1.75"/><circle cx="1395.4" cy="325.1" r="1.75"/><circle cx="1395.5" cy="330.3" r="1.75"/><circle cx="1398.3" cy="333.2" r="1.75"/><circle cx="1399.2" cy="327.9" r="1.75"/><circle cx="1393.8" cy="336.5" r="1.75"/><circle cx="1396.6" cy="328.5" r="1.75"/><circle cx="1401.0" cy="331.7" r="1.75"/><circle cx="1392.4" cy="328.3" r="1.75"/><circle cx="1401.6" cy="334.4" r="1.75"/><circle cx="1396.5" cy="344.2" r="1.75"/><circle cx="1397.1" cy="329.8" r="1.75"/><circle cx="1398.8" cy="328.1" r="1.75"/><circle cx="1392.5" cy="336.3" r="1.75"/><circle cx="1400.1" cy="332.1" r="1.75"/><circle cx="1396.9" cy="319.3" r="1.75"/><circle cx="1401.1" cy="313.9" r="1.75"/><circle cx="1401.2" cy="327.1" r="1.75"/><circle cx="1410.2" cy="339.5" r="1.75"/><circle cx="1421.6" cy="359.7" r="1.75"/><circle cx="1431.2" cy="343.0" r="1.75"/><circle cx="1420.7" cy="342.5" r="1.75"/><circle cx="1424.4" cy="342.8" r="1.75"/><circle cx="1414.4" cy="356.5" r="1.75"/><circle cx="1409.7" cy="343.0" r="1.75"/><circle cx="1427.9" cy="337.8" r="1.75"/><circle cx="1396.9" cy="345.7" r="1.75"/><circle cx="1410.3" cy="352.1" r="1.75"/><circle cx="1428.3" cy="347.3" r="1.75"/><circle cx="1433.2" cy="358.2" r="1.75"/><circle cx="1415.5" cy="342.3" r="1.75"/><circle cx="1424.7" cy="338.2" r="1.75"/><circle cx="1406.3" cy="350.5" r="1.75"/><circle cx="1431.8" cy="345.3" r="1.75"/><circle cx="1428.2" cy="352.6" r="1.75"/><circle cx="1409.9" cy="363.4" r="1.75"/><circle cx="1408.9" cy="350.7" r="1.75"/><circle cx="1420.8" cy="336.2" r="1.75"/><circle cx="1433.3" cy="353.1" r="1.75"/><circle cx="1432.0" cy="344.3" r="1.75"/><circle cx="1414.7" cy="363.4" r="1.75"/><circle cx="1430.5" cy="351.2" r="1.75"/><circle cx="1423.4" cy="356.4" r="1.75"/><circle cx="1400.9" cy="356.4" r="1.75"/><circle cx="1429.8" cy="351.5" r="1.75"/><circle cx="1417.8" cy="351.3" r="1.75"/><circle cx="1427.8" cy="339.7" r="1.75"/><circle cx="1411.0" cy="354.9" r="1.75"/><circle cx="1415.4" cy="348.8" r="1.75"/><circle cx="1417.6" cy="349.6" r="1.75"/><circle cx="1436.1" cy="355.9" r="1.75"/><circle cx="1420.8" cy="342.3" r="1.75"/><circle cx="1441.2" cy="349.6" r="1.75"/><circle cx="1426.3" cy="350.2" r="1.75"/><circle cx="1427.2" cy="340.6" r="1.75"/><circle cx="1401.5" cy="352.6" r="1.75"/><circle cx="1431.3" cy="343.5" r="1.75"/><circle cx="1422.6" cy="346.8" r="1.75"/><circle cx="1402.7" cy="346.7" r="1.75"/><circle cx="1426.0" cy="341.5" r="1.75"/><circle cx="1412.8" cy="343.9" r="1.75"/><circle cx="1417.2" cy="338.9" r="1.75"/><circle cx="1432.2" cy="347.5" r="1.75"/><circle cx="1425.8" cy="359.6" r="1.75"/><circle cx="1413.5" cy="349.1" r="1.75"/><circle cx="1431.3" cy="346.1" r="1.75"/><circle cx="1422.6" cy="352.1" r="1.75"/><circle cx="1418.3" cy="363.4" r="1.75"/><circle cx="1420.1" cy="346.3" r="1.75"/><circle cx="1416.1" cy="342.1" r="1.75"/><circle cx="1402.5" cy="352.4" r="1.75"/><circle cx="1416.6" cy="353.6" r="1.75"/><circle cx="1436.2" cy="342.8" r="1.75"/><circle cx="1427.7" cy="338.0" r="1.75"/><circle cx="1436.5" cy="345.1" r="1.75"/><circle cx="1418.8" cy="342.2" r="1.75"/><circle cx="1411.9" cy="332.7" r="1.75"/><circle cx="1403.5" cy="343.2" r="1.75"/><circle cx="1424.5" cy="355.0" r="1.75"/><circle cx="1401.8" cy="345.9" r="1.75"/><circle cx="1411.1" cy="347.4" r="1.75"/><circle cx="1431.4" cy="347.3" r="1.75"/><circle cx="1434.2" cy="357.1" r="1.75"/><circle cx="1401.4" cy="360.8" r="1.75"/><circle cx="1436.9" cy="350.3" r="1.75"/><circle cx="1411.7" cy="338.0" r="1.75"/><circle cx="1431.4" cy="349.9" r="1.75"/><circle cx="1409.9" cy="347.9" r="1.75"/><circle cx="1385.8" cy="412.6" r="1.75"/><circle cx="1354.8" cy="418.1" r="1.75"/><circle cx="1375.1" cy="411.7" r="1.75"/><circle cx="1371.2" cy="393.1" r="1.75"/><circle cx="1376.7" cy="404.6" r="1.75"/><circle cx="1384.2" cy="386.3" r="1.75"/><circle cx="1380.1" cy="408.3" r="1.75"/><circle cx="1372.3" cy="395.3" r="1.75"/><circle cx="1380.1" cy="404.6" r="1.75"/><circle cx="1375.4" cy="391.1" r="1.75"/><circle cx="1374.0" cy="392.4" r="1.75"/><circle cx="1364.2" cy="382.5" r="1.75"/><circle cx="1370.2" cy="392.4" r="1.75"/><circle cx="1366.7" cy="398.7" r="1.75"/><circle cx="1370.2" cy="407.6" r="1.75"/><circle cx="1379.5" cy="397.4" r="1.75"/><circle cx="1360.3" cy="407.0" r="1.75"/><circle cx="1389.3" cy="415.1" r="1.75"/><circle cx="1385.6" cy="394.5" r="1.75"/><circle cx="1383.9" cy="397.3" r="1.75"/><circle cx="1380.1" cy="375.6" r="1.75"/><circle cx="1363.2" cy="395.8" r="1.75"/><circle cx="1388.8" cy="399.7" r="1.75"/><circle cx="1364.1" cy="395.4" r="1.75"/><circle cx="1368.7" cy="371.3" r="1.75"/><circle cx="1363.0" cy="395.0" r="1.75"/><circle cx="1371.3" cy="398.3" r="1.75"/><circle cx="1381.3" cy="385.1" r="1.75"/><circle cx="1363.4" cy="382.3" r="1.75"/><circle cx="1378.0" cy="389.1" r="1.75"/><circle cx="1367.5" cy="393.2" r="1.75"/><circle cx="1360.6" cy="388.4" r="1.75"/><circle cx="1368.1" cy="394.2" r="1.75"/><circle cx="1373.6" cy="402.7" r="1.75"/><circle cx="1362.6" cy="402.7" r="1.75"/><circle cx="1365.1" cy="410.2" r="1.75"/><circle cx="1365.7" cy="405.3" r="1.75"/><circle cx="1377.8" cy="414.9" r="1.75"/><circle cx="1375.6" cy="408.3" r="1.75"/><circle cx="1361.3" cy="402.0" r="1.75"/></g>
<path d="M1169.40 257.00 L1169.40 474.60 L1461.30 474.60" fill="none" stroke="#000" stroke-width="2.25" stroke-linejoin="miter" stroke-linecap="butt"/>
<path d="M1193.68 475.70 L1193.68 477.20 M1226.67 475.70 L1226.67 477.20 M1259.66 475.70 L1259.66 477.20 M1292.65 475.70 L1292.65 477.20 M1325.64 475.70 L1325.64 477.20 M1358.63 475.70 L1358.63 477.20 M1391.62 475.70 L1391.62 477.20 M1424.61 475.70 L1424.61 477.20 M1457.60 475.70 L1457.60 477.20 M1166.80 280.85 L1168.30 280.85 M1166.80 318.00 L1168.30 318.00 M1166.80 355.14 L1168.30 355.14 M1166.80 392.29 L1168.30 392.29 M1166.80 429.44 L1168.30 429.44 M1166.80 466.58 L1168.30 466.58" stroke="#000" stroke-width="1" fill="none"/>
<g><text x="1193.68" y="487.20" font-size="10.30" text-anchor="middle">−0.6</text><text x="1226.67" y="487.20" font-size="10.30" text-anchor="middle">−0.5</text><text x="1259.66" y="487.20" font-size="10.30" text-anchor="middle">−0.4</text><text x="1292.65" y="487.20" font-size="10.30" text-anchor="middle">−0.3</text><text x="1325.64" y="487.20" font-size="10.30" text-anchor="middle">−0.2</text><text x="1358.63" y="487.20" font-size="10.30" text-anchor="middle">−0.1</text><text x="1391.62" y="487.20" font-size="10.30" text-anchor="middle">0.0</text><text x="1424.61" y="487.20" font-size="10.30" text-anchor="middle">0.1</text><text x="1457.60" y="487.20" font-size="10.30" text-anchor="middle">0.2</text><text x="1164.60" y="284.90" font-size="11.10" text-anchor="end">0.2</text><text x="1164.60" y="322.04" font-size="11.10" text-anchor="end">0.1</text><text x="1164.60" y="359.19" font-size="11.10" text-anchor="end">0.0</text><text x="1164.60" y="396.34" font-size="11.10" text-anchor="end">−0.1</text><text x="1164.60" y="433.48" font-size="11.10" text-anchor="end">−0.2</text><text x="1164.60" y="470.63" font-size="11.10" text-anchor="end">−0.3</text></g>
<text x="1340.00" y="504.20" font-size="17.00" text-anchor="middle">female beta</text>
<text transform="translate(1139.06 369.70) rotate(-90)" x="0" y="0" font-size="17.00" text-anchor="middle">male beta</text>
<!-- b5 -->
<g transform="translate(1526.40 254.20) scale(0.16435 0.16681) translate(-470.0 -120.0)"><g fill="none" stroke="#e39b3c" stroke-width="30" stroke-linecap="round"><circle cx="705" cy="350" r="104"/><path d="M705 250 L705 165 M755 263 L798 190 M792 300 L865 258 M805 350 L890 350 M792 400 L865 442 M755 437 L798 510 M705 450 L705 535 M655 437 L612 510 M618 400 L545 442 M605 350 L520 350 "/><circle cx="705" cy="165" r="17"/><circle cx="798" cy="190" r="17"/><circle cx="865" cy="258" r="17"/><circle cx="890" cy="350" r="17"/><circle cx="865" cy="442" r="17"/><circle cx="798" cy="510" r="17"/><circle cx="705" cy="535" r="17"/><circle cx="612" cy="510" r="17"/><circle cx="545" cy="442" r="17"/><circle cx="520" cy="350" r="17"/></g><g fill="none" stroke="#ffffff" stroke-width="14" stroke-linecap="round"><circle cx="705" cy="350" r="104"/><path d="M705 250 L705 165 M755 263 L798 190 M792 300 L865 258 M805 350 L890 350 M792 400 L865 442 M755 437 L798 510 M705 450 L705 535 M655 437 L612 510 M618 400 L545 442 M605 350 L520 350 "/><circle cx="705" cy="165" r="9"/><circle cx="798" cy="190" r="9"/><circle cx="865" cy="258" r="9"/><circle cx="890" cy="350" r="9"/><circle cx="865" cy="442" r="9"/><circle cx="798" cy="510" r="9"/><circle cx="705" cy="535" r="9"/><circle cx="612" cy="510" r="9"/><circle cx="545" cy="442" r="9"/><circle cx="520" cy="350" r="9"/></g><g fill="none" stroke="#e39b3c" stroke-width="24" stroke-linecap="butt"><path d="M640 275 L572 212 L572 122 M572 212 L478 226"/><path d="M600 128 L600 190 M495 250 L548 250"/></g></g>
<g fill="#e39b3c" stroke="#ffffff" stroke-width="0.45"><circle cx="1527.2" cy="347.2" r="1.75"/><circle cx="1534.2" cy="344.2" r="1.75"/><circle cx="1541.7" cy="344.4" r="1.75"/><circle cx="1535.0" cy="397.9" r="1.75"/><circle cx="1535.2" cy="400.4" r="1.75"/><circle cx="1549.7" cy="409.5" r="1.75"/><circle cx="1556.8" cy="410.3" r="1.75"/><circle cx="1565.1" cy="417.0" r="1.75"/><circle cx="1585.7" cy="411.5" r="1.75"/><circle cx="1588.4" cy="411.2" r="1.75"/><circle cx="1642.2" cy="422.3" r="1.75"/><circle cx="1697.5" cy="419.5" r="1.75"/><circle cx="1704.7" cy="380.1" r="1.75"/><circle cx="1661.5" cy="281.6" r="1.75"/><circle cx="1672.6" cy="289.0" r="1.75"/><circle cx="1731.9" cy="284.4" r="1.75"/><circle cx="1750.4" cy="303.2" r="1.75"/><circle cx="1768.6" cy="274.6" r="1.75"/><circle cx="1770.3" cy="281.2" r="1.75"/><circle cx="1781.8" cy="278.6" r="1.75"/><circle cx="1791.1" cy="269.6" r="1.75"/><circle cx="1769.0" cy="301.5" r="1.75"/><circle cx="1633.6" cy="316.5" r="1.75"/><circle cx="1632.7" cy="321.8" r="1.75"/><circle cx="1641.0" cy="326.1" r="1.75"/><circle cx="1645.7" cy="321.9" r="1.75"/><circle cx="1649.0" cy="320.3" r="1.75"/><circle cx="1622.4" cy="328.9" r="1.75"/><circle cx="1678.7" cy="330.9" r="1.75"/><circle cx="1688.7" cy="332.6" r="1.75"/><circle cx="1700.8" cy="331.9" r="1.75"/><circle cx="1710.8" cy="331.9" r="1.75"/><circle cx="1715.8" cy="330.9" r="1.75"/><circle cx="1695.0" cy="341.4" r="1.75"/><circle cx="1719.9" cy="343.0" r="1.75"/><circle cx="1734.9" cy="342.2" r="1.75"/><circle cx="1686.7" cy="349.2" r="1.75"/><circle cx="1587.0" cy="327.3" r="1.75"/><circle cx="1569.6" cy="331.9" r="1.75"/><circle cx="1567.9" cy="336.9" r="1.75"/><circle cx="1557.1" cy="333.6" r="1.75"/><circle cx="1562.4" cy="338.9" r="1.75"/><circle cx="1561.8" cy="348.0" r="1.75"/><circle cx="1565.4" cy="347.5" r="1.75"/><circle cx="1561.8" cy="379.1" r="1.75"/><circle cx="1568.8" cy="377.9" r="1.75"/><circle cx="1579.6" cy="377.9" r="1.75"/><circle cx="1582.9" cy="377.6" r="1.75"/><circle cx="1589.5" cy="388.4" r="1.75"/><circle cx="1693.4" cy="386.2" r="1.75"/><circle cx="1696.7" cy="384.6" r="1.75"/><circle cx="1683.9" cy="384.9" r="1.75"/><circle cx="1617.0" cy="341.9" r="1.75"/><circle cx="1606.7" cy="339.1" r="1.75"/><circle cx="1629.5" cy="344.5" r="1.75"/><circle cx="1637.0" cy="339.1" r="1.75"/><circle cx="1611.7" cy="340.2" r="1.75"/><circle cx="1614.8" cy="341.9" r="1.75"/><circle cx="1641.2" cy="348.1" r="1.75"/><circle cx="1612.6" cy="332.4" r="1.75"/><circle cx="1598.6" cy="342.3" r="1.75"/><circle cx="1594.8" cy="341.9" r="1.75"/><circle cx="1634.0" cy="345.6" r="1.75"/><circle cx="1629.7" cy="337.4" r="1.75"/><circle cx="1599.0" cy="338.5" r="1.75"/><circle cx="1629.0" cy="343.9" r="1.75"/><circle cx="1648.4" cy="342.9" r="1.75"/><circle cx="1638.2" cy="341.1" r="1.75"/><circle cx="1611.9" cy="342.0" r="1.75"/><circle cx="1599.9" cy="342.6" r="1.75"/><circle cx="1642.7" cy="338.2" r="1.75"/><circle cx="1595.6" cy="343.9" r="1.75"/><circle cx="1615.8" cy="343.6" r="1.75"/><circle cx="1605.9" cy="343.1" r="1.75"/><circle cx="1630.1" cy="349.9" r="1.75"/><circle cx="1624.0" cy="343.4" r="1.75"/><circle cx="1617.7" cy="333.0" r="1.75"/><circle cx="1660.6" cy="335.1" r="1.75"/><circle cx="1660.6" cy="345.9" r="1.75"/><circle cx="1653.3" cy="336.5" r="1.75"/><circle cx="1650.0" cy="342.6" r="1.75"/><circle cx="1638.2" cy="351.7" r="1.75"/><circle cx="1626.9" cy="343.8" r="1.75"/><circle cx="1608.1" cy="338.5" r="1.75"/><circle cx="1612.7" cy="341.2" r="1.75"/><circle cx="1649.6" cy="345.3" r="1.75"/><circle cx="1647.4" cy="342.5" r="1.75"/><circle cx="1641.2" cy="345.2" r="1.75"/><circle cx="1618.0" cy="340.5" r="1.75"/><circle cx="1628.1" cy="338.6" r="1.75"/><circle cx="1637.7" cy="338.7" r="1.75"/><circle cx="1621.4" cy="337.5" r="1.75"/><circle cx="1624.9" cy="344.1" r="1.75"/><circle cx="1624.0" cy="341.2" r="1.75"/><circle cx="1612.8" cy="343.1" r="1.75"/><circle cx="1624.8" cy="345.6" r="1.75"/><circle cx="1597.0" cy="343.0" r="1.75"/><circle cx="1631.2" cy="338.4" r="1.75"/><circle cx="1610.3" cy="338.5" r="1.75"/><circle cx="1624.1" cy="335.8" r="1.75"/><circle cx="1635.4" cy="343.2" r="1.75"/><circle cx="1630.5" cy="338.7" r="1.75"/><circle cx="1623.2" cy="341.6" r="1.75"/><circle cx="1617.0" cy="340.3" r="1.75"/><circle cx="1630.2" cy="342.4" r="1.75"/><circle cx="1629.0" cy="347.8" r="1.75"/><circle cx="1627.8" cy="341.0" r="1.75"/><circle cx="1614.2" cy="342.0" r="1.75"/><circle cx="1609.6" cy="337.7" r="1.75"/><circle cx="1637.5" cy="344.0" r="1.75"/><circle cx="1642.7" cy="337.2" r="1.75"/><circle cx="1637.0" cy="347.2" r="1.75"/><circle cx="1580.5" cy="364.7" r="1.75"/><circle cx="1576.4" cy="367.1" r="1.75"/><circle cx="1575.7" cy="343.8" r="1.75"/><circle cx="1580.1" cy="381.7" r="1.75"/><circle cx="1576.7" cy="370.8" r="1.75"/><circle cx="1577.4" cy="366.9" r="1.75"/><circle cx="1578.9" cy="345.8" r="1.75"/><circle cx="1584.1" cy="361.3" r="1.75"/><circle cx="1579.7" cy="367.4" r="1.75"/><circle cx="1569.0" cy="368.2" r="1.75"/><circle cx="1581.5" cy="367.1" r="1.75"/><circle cx="1577.7" cy="364.1" r="1.75"/><circle cx="1576.3" cy="366.7" r="1.75"/><circle cx="1590.9" cy="371.1" r="1.75"/><circle cx="1575.8" cy="348.5" r="1.75"/><circle cx="1579.2" cy="362.7" r="1.75"/><circle cx="1582.3" cy="341.0" r="1.75"/><circle cx="1590.7" cy="350.8" r="1.75"/><circle cx="1586.6" cy="366.2" r="1.75"/><circle cx="1582.2" cy="357.9" r="1.75"/><circle cx="1581.6" cy="369.8" r="1.75"/><circle cx="1583.3" cy="358.3" r="1.75"/><circle cx="1581.5" cy="374.0" r="1.75"/><circle cx="1588.3" cy="360.7" r="1.75"/><circle cx="1582.3" cy="349.7" r="1.75"/><circle cx="1582.7" cy="353.3" r="1.75"/><circle cx="1582.0" cy="355.0" r="1.75"/><circle cx="1575.2" cy="348.1" r="1.75"/><circle cx="1587.6" cy="363.5" r="1.75"/><circle cx="1576.5" cy="377.9" r="1.75"/><circle cx="1588.8" cy="364.6" r="1.75"/><circle cx="1585.7" cy="360.4" r="1.75"/><circle cx="1585.2" cy="359.4" r="1.75"/><circle cx="1576.2" cy="357.7" r="1.75"/><circle cx="1580.8" cy="353.3" r="1.75"/><circle cx="1589.9" cy="393.2" r="1.75"/><circle cx="1636.0" cy="401.2" r="1.75"/><circle cx="1627.1" cy="393.1" r="1.75"/><circle cx="1622.5" cy="397.9" r="1.75"/><circle cx="1613.2" cy="397.0" r="1.75"/><circle cx="1631.2" cy="392.9" r="1.75"/><circle cx="1627.1" cy="391.3" r="1.75"/><circle cx="1609.0" cy="385.4" r="1.75"/><circle cx="1616.1" cy="391.5" r="1.75"/><circle cx="1619.8" cy="388.7" r="1.75"/><circle cx="1614.6" cy="385.9" r="1.75"/><circle cx="1624.1" cy="389.4" r="1.75"/><circle cx="1616.8" cy="392.5" r="1.75"/><circle cx="1638.5" cy="388.3" r="1.75"/><circle cx="1614.7" cy="394.0" r="1.75"/><circle cx="1630.3" cy="388.0" r="1.75"/><circle cx="1631.3" cy="395.6" r="1.75"/><circle cx="1601.4" cy="398.9" r="1.75"/><circle cx="1643.1" cy="394.7" r="1.75"/><circle cx="1623.5" cy="390.0" r="1.75"/><circle cx="1609.1" cy="383.2" r="1.75"/><circle cx="1620.9" cy="380.2" r="1.75"/><circle cx="1598.3" cy="392.8" r="1.75"/><circle cx="1605.7" cy="388.1" r="1.75"/><circle cx="1631.9" cy="396.3" r="1.75"/><circle cx="1605.9" cy="390.4" r="1.75"/><circle cx="1615.4" cy="379.9" r="1.75"/><circle cx="1604.9" cy="390.9" r="1.75"/><circle cx="1595.0" cy="390.7" r="1.75"/><circle cx="1610.5" cy="400.9" r="1.75"/><circle cx="1607.0" cy="384.0" r="1.75"/><circle cx="1614.8" cy="390.1" r="1.75"/><circle cx="1601.3" cy="382.4" r="1.75"/><circle cx="1605.3" cy="382.0" r="1.75"/><circle cx="1629.5" cy="396.0" r="1.75"/><circle cx="1612.1" cy="379.2" r="1.75"/><circle cx="1628.2" cy="393.1" r="1.75"/><circle cx="1620.2" cy="395.4" r="1.75"/><circle cx="1610.2" cy="386.7" r="1.75"/><circle cx="1639.3" cy="387.4" r="1.75"/><circle cx="1608.5" cy="380.0" r="1.75"/><circle cx="1621.7" cy="390.2" r="1.75"/><circle cx="1600.2" cy="394.9" r="1.75"/><circle cx="1614.1" cy="379.5" r="1.75"/><circle cx="1624.3" cy="397.4" r="1.75"/><circle cx="1627.2" cy="389.1" r="1.75"/><circle cx="1634.6" cy="392.7" r="1.75"/><circle cx="1621.2" cy="392.5" r="1.75"/><circle cx="1602.7" cy="396.0" r="1.75"/><circle cx="1601.3" cy="382.7" r="1.75"/><circle cx="1617.1" cy="395.5" r="1.75"/><circle cx="1623.6" cy="390.2" r="1.75"/><circle cx="1612.7" cy="389.5" r="1.75"/><circle cx="1619.8" cy="388.5" r="1.75"/><circle cx="1625.8" cy="387.3" r="1.75"/><circle cx="1673.0" cy="358.9" r="1.75"/><circle cx="1666.4" cy="358.2" r="1.75"/><circle cx="1662.2" cy="352.2" r="1.75"/><circle cx="1660.3" cy="371.8" r="1.75"/><circle cx="1655.7" cy="360.4" r="1.75"/><circle cx="1676.1" cy="364.4" r="1.75"/><circle cx="1663.4" cy="364.7" r="1.75"/><circle cx="1656.0" cy="345.5" r="1.75"/><circle cx="1666.6" cy="369.7" r="1.75"/><circle cx="1666.8" cy="368.5" r="1.75"/><circle cx="1662.3" cy="364.1" r="1.75"/><circle cx="1674.7" cy="351.3" r="1.75"/><circle cx="1670.6" cy="356.0" r="1.75"/><circle cx="1658.2" cy="369.2" r="1.75"/><circle cx="1660.1" cy="371.6" r="1.75"/><circle cx="1672.3" cy="369.3" r="1.75"/><circle cx="1662.4" cy="362.1" r="1.75"/><circle cx="1668.4" cy="374.0" r="1.75"/><circle cx="1678.0" cy="346.8" r="1.75"/><circle cx="1664.7" cy="356.3" r="1.75"/><circle cx="1660.0" cy="384.0" r="1.75"/><circle cx="1665.2" cy="377.6" r="1.75"/><circle cx="1665.2" cy="356.9" r="1.75"/><circle cx="1669.7" cy="361.4" r="1.75"/><circle cx="1674.5" cy="363.9" r="1.75"/><circle cx="1658.9" cy="362.5" r="1.75"/><circle cx="1674.4" cy="352.7" r="1.75"/><circle cx="1670.6" cy="366.9" r="1.75"/><circle cx="1671.7" cy="365.2" r="1.75"/><circle cx="1664.5" cy="355.4" r="1.75"/><circle cx="1550.7" cy="345.5" r="1.75"/><circle cx="1554.0" cy="349.5" r="1.75"/><circle cx="1552.8" cy="352.1" r="1.75"/><circle cx="1553.6" cy="343.3" r="1.75"/><circle cx="1555.0" cy="343.5" r="1.75"/><circle cx="1556.2" cy="341.4" r="1.75"/><circle cx="1545.9" cy="346.4" r="1.75"/><circle cx="1553.7" cy="343.9" r="1.75"/><circle cx="1674.2" cy="337.9" r="1.75"/><circle cx="1683.9" cy="343.7" r="1.75"/><circle cx="1679.1" cy="339.5" r="1.75"/><circle cx="1670.3" cy="339.9" r="1.75"/><circle cx="1671.3" cy="334.7" r="1.75"/><circle cx="1678.5" cy="332.7" r="1.75"/></g>
<path d="M1513.90 258.60 L1513.90 476.30 L1806.30 476.30" fill="none" stroke="#000" stroke-width="2.25" stroke-linejoin="miter" stroke-linecap="butt"/>
<path d="M1534.20 477.40 L1534.20 478.90 M1579.82 477.40 L1579.82 478.90 M1625.43 477.40 L1625.43 478.90 M1671.04 477.40 L1671.04 478.90 M1716.65 477.40 L1716.65 478.90 M1762.26 477.40 L1762.26 478.90 M1511.30 269.80 L1512.80 269.80 M1511.30 317.36 L1512.80 317.36 M1511.30 364.92 L1512.80 364.92 M1511.30 412.48 L1512.80 412.48 M1511.30 460.04 L1512.80 460.04" stroke="#000" stroke-width="1" fill="none"/>
<g><text x="1534.20" y="488.90" font-size="10.30" text-anchor="middle">−0.10</text><text x="1579.82" y="488.90" font-size="10.30" text-anchor="middle">−0.05</text><text x="1625.43" y="488.90" font-size="10.30" text-anchor="middle">0.00</text><text x="1671.04" y="488.90" font-size="10.30" text-anchor="middle">0.05</text><text x="1716.65" y="488.90" font-size="10.30" text-anchor="middle">0.10</text><text x="1762.26" y="488.90" font-size="10.30" text-anchor="middle">0.15</text><text x="1509.10" y="273.85" font-size="11.10" text-anchor="end">0.2</text><text x="1509.10" y="321.41" font-size="11.10" text-anchor="end">0.1</text><text x="1509.10" y="368.97" font-size="11.10" text-anchor="end">0.0</text><text x="1509.10" y="416.53" font-size="11.10" text-anchor="end">−0.1</text><text x="1509.10" y="464.09" font-size="11.10" text-anchor="end">−0.2</text></g>
<text x="1647.70" y="500.00" font-size="17.00" text-anchor="middle">female beta</text>
<text transform="translate(1487.56 365.40) rotate(-90)" x="0" y="0" font-size="17.00" text-anchor="middle">male beta</text>
<!-- b6 -->
<g transform="translate(1872.60 251.70) scale(0.16539 0.16614) translate(-420.0 -120.0)"><g fill="none" stroke="#561f50" stroke-width="14" stroke-linejoin="miter">
<path d="M432 355 A212 212 0 0 1 790 190 L808 140 L845 270 L720 238 L760 215 A172 172 0 0 0 472 355 Z"/>
<path d="M860 325 A212 212 0 0 1 502 510 L478 548 L448 420 L575 450 L535 480 A172 172 0 0 0 820 325 Z"/>
<circle cx="548" cy="256" r="15"/>
<circle cx="636" cy="236" r="25"/>
<path d="M552 345 A40 40 0 0 1 632 345 M618 345 A40 40 0 0 1 698 345"/>
<rect x="517" y="345" width="263" height="45" rx="22"/>
<rect x="602" y="408" width="112" height="45" rx="22"/>
</g>
<g fill="#561f50"><rect x="706" y="262" width="14" height="14"/><rect x="737" y="300" width="14" height="14"/><rect x="645" y="378" width="22" height="10"/><rect x="672" y="420" width="12" height="12"/></g></g>
<g fill="#561f50" stroke="#ffffff" stroke-width="0.45"><circle cx="1877.2" cy="373.8" r="1.75"/><circle cx="1929.6" cy="382.4" r="1.75"/><circle cx="1942.5" cy="376.3" r="1.75"/><circle cx="1947.8" cy="370.5" r="1.75"/><circle cx="1951.2" cy="361.0" r="1.75"/><circle cx="1954.5" cy="359.7" r="1.75"/><circle cx="1882.5" cy="406.5" r="1.75"/><circle cx="1887.5" cy="402.5" r="1.75"/><circle cx="1906.3" cy="419.1" r="1.75"/><circle cx="1915.8" cy="426.1" r="1.75"/><circle cx="1908.5" cy="433.6" r="1.75"/><circle cx="1911.3" cy="439.1" r="1.75"/><circle cx="1925.7" cy="436.1" r="1.75"/><circle cx="1900.5" cy="438.2" r="1.75"/><circle cx="1889.2" cy="442.7" r="1.75"/><circle cx="1903.3" cy="448.2" r="1.75"/><circle cx="1883.5" cy="451.0" r="1.75"/><circle cx="1888.4" cy="454.4" r="1.75"/><circle cx="1890.2" cy="459.0" r="1.75"/><circle cx="1899.7" cy="458.2" r="1.75"/><circle cx="1911.8" cy="460.2" r="1.75"/><circle cx="1918.3" cy="451.0" r="1.75"/><circle cx="1920.8" cy="455.2" r="1.75"/><circle cx="1869.7" cy="459.7" r="1.75"/><circle cx="1875.6" cy="458.8" r="1.75"/><circle cx="1865.9" cy="464.3" r="1.75"/><circle cx="1893.5" cy="465.7" r="1.75"/><circle cx="2004.3" cy="466.8" r="1.75"/><circle cx="1991.5" cy="451.4" r="1.75"/><circle cx="2000.7" cy="449.4" r="1.75"/><circle cx="2001.5" cy="429.9" r="1.75"/><circle cx="2009.8" cy="428.3" r="1.75"/><circle cx="2015.1" cy="423.6" r="1.75"/><circle cx="1976.1" cy="434.4" r="1.75"/><circle cx="1981.4" cy="433.3" r="1.75"/><circle cx="1936.7" cy="408.7" r="1.75"/><circle cx="1937.0" cy="416.1" r="1.75"/><circle cx="1941.5" cy="419.8" r="1.75"/><circle cx="1947.0" cy="417.0" r="1.75"/><circle cx="1947.5" cy="421.6" r="1.75"/><circle cx="1955.0" cy="420.6" r="1.75"/><circle cx="1960.3" cy="421.6" r="1.75"/><circle cx="1947.5" cy="430.8" r="1.75"/><circle cx="1954.8" cy="434.7" r="1.75"/><circle cx="1964.4" cy="429.1" r="1.75"/><circle cx="1973.6" cy="323.6" r="1.75"/><circle cx="1991.5" cy="321.4" r="1.75"/><circle cx="2021.4" cy="323.9" r="1.75"/><circle cx="2029.2" cy="313.1" r="1.75"/><circle cx="2030.6" cy="289.4" r="1.75"/><circle cx="2058.6" cy="279.4" r="1.75"/><circle cx="2067.8" cy="269.4" r="1.75"/><circle cx="2111.5" cy="279.9" r="1.75"/><circle cx="2131.1" cy="279.6" r="1.75"/><circle cx="2119.5" cy="285.7" r="1.75"/><circle cx="2094.0" cy="289.0" r="1.75"/><circle cx="2084.4" cy="298.2" r="1.75"/><circle cx="2060.8" cy="305.7" r="1.75"/><circle cx="2061.3" cy="368.8" r="1.75"/><circle cx="2063.6" cy="383.7" r="1.75"/><circle cx="2069.6" cy="385.9" r="1.75"/><circle cx="2075.4" cy="380.4" r="1.75"/><circle cx="2078.6" cy="386.6" r="1.75"/><circle cx="2076.3" cy="372.9" r="1.75"/><circle cx="2077.4" cy="367.1" r="1.75"/><circle cx="2096.5" cy="379.6" r="1.75"/><circle cx="2032.6" cy="381.3" r="1.75"/><circle cx="2043.7" cy="366.8" r="1.75"/><circle cx="2048.3" cy="368.3" r="1.75"/><circle cx="2057.8" cy="342.2" r="1.75"/><circle cx="2056.7" cy="338.4" r="1.75"/><circle cx="1984.9" cy="349.4" r="1.75"/><circle cx="1992.4" cy="353.3" r="1.75"/><circle cx="2005.5" cy="399.0" r="1.75"/><circle cx="1987.2" cy="405.8" r="1.75"/><circle cx="1985.7" cy="412.5" r="1.75"/><circle cx="1955.7" cy="385.2" r="1.75"/><circle cx="1962.1" cy="404.6" r="1.75"/><circle cx="1962.6" cy="390.7" r="1.75"/><circle cx="1956.8" cy="380.7" r="1.75"/><circle cx="1948.0" cy="408.0" r="1.75"/><circle cx="1970.1" cy="386.3" r="1.75"/><circle cx="1978.0" cy="395.7" r="1.75"/><circle cx="1957.7" cy="390.4" r="1.75"/><circle cx="1978.0" cy="405.3" r="1.75"/><circle cx="1965.0" cy="405.1" r="1.75"/><circle cx="1982.3" cy="401.2" r="1.75"/><circle cx="1969.5" cy="401.5" r="1.75"/><circle cx="1977.1" cy="386.6" r="1.75"/><circle cx="1970.8" cy="390.8" r="1.75"/><circle cx="1953.9" cy="398.8" r="1.75"/><circle cx="1966.0" cy="384.5" r="1.75"/><circle cx="1975.8" cy="404.0" r="1.75"/><circle cx="1976.1" cy="386.8" r="1.75"/><circle cx="1956.2" cy="406.9" r="1.75"/><circle cx="1960.1" cy="409.3" r="1.75"/><circle cx="1963.8" cy="399.3" r="1.75"/><circle cx="1965.6" cy="396.2" r="1.75"/><circle cx="1979.5" cy="396.8" r="1.75"/><circle cx="1958.9" cy="413.3" r="1.75"/><circle cx="1978.8" cy="394.8" r="1.75"/><circle cx="1958.2" cy="389.9" r="1.75"/><circle cx="1959.1" cy="388.4" r="1.75"/><circle cx="1976.9" cy="390.7" r="1.75"/><circle cx="1965.2" cy="395.7" r="1.75"/><circle cx="1970.6" cy="381.2" r="1.75"/><circle cx="1974.7" cy="391.9" r="1.75"/><circle cx="1961.1" cy="395.1" r="1.75"/><circle cx="1947.7" cy="412.4" r="1.75"/><circle cx="1970.2" cy="399.8" r="1.75"/><circle cx="1962.4" cy="401.3" r="1.75"/><circle cx="1971.6" cy="377.8" r="1.75"/><circle cx="1967.7" cy="414.7" r="1.75"/><circle cx="1969.8" cy="398.1" r="1.75"/><circle cx="1976.2" cy="404.4" r="1.75"/><circle cx="1971.9" cy="377.6" r="1.75"/><circle cx="1975.2" cy="401.5" r="1.75"/><circle cx="1975.9" cy="379.4" r="1.75"/><circle cx="1970.1" cy="388.4" r="1.75"/><circle cx="1971.6" cy="387.9" r="1.75"/><circle cx="1981.5" cy="393.2" r="1.75"/><circle cx="1960.1" cy="385.7" r="1.75"/><circle cx="1962.6" cy="397.2" r="1.75"/><circle cx="1958.3" cy="393.1" r="1.75"/><circle cx="1977.9" cy="392.1" r="1.75"/><circle cx="1956.3" cy="409.6" r="1.75"/><circle cx="1993.2" cy="382.6" r="1.75"/><circle cx="1960.3" cy="393.3" r="1.75"/><circle cx="1981.5" cy="376.5" r="1.75"/><circle cx="1977.5" cy="390.2" r="1.75"/><circle cx="1983.9" cy="390.0" r="1.75"/><circle cx="1964.6" cy="390.1" r="1.75"/><circle cx="1974.8" cy="390.2" r="1.75"/><circle cx="1960.4" cy="375.4" r="1.75"/><circle cx="1971.9" cy="387.1" r="1.75"/><circle cx="1990.0" cy="385.9" r="1.75"/><circle cx="1988.8" cy="388.2" r="1.75"/><circle cx="1976.6" cy="390.1" r="1.75"/><circle cx="1971.3" cy="401.4" r="1.75"/><circle cx="1962.7" cy="397.5" r="1.75"/><circle cx="1986.2" cy="378.4" r="1.75"/><circle cx="1964.9" cy="402.5" r="1.75"/><circle cx="1974.3" cy="398.4" r="1.75"/><circle cx="1968.1" cy="403.8" r="1.75"/><circle cx="1968.3" cy="391.4" r="1.75"/><circle cx="1951.1" cy="393.3" r="1.75"/><circle cx="1970.3" cy="408.8" r="1.75"/><circle cx="1967.5" cy="416.9" r="1.75"/><circle cx="1959.1" cy="397.6" r="1.75"/><circle cx="1980.9" cy="385.3" r="1.75"/><circle cx="1964.3" cy="400.5" r="1.75"/><circle cx="1976.7" cy="398.0" r="1.75"/><circle cx="1990.9" cy="391.2" r="1.75"/><circle cx="1986.0" cy="377.7" r="1.75"/><circle cx="1959.4" cy="398.6" r="1.75"/><circle cx="1968.1" cy="400.4" r="1.75"/><circle cx="1967.2" cy="403.8" r="1.75"/><circle cx="1962.4" cy="396.5" r="1.75"/><circle cx="1956.9" cy="396.4" r="1.75"/><circle cx="1978.4" cy="402.3" r="1.75"/><circle cx="1984.5" cy="380.4" r="1.75"/><circle cx="1961.6" cy="394.9" r="1.75"/><circle cx="1967.8" cy="387.6" r="1.75"/><circle cx="1974.5" cy="386.3" r="1.75"/><circle cx="1975.9" cy="409.4" r="1.75"/><circle cx="1971.6" cy="402.0" r="1.75"/><circle cx="1966.0" cy="386.0" r="1.75"/><circle cx="1950.6" cy="414.3" r="1.75"/><circle cx="1992.0" cy="365.1" r="1.75"/><circle cx="1959.6" cy="393.9" r="1.75"/><circle cx="1960.1" cy="391.7" r="1.75"/><circle cx="1977.7" cy="390.4" r="1.75"/><circle cx="1978.2" cy="375.8" r="1.75"/><circle cx="1966.0" cy="413.2" r="1.75"/><circle cx="1962.6" cy="379.4" r="1.75"/><circle cx="1963.5" cy="395.7" r="1.75"/><circle cx="1945.7" cy="404.5" r="1.75"/><circle cx="1977.3" cy="387.2" r="1.75"/><circle cx="1967.9" cy="393.0" r="1.75"/><circle cx="1966.8" cy="382.0" r="1.75"/><circle cx="1962.9" cy="401.8" r="1.75"/><circle cx="1976.3" cy="396.3" r="1.75"/><circle cx="1959.2" cy="402.3" r="1.75"/><circle cx="1978.8" cy="404.8" r="1.75"/><circle cx="1976.2" cy="392.9" r="1.75"/><circle cx="1968.0" cy="401.2" r="1.75"/><circle cx="2008.7" cy="381.9" r="1.75"/><circle cx="2000.2" cy="387.5" r="1.75"/><circle cx="2008.6" cy="383.8" r="1.75"/><circle cx="1998.1" cy="382.8" r="1.75"/><circle cx="2009.9" cy="388.5" r="1.75"/><circle cx="2003.0" cy="392.2" r="1.75"/><circle cx="2013.2" cy="389.0" r="1.75"/><circle cx="2005.7" cy="386.7" r="1.75"/><circle cx="2008.5" cy="385.2" r="1.75"/><circle cx="2008.5" cy="385.5" r="1.75"/><circle cx="2038.1" cy="337.3" r="1.75"/><circle cx="2033.0" cy="352.7" r="1.75"/><circle cx="2036.6" cy="337.8" r="1.75"/><circle cx="2021.6" cy="337.9" r="1.75"/><circle cx="2012.4" cy="357.5" r="1.75"/><circle cx="2028.0" cy="331.4" r="1.75"/><circle cx="2044.6" cy="330.1" r="1.75"/><circle cx="2044.9" cy="338.6" r="1.75"/><circle cx="2036.2" cy="340.6" r="1.75"/><circle cx="2011.8" cy="346.4" r="1.75"/><circle cx="2020.3" cy="336.4" r="1.75"/><circle cx="2032.5" cy="329.5" r="1.75"/><circle cx="2009.6" cy="342.1" r="1.75"/><circle cx="2008.5" cy="349.5" r="1.75"/><circle cx="2033.9" cy="340.2" r="1.75"/><circle cx="2022.0" cy="350.7" r="1.75"/><circle cx="2033.6" cy="353.5" r="1.75"/><circle cx="2018.1" cy="348.0" r="1.75"/><circle cx="2021.0" cy="340.1" r="1.75"/><circle cx="2023.0" cy="350.1" r="1.75"/><circle cx="2018.6" cy="335.9" r="1.75"/><circle cx="2047.9" cy="335.8" r="1.75"/><circle cx="2030.6" cy="347.8" r="1.75"/><circle cx="2041.1" cy="344.8" r="1.75"/><circle cx="2015.8" cy="344.4" r="1.75"/><circle cx="2040.2" cy="337.3" r="1.75"/><circle cx="2042.9" cy="349.1" r="1.75"/><circle cx="2010.2" cy="348.2" r="1.75"/><circle cx="2013.3" cy="341.3" r="1.75"/><circle cx="2022.1" cy="345.7" r="1.75"/><circle cx="2031.2" cy="329.7" r="1.75"/><circle cx="2024.8" cy="340.3" r="1.75"/><circle cx="2013.2" cy="349.4" r="1.75"/><circle cx="2004.4" cy="348.9" r="1.75"/><circle cx="2025.0" cy="358.6" r="1.75"/><circle cx="2024.1" cy="340.3" r="1.75"/><circle cx="2038.4" cy="328.1" r="1.75"/><circle cx="2022.4" cy="364.0" r="1.75"/><circle cx="2043.7" cy="339.6" r="1.75"/><circle cx="2039.6" cy="325.8" r="1.75"/><circle cx="2039.8" cy="332.1" r="1.75"/><circle cx="2029.6" cy="340.1" r="1.75"/><circle cx="2030.1" cy="336.0" r="1.75"/><circle cx="1999.6" cy="332.5" r="1.75"/><circle cx="1998.6" cy="353.6" r="1.75"/><circle cx="2014.6" cy="330.9" r="1.75"/><circle cx="2042.2" cy="337.1" r="1.75"/><circle cx="2012.6" cy="335.9" r="1.75"/><circle cx="2034.2" cy="337.7" r="1.75"/><circle cx="2006.4" cy="348.5" r="1.75"/><circle cx="2000.5" cy="365.2" r="1.75"/><circle cx="2020.4" cy="345.1" r="1.75"/><circle cx="2011.2" cy="336.7" r="1.75"/><circle cx="2020.8" cy="334.7" r="1.75"/><circle cx="1998.8" cy="357.1" r="1.75"/><circle cx="2019.4" cy="331.6" r="1.75"/><circle cx="2028.7" cy="338.0" r="1.75"/><circle cx="2017.3" cy="328.8" r="1.75"/><circle cx="2022.4" cy="323.8" r="1.75"/><circle cx="2007.2" cy="359.8" r="1.75"/><circle cx="2028.1" cy="326.8" r="1.75"/><circle cx="2009.8" cy="348.3" r="1.75"/><circle cx="2034.7" cy="336.6" r="1.75"/><circle cx="2022.4" cy="349.6" r="1.75"/><circle cx="2040.9" cy="322.6" r="1.75"/><circle cx="2017.0" cy="353.8" r="1.75"/><circle cx="2030.7" cy="328.2" r="1.75"/><circle cx="1994.9" cy="364.6" r="1.75"/><circle cx="2019.8" cy="344.6" r="1.75"/><circle cx="2017.0" cy="352.9" r="1.75"/><circle cx="2037.4" cy="349.3" r="1.75"/><circle cx="2005.1" cy="346.2" r="1.75"/><circle cx="2034.1" cy="336.4" r="1.75"/><circle cx="2022.5" cy="357.5" r="1.75"/><circle cx="2024.3" cy="329.4" r="1.75"/><circle cx="2049.4" cy="339.6" r="1.75"/><circle cx="2026.2" cy="346.6" r="1.75"/><circle cx="2032.7" cy="339.5" r="1.75"/><circle cx="2035.1" cy="337.4" r="1.75"/><circle cx="2034.4" cy="359.7" r="1.75"/><circle cx="2021.2" cy="324.3" r="1.75"/><circle cx="2046.7" cy="338.6" r="1.75"/><circle cx="2015.5" cy="350.0" r="1.75"/><circle cx="2003.1" cy="359.2" r="1.75"/><circle cx="1994.9" cy="359.4" r="1.75"/><circle cx="2043.7" cy="331.3" r="1.75"/><circle cx="2031.4" cy="344.4" r="1.75"/><circle cx="2000.2" cy="348.6" r="1.75"/><circle cx="2048.4" cy="334.4" r="1.75"/><circle cx="2056.7" cy="331.4" r="1.75"/><circle cx="2027.9" cy="363.1" r="1.75"/><circle cx="2027.1" cy="352.9" r="1.75"/><circle cx="2028.7" cy="371.5" r="1.75"/><circle cx="2026.4" cy="359.4" r="1.75"/><circle cx="2027.3" cy="370.4" r="1.75"/><circle cx="2032.6" cy="361.4" r="1.75"/><circle cx="2031.1" cy="370.7" r="1.75"/><circle cx="2029.2" cy="362.5" r="1.75"/><circle cx="2031.4" cy="360.0" r="1.75"/><circle cx="2029.7" cy="368.3" r="1.75"/><circle cx="2034.3" cy="369.6" r="1.75"/><circle cx="2030.5" cy="359.7" r="1.75"/><circle cx="2031.4" cy="364.3" r="1.75"/><circle cx="2034.9" cy="364.8" r="1.75"/><circle cx="2029.4" cy="361.3" r="1.75"/></g>
<path d="M1853.10 258.60 L1853.10 476.30 L2144.70 476.30" fill="none" stroke="#000" stroke-width="2.25" stroke-linejoin="miter" stroke-linecap="butt"/>
<path d="M1868.64 477.40 L1868.64 478.90 M1902.00 477.40 L1902.00 478.90 M1935.36 477.40 L1935.36 478.90 M1968.73 477.40 L1968.73 478.90 M2002.09 477.40 L2002.09 478.90 M2035.45 477.40 L2035.45 478.90 M2068.82 477.40 L2068.82 478.90 M2102.18 477.40 L2102.18 478.90 M2135.54 477.40 L2135.54 478.90 M1850.50 283.94 L1852.00 283.94 M1850.50 327.34 L1852.00 327.34 M1850.50 370.74 L1852.00 370.74 M1850.50 414.14 L1852.00 414.14 M1850.50 457.54 L1852.00 457.54" stroke="#000" stroke-width="1" fill="none"/>
<g><text x="1868.64" y="488.90" font-size="10.30" text-anchor="middle">−0.20</text><text x="1902.00" y="488.90" font-size="10.30" text-anchor="middle">−0.15</text><text x="1935.36" y="488.90" font-size="10.30" text-anchor="middle">−0.10</text><text x="1968.73" y="488.90" font-size="10.30" text-anchor="middle">−0.05</text><text x="2002.09" y="488.90" font-size="10.30" text-anchor="middle">0.00</text><text x="2035.45" y="488.90" font-size="10.30" text-anchor="middle">0.05</text><text x="2068.82" y="488.90" font-size="10.30" text-anchor="middle">0.10</text><text x="2102.18" y="488.90" font-size="10.30" text-anchor="middle">0.15</text><text x="2135.54" y="488.90" font-size="10.30" text-anchor="middle">0.20</text><text x="1848.30" y="287.99" font-size="11.10" text-anchor="end">0.2</text><text x="1848.30" y="331.39" font-size="11.10" text-anchor="end">0.1</text><text x="1848.30" y="374.79" font-size="11.10" text-anchor="end">0.0</text><text x="1848.30" y="418.19" font-size="11.10" text-anchor="end">−0.1</text><text x="1848.30" y="461.59" font-size="11.10" text-anchor="end">−0.2</text></g>
<text x="1989.40" y="504.20" font-size="17.00" text-anchor="middle">female beta</text>
<text transform="translate(1824.26 358.90) rotate(-90)" x="0" y="0" font-size="17.00" text-anchor="middle">male beta</text>
<!-- b7 -->
<g transform="translate(1199.20 505.00) scale(0.16527 0.16681) translate(-385.0 -205.0)"><g fill="none" stroke="#93b6b9" stroke-width="16" stroke-linecap="round" stroke-linejoin="round">
<path d="M392 630 L445 265 L525 212 C585 228 625 245 638 270 C640 295 625 300 615 305 C628 318 625 330 600 345 L570 350 L522 338 L518 548 C560 505 620 485 680 482 C720 452 780 440 832 446 L835 580 C750 628 650 658 560 656 C480 655 420 645 392 630 Z"/>
<path d="M548 285 C568 300 598 305 628 295"/>
<path d="M588 402 L624 440 M650 362 L663 415 M725 358 L706 405"/>
<path d="M550 560 C592 522 640 510 662 516 M710 492 C760 470 800 474 830 480 M450 468 L425 600"/>
</g></g>
<g fill="#93b6b9" stroke="#ffffff" stroke-width="0.45"><circle cx="1183.9" cy="699.4" r="1.75"/><circle cx="1360.8" cy="720.6" r="1.75"/><circle cx="1413.2" cy="667.5" r="1.75"/><circle cx="1389.1" cy="659.5" r="1.75"/><circle cx="1388.8" cy="657.5" r="1.75"/><circle cx="1411.5" cy="645.4" r="1.75"/><circle cx="1386.6" cy="642.9" r="1.75"/><circle cx="1392.7" cy="647.0" r="1.75"/><circle cx="1310.7" cy="641.7" r="1.75"/><circle cx="1291.6" cy="626.8" r="1.75"/><circle cx="1311.3" cy="627.1" r="1.75"/><circle cx="1327.1" cy="628.3" r="1.75"/><circle cx="1346.7" cy="630.1" r="1.75"/><circle cx="1350.0" cy="636.2" r="1.75"/><circle cx="1375.0" cy="626.3" r="1.75"/><circle cx="1381.1" cy="627.6" r="1.75"/><circle cx="1302.4" cy="607.7" r="1.75"/><circle cx="1315.2" cy="615.8" r="1.75"/><circle cx="1317.6" cy="603.3" r="1.75"/><circle cx="1304.7" cy="589.7" r="1.75"/><circle cx="1312.3" cy="583.6" r="1.75"/><circle cx="1312.3" cy="587.2" r="1.75"/><circle cx="1330.4" cy="567.6" r="1.75"/><circle cx="1336.4" cy="585.6" r="1.75"/><circle cx="1328.8" cy="590.9" r="1.75"/><circle cx="1329.6" cy="598.4" r="1.75"/><circle cx="1332.3" cy="601.3" r="1.75"/><circle cx="1338.1" cy="605.2" r="1.75"/><circle cx="1330.9" cy="611.8" r="1.75"/><circle cx="1351.2" cy="587.7" r="1.75"/><circle cx="1352.5" cy="583.1" r="1.75"/><circle cx="1353.9" cy="579.7" r="1.75"/><circle cx="1349.2" cy="599.4" r="1.75"/><circle cx="1350.4" cy="601.7" r="1.75"/><circle cx="1356.7" cy="601.0" r="1.75"/><circle cx="1376.3" cy="581.7" r="1.75"/><circle cx="1411.5" cy="521.1" r="1.75"/><circle cx="1407.4" cy="534.1" r="1.75"/><circle cx="1410.4" cy="536.9" r="1.75"/><circle cx="1416.0" cy="549.0" r="1.75"/><circle cx="1416.5" cy="552.8" r="1.75"/><circle cx="1392.4" cy="559.5" r="1.75"/><circle cx="1397.4" cy="556.8" r="1.75"/><circle cx="1406.5" cy="556.8" r="1.75"/><circle cx="1402.4" cy="562.0" r="1.75"/><circle cx="1407.0" cy="561.8" r="1.75"/><circle cx="1410.4" cy="562.0" r="1.75"/><circle cx="1415.7" cy="561.1" r="1.75"/><circle cx="1429.3" cy="558.6" r="1.75"/><circle cx="1451.7" cy="562.8" r="1.75"/><circle cx="1450.1" cy="566.5" r="1.75"/><circle cx="1418.7" cy="627.1" r="1.75"/><circle cx="1423.1" cy="625.4" r="1.75"/><circle cx="1425.3" cy="623.8" r="1.75"/><circle cx="1367.9" cy="602.6" r="1.75"/><circle cx="1361.1" cy="596.3" r="1.75"/><circle cx="1360.1" cy="588.4" r="1.75"/><circle cx="1372.8" cy="593.7" r="1.75"/><circle cx="1365.6" cy="601.9" r="1.75"/><circle cx="1363.2" cy="595.7" r="1.75"/><circle cx="1367.2" cy="593.3" r="1.75"/><circle cx="1362.7" cy="608.6" r="1.75"/><circle cx="1372.2" cy="604.4" r="1.75"/><circle cx="1359.5" cy="595.5" r="1.75"/><circle cx="1374.3" cy="605.4" r="1.75"/><circle cx="1362.3" cy="602.0" r="1.75"/><circle cx="1378.8" cy="604.7" r="1.75"/><circle cx="1367.5" cy="594.0" r="1.75"/><circle cx="1356.4" cy="596.3" r="1.75"/><circle cx="1369.1" cy="598.6" r="1.75"/><circle cx="1367.1" cy="604.8" r="1.75"/><circle cx="1376.5" cy="590.6" r="1.75"/><circle cx="1369.1" cy="598.4" r="1.75"/><circle cx="1369.0" cy="595.3" r="1.75"/><circle cx="1372.3" cy="607.8" r="1.75"/><circle cx="1365.0" cy="595.9" r="1.75"/><circle cx="1376.5" cy="589.8" r="1.75"/><circle cx="1373.0" cy="598.7" r="1.75"/><circle cx="1362.6" cy="601.1" r="1.75"/><circle cx="1366.6" cy="601.9" r="1.75"/><circle cx="1372.1" cy="597.4" r="1.75"/><circle cx="1370.4" cy="600.2" r="1.75"/><circle cx="1372.8" cy="584.1" r="1.75"/><circle cx="1367.1" cy="604.3" r="1.75"/><circle cx="1367.7" cy="608.0" r="1.75"/><circle cx="1365.0" cy="595.6" r="1.75"/><circle cx="1368.4" cy="586.7" r="1.75"/><circle cx="1384.1" cy="591.5" r="1.75"/><circle cx="1368.6" cy="582.1" r="1.75"/><circle cx="1370.4" cy="591.9" r="1.75"/><circle cx="1374.0" cy="600.5" r="1.75"/><circle cx="1378.8" cy="595.7" r="1.75"/><circle cx="1370.1" cy="597.2" r="1.75"/><circle cx="1370.4" cy="593.4" r="1.75"/><circle cx="1367.1" cy="607.9" r="1.75"/><circle cx="1374.6" cy="588.9" r="1.75"/><circle cx="1369.9" cy="599.6" r="1.75"/><circle cx="1360.2" cy="604.0" r="1.75"/><circle cx="1362.6" cy="602.2" r="1.75"/><circle cx="1432.8" cy="584.4" r="1.75"/><circle cx="1429.9" cy="597.5" r="1.75"/><circle cx="1420.8" cy="594.8" r="1.75"/><circle cx="1437.2" cy="600.2" r="1.75"/><circle cx="1419.3" cy="571.5" r="1.75"/><circle cx="1422.4" cy="581.1" r="1.75"/><circle cx="1434.7" cy="584.9" r="1.75"/><circle cx="1437.4" cy="578.6" r="1.75"/><circle cx="1420.5" cy="591.1" r="1.75"/><circle cx="1417.0" cy="605.4" r="1.75"/><circle cx="1419.1" cy="594.8" r="1.75"/><circle cx="1428.0" cy="605.1" r="1.75"/><circle cx="1440.7" cy="590.7" r="1.75"/><circle cx="1428.4" cy="595.6" r="1.75"/><circle cx="1424.4" cy="599.5" r="1.75"/><circle cx="1414.8" cy="583.4" r="1.75"/><circle cx="1414.5" cy="592.0" r="1.75"/><circle cx="1435.7" cy="593.5" r="1.75"/><circle cx="1423.1" cy="588.8" r="1.75"/><circle cx="1435.5" cy="588.3" r="1.75"/><circle cx="1420.5" cy="591.3" r="1.75"/><circle cx="1411.2" cy="588.4" r="1.75"/><circle cx="1424.6" cy="587.1" r="1.75"/><circle cx="1419.1" cy="608.5" r="1.75"/><circle cx="1433.8" cy="598.2" r="1.75"/><circle cx="1433.3" cy="580.9" r="1.75"/><circle cx="1424.3" cy="588.8" r="1.75"/><circle cx="1424.5" cy="596.8" r="1.75"/><circle cx="1424.9" cy="603.3" r="1.75"/><circle cx="1425.0" cy="592.0" r="1.75"/><circle cx="1432.9" cy="593.4" r="1.75"/><circle cx="1417.0" cy="595.1" r="1.75"/><circle cx="1420.2" cy="604.7" r="1.75"/><circle cx="1440.1" cy="582.6" r="1.75"/><circle cx="1432.4" cy="587.5" r="1.75"/><circle cx="1411.2" cy="596.2" r="1.75"/><circle cx="1433.5" cy="606.6" r="1.75"/><circle cx="1428.2" cy="583.8" r="1.75"/><circle cx="1434.8" cy="590.8" r="1.75"/><circle cx="1427.2" cy="595.8" r="1.75"/><circle cx="1420.0" cy="596.5" r="1.75"/><circle cx="1425.2" cy="577.2" r="1.75"/><circle cx="1430.0" cy="576.4" r="1.75"/><circle cx="1420.0" cy="595.2" r="1.75"/><circle cx="1419.0" cy="597.7" r="1.75"/><circle cx="1416.0" cy="591.7" r="1.75"/><circle cx="1431.7" cy="586.5" r="1.75"/><circle cx="1421.1" cy="588.4" r="1.75"/><circle cx="1416.7" cy="585.7" r="1.75"/><circle cx="1422.0" cy="582.1" r="1.75"/><circle cx="1430.1" cy="596.7" r="1.75"/><circle cx="1424.9" cy="596.0" r="1.75"/><circle cx="1436.0" cy="584.5" r="1.75"/><circle cx="1442.1" cy="583.2" r="1.75"/><circle cx="1424.7" cy="597.8" r="1.75"/><circle cx="1418.0" cy="590.8" r="1.75"/><circle cx="1422.9" cy="592.3" r="1.75"/><circle cx="1438.8" cy="582.6" r="1.75"/><circle cx="1419.3" cy="586.3" r="1.75"/><circle cx="1418.0" cy="584.4" r="1.75"/><circle cx="1431.4" cy="579.9" r="1.75"/><circle cx="1437.1" cy="579.2" r="1.75"/><circle cx="1441.0" cy="568.3" r="1.75"/><circle cx="1438.6" cy="578.8" r="1.75"/><circle cx="1434.4" cy="574.4" r="1.75"/><circle cx="1436.8" cy="568.3" r="1.75"/><circle cx="1434.3" cy="577.9" r="1.75"/><circle cx="1438.5" cy="577.6" r="1.75"/><circle cx="1431.7" cy="572.2" r="1.75"/><circle cx="1442.1" cy="567.7" r="1.75"/><circle cx="1446.7" cy="594.3" r="1.75"/><circle cx="1447.6" cy="604.1" r="1.75"/><circle cx="1451.8" cy="595.2" r="1.75"/><circle cx="1447.0" cy="591.1" r="1.75"/><circle cx="1448.6" cy="597.0" r="1.75"/><circle cx="1454.5" cy="593.6" r="1.75"/><circle cx="1443.6" cy="596.7" r="1.75"/><circle cx="1450.2" cy="593.2" r="1.75"/><circle cx="1397.4" cy="633.0" r="1.75"/><circle cx="1396.5" cy="632.5" r="1.75"/><circle cx="1386.4" cy="636.9" r="1.75"/><circle cx="1391.3" cy="634.9" r="1.75"/><circle cx="1393.8" cy="642.4" r="1.75"/><circle cx="1403.6" cy="637.0" r="1.75"/><circle cx="1397.9" cy="633.6" r="1.75"/><circle cx="1401.4" cy="630.3" r="1.75"/><circle cx="1385.3" cy="639.6" r="1.75"/><circle cx="1393.9" cy="638.9" r="1.75"/><circle cx="1394.6" cy="638.2" r="1.75"/><circle cx="1400.1" cy="634.6" r="1.75"/><circle cx="1391.3" cy="636.9" r="1.75"/><circle cx="1400.2" cy="628.7" r="1.75"/><circle cx="1408.2" cy="631.2" r="1.75"/><circle cx="1407.9" cy="628.5" r="1.75"/><circle cx="1408.3" cy="634.9" r="1.75"/><circle cx="1405.4" cy="638.4" r="1.75"/><circle cx="1408.7" cy="633.8" r="1.75"/></g>
<path d="M1170.60 510.30 L1170.60 730.60 L1465.80 730.60" fill="none" stroke="#000" stroke-width="2.25" stroke-linejoin="miter" stroke-linecap="butt"/>
<path d="M1196.76 731.70 L1196.76 733.20 M1247.27 731.70 L1247.27 733.20 M1297.79 731.70 L1297.79 733.20 M1348.31 731.70 L1348.31 733.20 M1398.83 731.70 L1398.83 733.20 M1449.34 731.70 L1449.34 733.20 M1168.00 520.92 L1169.50 520.92 M1168.00 545.79 L1169.50 545.79 M1168.00 570.66 L1169.50 570.66 M1168.00 595.52 L1169.50 595.52 M1168.00 620.39 L1169.50 620.39 M1168.00 645.26 L1169.50 645.26 M1168.00 670.12 L1169.50 670.12 M1168.00 694.99 L1169.50 694.99 M1168.00 719.86 L1169.50 719.86" stroke="#000" stroke-width="1" fill="none"/>
<g><text x="1196.76" y="743.20" font-size="10.30" text-anchor="middle">−0.4</text><text x="1247.27" y="743.20" font-size="10.30" text-anchor="middle">−0.3</text><text x="1297.79" y="743.20" font-size="10.30" text-anchor="middle">−0.2</text><text x="1348.31" y="743.20" font-size="10.30" text-anchor="middle">−0.1</text><text x="1398.83" y="743.20" font-size="10.30" text-anchor="middle">0.0</text><text x="1449.34" y="743.20" font-size="10.30" text-anchor="middle">0.1</text><text x="1165.80" y="524.97" font-size="11.10" text-anchor="end">0.075</text><text x="1165.80" y="549.83" font-size="11.10" text-anchor="end">0.050</text><text x="1165.80" y="574.70" font-size="11.10" text-anchor="end">0.025</text><text x="1165.80" y="599.57" font-size="11.10" text-anchor="end">0.000</text><text x="1165.80" y="624.43" font-size="11.10" text-anchor="end">−0.025</text><text x="1165.80" y="649.30" font-size="11.10" text-anchor="end">−0.050</text><text x="1165.80" y="674.17" font-size="11.10" text-anchor="end">−0.075</text><text x="1165.80" y="699.03" font-size="11.10" text-anchor="end">−0.100</text><text x="1165.80" y="723.90" font-size="11.10" text-anchor="end">−0.125</text></g>
<text x="1332.60" y="757.50" font-size="17.00" text-anchor="middle">female beta</text>
<text transform="translate(1131.76 622.50) rotate(-90)" x="0" y="0" font-size="17.00" text-anchor="middle">male beta</text>
<!-- b8 -->
<g transform="translate(1532.20 518.30) scale(0.16809 0.16636) translate(-500.0 -185.0)"><g fill="none" stroke="#5e9a58" stroke-width="12" stroke-linecap="round" stroke-linejoin="round">
<path d="M562 618 C518 618 505 600 505 548 C500 420 515 300 562 230 C582 200 608 188 628 190 C655 195 666 258 668 305 L672 522 C674 585 640 612 562 618 Z M662 322 C612 382 602 452 600 520 L556 596 M600 430 L546 476 M600 482 L650 530 M578 560 L602 592 M612 398 C630 410 645 440 652 462 M622 335 L558 335 M600 316 L576 272"/>
<path transform="translate(1444 0) scale(-1 1)" d="M562 618 C518 618 505 600 505 548 C500 420 515 300 562 230 C582 200 608 188 628 190 C655 195 666 258 668 305 L672 522 C674 585 640 612 562 618 Z M662 322 C612 382 602 452 600 520 L556 596 M600 430 L546 476 M600 482 L650 530 M578 560 L602 592 M612 398 C630 410 645 440 652 462 M622 335 L558 335 M600 316 L576 272"/>
<path d="M702 285 L702 213 L742 213 L742 285 M668 292 L702 285 M742 285 L776 292 M662 322 C690 300 705 296 722 296 C740 296 756 300 782 322"/>
</g></g>
<g fill="#5e9a58" stroke="#ffffff" stroke-width="0.45"><circle cx="1759.8" cy="523.3" r="1.75"/><circle cx="1767.0" cy="543.2" r="1.75"/><circle cx="1791.9" cy="551.2" r="1.75"/><circle cx="1734.1" cy="545.4" r="1.75"/><circle cx="1738.7" cy="551.2" r="1.75"/><circle cx="1718.0" cy="592.7" r="1.75"/><circle cx="1722.4" cy="604.7" r="1.75"/><circle cx="1725.4" cy="601.3" r="1.75"/><circle cx="1745.4" cy="615.1" r="1.75"/><circle cx="1667.1" cy="577.8" r="1.75"/><circle cx="1675.4" cy="581.4" r="1.75"/><circle cx="1683.7" cy="581.1" r="1.75"/><circle cx="1692.0" cy="575.3" r="1.75"/><circle cx="1693.7" cy="578.4" r="1.75"/><circle cx="1699.7" cy="580.6" r="1.75"/><circle cx="1727.4" cy="583.1" r="1.75"/><circle cx="1739.9" cy="578.1" r="1.75"/><circle cx="1714.6" cy="551.2" r="1.75"/><circle cx="1526.4" cy="670.3" r="1.75"/><circle cx="1528.9" cy="680.3" r="1.75"/><circle cx="1540.5" cy="686.4" r="1.75"/><circle cx="1560.8" cy="692.2" r="1.75"/><circle cx="1548.3" cy="653.7" r="1.75"/><circle cx="1551.3" cy="662.0" r="1.75"/><circle cx="1581.6" cy="691.4" r="1.75"/><circle cx="1585.7" cy="686.1" r="1.75"/><circle cx="1590.4" cy="689.4" r="1.75"/><circle cx="1623.6" cy="720.6" r="1.75"/><circle cx="1587.4" cy="637.9" r="1.75"/><circle cx="1598.7" cy="632.6" r="1.75"/><circle cx="1604.1" cy="630.4" r="1.75"/><circle cx="1600.3" cy="637.9" r="1.75"/><circle cx="1606.1" cy="636.6" r="1.75"/><circle cx="1606.6" cy="638.4" r="1.75"/><circle cx="1594.8" cy="645.0" r="1.75"/><circle cx="1648.5" cy="649.2" r="1.75"/><circle cx="1650.7" cy="656.7" r="1.75"/><circle cx="1650.7" cy="659.2" r="1.75"/><circle cx="1627.7" cy="677.4" r="1.75"/><circle cx="1599.2" cy="673.6" r="1.75"/><circle cx="1605.6" cy="669.5" r="1.75"/><circle cx="1616.4" cy="665.6" r="1.75"/><circle cx="1636.0" cy="650.4" r="1.75"/><circle cx="1722.7" cy="580.0" r="1.75"/><circle cx="1701.7" cy="574.6" r="1.75"/><circle cx="1725.8" cy="562.9" r="1.75"/><circle cx="1692.7" cy="575.1" r="1.75"/><circle cx="1694.4" cy="567.3" r="1.75"/><circle cx="1703.5" cy="564.2" r="1.75"/><circle cx="1708.9" cy="571.9" r="1.75"/><circle cx="1695.0" cy="567.8" r="1.75"/><circle cx="1714.8" cy="554.6" r="1.75"/><circle cx="1713.4" cy="586.7" r="1.75"/><circle cx="1715.0" cy="572.3" r="1.75"/><circle cx="1721.3" cy="571.1" r="1.75"/><circle cx="1717.1" cy="583.9" r="1.75"/><circle cx="1692.2" cy="575.4" r="1.75"/><circle cx="1710.1" cy="575.6" r="1.75"/><circle cx="1712.5" cy="576.6" r="1.75"/><circle cx="1717.1" cy="554.1" r="1.75"/><circle cx="1701.0" cy="571.6" r="1.75"/><circle cx="1698.7" cy="570.3" r="1.75"/><circle cx="1724.0" cy="556.9" r="1.75"/><circle cx="1702.1" cy="577.1" r="1.75"/><circle cx="1707.8" cy="573.8" r="1.75"/><circle cx="1732.1" cy="573.8" r="1.75"/><circle cx="1707.9" cy="574.5" r="1.75"/><circle cx="1716.4" cy="571.4" r="1.75"/><circle cx="1701.4" cy="578.5" r="1.75"/><circle cx="1729.9" cy="561.6" r="1.75"/><circle cx="1702.4" cy="579.8" r="1.75"/><circle cx="1720.5" cy="570.6" r="1.75"/><circle cx="1700.7" cy="578.2" r="1.75"/><circle cx="1703.6" cy="558.4" r="1.75"/><circle cx="1707.2" cy="578.8" r="1.75"/><circle cx="1719.7" cy="575.0" r="1.75"/><circle cx="1721.5" cy="583.0" r="1.75"/><circle cx="1700.5" cy="565.1" r="1.75"/><circle cx="1725.4" cy="572.4" r="1.75"/><circle cx="1709.8" cy="568.0" r="1.75"/><circle cx="1711.1" cy="571.6" r="1.75"/><circle cx="1705.3" cy="565.2" r="1.75"/><circle cx="1712.2" cy="570.1" r="1.75"/><circle cx="1704.3" cy="571.6" r="1.75"/><circle cx="1718.0" cy="587.3" r="1.75"/><circle cx="1697.4" cy="573.4" r="1.75"/><circle cx="1691.4" cy="577.1" r="1.75"/><circle cx="1720.5" cy="577.6" r="1.75"/><circle cx="1615.5" cy="649.4" r="1.75"/><circle cx="1626.7" cy="658.1" r="1.75"/><circle cx="1593.1" cy="650.1" r="1.75"/><circle cx="1612.1" cy="649.5" r="1.75"/><circle cx="1606.6" cy="662.5" r="1.75"/><circle cx="1623.4" cy="657.1" r="1.75"/><circle cx="1610.5" cy="660.0" r="1.75"/><circle cx="1616.2" cy="649.6" r="1.75"/><circle cx="1595.1" cy="657.5" r="1.75"/><circle cx="1604.1" cy="643.2" r="1.75"/><circle cx="1626.9" cy="647.2" r="1.75"/><circle cx="1616.1" cy="657.9" r="1.75"/><circle cx="1591.2" cy="650.7" r="1.75"/><circle cx="1613.8" cy="662.9" r="1.75"/><circle cx="1617.3" cy="657.1" r="1.75"/><circle cx="1629.5" cy="654.8" r="1.75"/><circle cx="1622.5" cy="647.2" r="1.75"/><circle cx="1613.9" cy="651.1" r="1.75"/><circle cx="1611.9" cy="659.4" r="1.75"/><circle cx="1627.8" cy="653.2" r="1.75"/><circle cx="1620.1" cy="650.4" r="1.75"/><circle cx="1621.8" cy="644.8" r="1.75"/><circle cx="1618.7" cy="656.5" r="1.75"/><circle cx="1609.9" cy="646.3" r="1.75"/><circle cx="1605.1" cy="661.6" r="1.75"/><circle cx="1590.4" cy="649.1" r="1.75"/><circle cx="1610.3" cy="658.1" r="1.75"/><circle cx="1623.1" cy="648.5" r="1.75"/><circle cx="1619.7" cy="642.8" r="1.75"/><circle cx="1608.4" cy="646.3" r="1.75"/></g>
<path d="M1513.40 512.50 L1513.40 730.60 L1805.80 730.60" fill="none" stroke="#000" stroke-width="2.25" stroke-linejoin="miter" stroke-linecap="butt"/>
<path d="M1543.80 731.70 L1543.80 733.20 M1583.40 731.70 L1583.40 733.20 M1623.00 731.70 L1623.00 733.20 M1662.60 731.70 L1662.60 733.20 M1702.20 731.70 L1702.20 733.20 M1741.80 731.70 L1741.80 733.20 M1781.40 731.70 L1781.40 733.20 M1510.80 536.09 L1512.30 536.09 M1510.80 562.60 L1512.30 562.60 M1510.80 589.11 L1512.30 589.11 M1510.80 615.62 L1512.30 615.62 M1510.80 642.13 L1512.30 642.13 M1510.80 668.64 L1512.30 668.64 M1510.80 695.15 L1512.30 695.15 M1510.80 721.66 L1512.30 721.66" stroke="#000" stroke-width="1" fill="none"/>
<g><text x="1543.80" y="743.20" font-size="10.30" text-anchor="middle">−0.075</text><text x="1583.40" y="743.20" font-size="10.30" text-anchor="middle">−0.050</text><text x="1623.00" y="743.20" font-size="10.30" text-anchor="middle">−0.025</text><text x="1662.60" y="743.20" font-size="10.30" text-anchor="middle">0.000</text><text x="1702.20" y="743.20" font-size="10.30" text-anchor="middle">0.025</text><text x="1741.80" y="743.20" font-size="10.30" text-anchor="middle">0.050</text><text x="1781.40" y="743.20" font-size="10.30" text-anchor="middle">0.075</text><text x="1508.60" y="540.14" font-size="11.10" text-anchor="end">0.075</text><text x="1508.60" y="566.65" font-size="11.10" text-anchor="end">0.050</text><text x="1508.60" y="593.16" font-size="11.10" text-anchor="end">0.025</text><text x="1508.60" y="619.67" font-size="11.10" text-anchor="end">0.000</text><text x="1508.60" y="646.18" font-size="11.10" text-anchor="end">−0.025</text><text x="1508.60" y="672.69" font-size="11.10" text-anchor="end">−0.050</text><text x="1508.60" y="699.19" font-size="11.10" text-anchor="end">−0.075</text><text x="1508.60" y="725.70" font-size="11.10" text-anchor="end">−0.100</text></g>
<text x="1672.60" y="758.30" font-size="17.00" text-anchor="middle">female beta</text>
<text transform="translate(1471.46 624.20) rotate(-90)" x="0" y="0" font-size="17.00" text-anchor="middle">male beta</text>
<!-- b9 -->
<g transform="translate(1868.00 515.00) scale(0.16644 0.16600) translate(-415.0 -185.0)"><g fill="none" stroke="#cfaebe" stroke-width="8" stroke-linecap="round" stroke-linejoin="round">
<path d="M562 252 C562 205 535 188 505 188 C452 190 418 240 418 302 C418 382 462 432 512 436 C542 436 562 420 562 392 M470 232 C440 272 436 332 466 388 M520 288 C585 292 612 332 616 392 L616 492 M528 330 C572 334 598 360 600 398 L600 492 M540 300 L470 300 M525 278 L492 258 M535 318 L498 345"/>
<path transform="translate(1264 0) scale(-1 1)" d="M562 252 C562 205 535 188 505 188 C452 190 418 240 418 302 C418 382 462 432 512 436 C542 436 562 420 562 392 M470 232 C440 272 436 332 466 388 M520 288 C585 292 612 332 616 392 L616 492 M528 330 C572 334 598 360 600 398 L600 492 M540 300 L470 300 M525 278 L492 258 M535 318 L498 345"/>
<path d="M600 494 C562 500 542 520 542 550 C542 590 582 605 632 605 C682 605 720 590 720 550 C720 520 702 500 664 494 M622 605 L622 635 M642 605 L642 635"/>
</g></g>
<g fill="#cfaebe" stroke="#ffffff" stroke-width="0.45"><circle cx="1866.4" cy="675.8" r="1.75"/><circle cx="2130.6" cy="521.3" r="1.75"/><circle cx="2131.4" cy="538.2" r="1.75"/><circle cx="2122.3" cy="551.2" r="1.75"/><circle cx="2124.8" cy="546.5" r="1.75"/><circle cx="2069.4" cy="551.0" r="1.75"/><circle cx="2028.7" cy="562.3" r="1.75"/><circle cx="2054.8" cy="573.1" r="1.75"/><circle cx="2106.5" cy="559.8" r="1.75"/><circle cx="2004.8" cy="651.7" r="1.75"/><circle cx="2015.1" cy="640.7" r="1.75"/><circle cx="2012.6" cy="602.2" r="1.75"/><circle cx="2001.5" cy="599.7" r="1.75"/><circle cx="1955.6" cy="671.1" r="1.75"/><circle cx="1938.4" cy="656.7" r="1.75"/><circle cx="1942.8" cy="662.2" r="1.75"/><circle cx="1968.1" cy="659.5" r="1.75"/><circle cx="1985.5" cy="654.0" r="1.75"/><circle cx="1980.6" cy="656.7" r="1.75"/><circle cx="1890.2" cy="716.3" r="1.75"/><circle cx="1868.9" cy="718.1" r="1.75"/><circle cx="1867.3" cy="712.2" r="1.75"/><circle cx="1871.4" cy="706.8" r="1.75"/><circle cx="1882.2" cy="706.8" r="1.75"/><circle cx="1883.5" cy="710.2" r="1.75"/><circle cx="1883.0" cy="697.7" r="1.75"/><circle cx="1892.2" cy="688.2" r="1.75"/><circle cx="1898.2" cy="679.4" r="1.75"/><circle cx="1899.7" cy="688.2" r="1.75"/><circle cx="1902.6" cy="675.3" r="1.75"/><circle cx="1916.6" cy="685.2" r="1.75"/><circle cx="1920.8" cy="687.2" r="1.75"/><circle cx="1920.8" cy="682.8" r="1.75"/><circle cx="1918.8" cy="676.4" r="1.75"/><circle cx="1919.3" cy="666.6" r="1.75"/><circle cx="1925.4" cy="669.5" r="1.75"/><circle cx="1928.7" cy="669.5" r="1.75"/><circle cx="1925.4" cy="680.3" r="1.75"/><circle cx="1935.7" cy="675.3" r="1.75"/><circle cx="1943.2" cy="673.3" r="1.75"/><circle cx="1959.1" cy="660.8" r="1.75"/><circle cx="1959.5" cy="651.7" r="1.75"/><circle cx="1971.6" cy="647.9" r="1.75"/><circle cx="1955.8" cy="654.8" r="1.75"/><circle cx="1973.0" cy="649.6" r="1.75"/><circle cx="1942.4" cy="650.2" r="1.75"/><circle cx="1959.9" cy="656.3" r="1.75"/><circle cx="1952.3" cy="657.1" r="1.75"/><circle cx="1963.2" cy="659.6" r="1.75"/><circle cx="1948.0" cy="656.6" r="1.75"/><circle cx="1945.7" cy="660.9" r="1.75"/><circle cx="1953.8" cy="651.3" r="1.75"/><circle cx="1961.8" cy="655.0" r="1.75"/><circle cx="1954.6" cy="657.4" r="1.75"/><circle cx="1939.1" cy="654.3" r="1.75"/><circle cx="1953.8" cy="654.6" r="1.75"/><circle cx="1995.5" cy="642.3" r="1.75"/><circle cx="1990.4" cy="634.6" r="1.75"/><circle cx="1973.8" cy="641.0" r="1.75"/><circle cx="1972.1" cy="631.1" r="1.75"/><circle cx="1968.1" cy="637.8" r="1.75"/><circle cx="2000.2" cy="633.1" r="1.75"/><circle cx="1978.4" cy="638.2" r="1.75"/><circle cx="1973.0" cy="646.9" r="1.75"/><circle cx="1985.9" cy="644.8" r="1.75"/><circle cx="1970.6" cy="636.4" r="1.75"/><circle cx="1997.5" cy="626.7" r="1.75"/><circle cx="1979.0" cy="640.9" r="1.75"/><circle cx="1975.7" cy="632.0" r="1.75"/><circle cx="1979.6" cy="643.1" r="1.75"/><circle cx="1984.5" cy="634.6" r="1.75"/><circle cx="1999.7" cy="639.1" r="1.75"/><circle cx="1987.7" cy="636.2" r="1.75"/><circle cx="1991.5" cy="635.6" r="1.75"/><circle cx="1978.8" cy="635.4" r="1.75"/><circle cx="1989.0" cy="639.7" r="1.75"/><circle cx="2004.5" cy="631.5" r="1.75"/><circle cx="1998.2" cy="626.5" r="1.75"/><circle cx="2004.7" cy="620.7" r="1.75"/><circle cx="2001.0" cy="624.0" r="1.75"/><circle cx="2005.4" cy="622.1" r="1.75"/><circle cx="1992.1" cy="612.5" r="1.75"/><circle cx="2004.4" cy="632.9" r="1.75"/><circle cx="2015.5" cy="629.9" r="1.75"/><circle cx="1997.4" cy="617.3" r="1.75"/><circle cx="2008.7" cy="626.0" r="1.75"/><circle cx="1998.7" cy="622.2" r="1.75"/><circle cx="2002.9" cy="617.5" r="1.75"/><circle cx="2005.7" cy="635.3" r="1.75"/><circle cx="1999.7" cy="621.3" r="1.75"/><circle cx="1997.2" cy="631.2" r="1.75"/><circle cx="1998.4" cy="620.1" r="1.75"/><circle cx="2001.5" cy="622.9" r="1.75"/><circle cx="2003.0" cy="627.0" r="1.75"/><circle cx="1998.8" cy="616.5" r="1.75"/><circle cx="2000.2" cy="617.2" r="1.75"/><circle cx="1998.8" cy="630.2" r="1.75"/><circle cx="1999.5" cy="626.0" r="1.75"/><circle cx="2003.9" cy="621.9" r="1.75"/><circle cx="2000.6" cy="633.5" r="1.75"/><circle cx="2004.5" cy="622.7" r="1.75"/><circle cx="2024.6" cy="627.5" r="1.75"/><circle cx="2026.1" cy="629.5" r="1.75"/><circle cx="2028.0" cy="630.2" r="1.75"/><circle cx="2024.0" cy="637.9" r="1.75"/><circle cx="2022.8" cy="632.5" r="1.75"/><circle cx="2020.7" cy="639.2" r="1.75"/><circle cx="2019.2" cy="628.9" r="1.75"/><circle cx="2022.2" cy="629.7" r="1.75"/><circle cx="2017.5" cy="627.9" r="1.75"/><circle cx="2027.2" cy="630.5" r="1.75"/><circle cx="2029.1" cy="628.4" r="1.75"/><circle cx="2023.7" cy="635.9" r="1.75"/><circle cx="2023.1" cy="631.2" r="1.75"/><circle cx="2028.4" cy="629.4" r="1.75"/><circle cx="2020.0" cy="631.2" r="1.75"/><circle cx="2045.8" cy="593.7" r="1.75"/><circle cx="2037.1" cy="606.4" r="1.75"/><circle cx="2063.0" cy="593.6" r="1.75"/><circle cx="2063.5" cy="600.2" r="1.75"/><circle cx="2038.1" cy="598.6" r="1.75"/><circle cx="2035.7" cy="609.0" r="1.75"/><circle cx="2058.0" cy="592.5" r="1.75"/><circle cx="2036.4" cy="606.7" r="1.75"/><circle cx="2044.2" cy="591.4" r="1.75"/><circle cx="2039.3" cy="599.9" r="1.75"/><circle cx="2045.0" cy="602.0" r="1.75"/><circle cx="2045.0" cy="608.4" r="1.75"/><circle cx="2032.0" cy="599.7" r="1.75"/><circle cx="2037.1" cy="599.5" r="1.75"/><circle cx="2049.2" cy="605.6" r="1.75"/><circle cx="2048.7" cy="597.8" r="1.75"/><circle cx="2036.2" cy="600.1" r="1.75"/><circle cx="2063.7" cy="601.8" r="1.75"/><circle cx="2045.7" cy="588.3" r="1.75"/><circle cx="2040.4" cy="598.2" r="1.75"/><circle cx="2025.1" cy="616.4" r="1.75"/><circle cx="2027.5" cy="603.9" r="1.75"/><circle cx="2057.3" cy="594.4" r="1.75"/><circle cx="2051.4" cy="610.0" r="1.75"/><circle cx="2042.0" cy="595.3" r="1.75"/><circle cx="2050.8" cy="599.4" r="1.75"/><circle cx="2036.0" cy="603.0" r="1.75"/><circle cx="2034.7" cy="605.8" r="1.75"/><circle cx="2047.0" cy="611.1" r="1.75"/><circle cx="2027.5" cy="591.1" r="1.75"/><circle cx="2038.0" cy="597.9" r="1.75"/><circle cx="2049.8" cy="600.3" r="1.75"/><circle cx="2024.1" cy="599.5" r="1.75"/><circle cx="2051.4" cy="585.5" r="1.75"/><circle cx="2043.4" cy="592.3" r="1.75"/><circle cx="2061.8" cy="590.1" r="1.75"/><circle cx="2075.1" cy="588.5" r="1.75"/><circle cx="2060.4" cy="585.7" r="1.75"/><circle cx="2065.1" cy="588.7" r="1.75"/><circle cx="2059.6" cy="588.9" r="1.75"/><circle cx="2065.6" cy="586.7" r="1.75"/><circle cx="2057.1" cy="588.5" r="1.75"/><circle cx="2062.0" cy="585.4" r="1.75"/><circle cx="2060.1" cy="586.2" r="1.75"/><circle cx="2060.5" cy="590.0" r="1.75"/><circle cx="2078.2" cy="573.1" r="1.75"/><circle cx="2081.1" cy="578.6" r="1.75"/><circle cx="2077.0" cy="576.3" r="1.75"/><circle cx="2079.5" cy="572.3" r="1.75"/><circle cx="2075.6" cy="570.5" r="1.75"/><circle cx="2080.5" cy="579.0" r="1.75"/><circle cx="2079.4" cy="571.9" r="1.75"/><circle cx="2076.0" cy="571.6" r="1.75"/><circle cx="2069.3" cy="584.1" r="1.75"/><circle cx="2081.8" cy="584.9" r="1.75"/><circle cx="2085.4" cy="567.3" r="1.75"/><circle cx="2080.8" cy="567.6" r="1.75"/><circle cx="2085.5" cy="570.0" r="1.75"/><circle cx="2098.7" cy="559.5" r="1.75"/><circle cx="2090.2" cy="563.8" r="1.75"/><circle cx="2096.7" cy="560.7" r="1.75"/><circle cx="2094.5" cy="562.5" r="1.75"/><circle cx="2092.7" cy="562.3" r="1.75"/><circle cx="2091.6" cy="564.7" r="1.75"/></g>
<path d="M1853.10 510.80 L1853.10 728.40 L2145.50 728.40" fill="none" stroke="#000" stroke-width="2.25" stroke-linejoin="miter" stroke-linecap="butt"/>
<path d="M1878.13 729.50 L1878.13 731.00 M1927.17 729.50 L1927.17 731.00 M1976.21 729.50 L1976.21 731.00 M2025.25 729.50 L2025.25 731.00 M2074.29 729.50 L2074.29 731.00 M2123.33 729.50 L2123.33 731.00 M1850.50 544.21 L1852.00 544.21 M1850.50 579.29 L1852.00 579.29 M1850.50 614.38 L1852.00 614.38 M1850.50 649.46 L1852.00 649.46 M1850.50 684.54 L1852.00 684.54 M1850.50 719.62 L1852.00 719.62" stroke="#000" stroke-width="1" fill="none"/>
<g><text x="1878.13" y="741.00" font-size="10.30" text-anchor="middle">−0.3</text><text x="1927.17" y="741.00" font-size="10.30" text-anchor="middle">−0.2</text><text x="1976.21" y="741.00" font-size="10.30" text-anchor="middle">−0.1</text><text x="2025.25" y="741.00" font-size="10.30" text-anchor="middle">0.0</text><text x="2074.29" y="741.00" font-size="10.30" text-anchor="middle">0.1</text><text x="2123.33" y="741.00" font-size="10.30" text-anchor="middle">0.2</text><text x="1848.30" y="548.26" font-size="11.10" text-anchor="end">0.2</text><text x="1848.30" y="583.34" font-size="11.10" text-anchor="end">0.1</text><text x="1848.30" y="618.42" font-size="11.10" text-anchor="end">0.0</text><text x="1848.30" y="653.50" font-size="11.10" text-anchor="end">−0.1</text><text x="1848.30" y="688.59" font-size="11.10" text-anchor="end">−0.2</text><text x="1848.30" y="723.67" font-size="11.10" text-anchor="end">−0.3</text></g>
<text x="2011.80" y="756.70" font-size="17.00" text-anchor="middle">female beta</text>
<text transform="translate(1824.66 620.80) rotate(-90)" x="0" y="0" font-size="17.00" text-anchor="middle">male beta</text>
<!-- c1 -->
<g transform="translate(76.40 906.60) scale(0.04158 0.04150) translate(-80.0 -100.0)"><g fill="none" stroke="#336fa0" stroke-width="58" stroke-linecap="round" stroke-linejoin="round">
<path d="M1120 1540 L1295 1540 L1288 1338 C1420 1350 1560 1280 1600 1110 C1700 1080 1765 990 1762 880 C1790 800 1765 740 1750 690 C1780 600 1720 520 1625 480 C1600 380 1500 300 1400 290 C1350 200 1250 150 1150 165 C1100 115 980 115 940 165 C880 120 720 130 640 225 C540 215 455 250 420 305 C300 315 200 400 190 525 C100 610 85 800 160 900 C230 1000 360 1035 505 1020 C560 1130 660 1200 800 1212 C980 1230 1085 1330 1120 1540 Z"/>
<path d="M375 522 C450 580 600 565 650 455 M650 350 L650 455 L780 492"/>
<path d="M178 572 C205 680 300 730 420 722 M372 740 L372 870"/>
<path d="M878 392 C980 412 1050 482 1060 572"/>
<path d="M1258 422 C1380 442 1470 532 1492 652"/>
<path d="M835 582 C855 722 962 800 1060 792 C1180 792 1282 722 1312 622 M1042 802 L1070 950"/>
<path d="M1072 352 C1062 252 1112 192 1162 172"/>
<path d="M712 712 C782 782 812 862 772 960"/>
<path d="M642 832 C562 872 522 962 532 1032"/>
<path d="M1032 1092 C1122 1150 1282 1132 1352 1022"/>
<path d="M1382 802 C1500 842 1582 932 1602 1082"/>
</g></g>
<g fill="#336fa0" stroke="#ffffff" stroke-width="0.45"><circle cx="71.4" cy="1103.1" r="1.75"/><circle cx="291.6" cy="939.0" r="1.75"/><circle cx="295.7" cy="935.7" r="1.75"/><circle cx="299.1" cy="933.5" r="1.75"/><circle cx="318.2" cy="918.5" r="1.75"/><circle cx="320.3" cy="917.4" r="1.75"/><circle cx="335.6" cy="906.9" r="1.75"/><circle cx="343.4" cy="900.8" r="1.75"/><circle cx="83.9" cy="1093.6" r="1.75"/><circle cx="85.9" cy="1092.1" r="1.75"/><circle cx="88.5" cy="1090.6" r="1.75"/><circle cx="90.8" cy="1089.2" r="1.75"/><circle cx="93.0" cy="1087.4" r="1.75"/><circle cx="95.3" cy="1086.1" r="1.75"/><circle cx="262.2" cy="961.2" r="1.75"/><circle cx="263.9" cy="960.0" r="1.75"/><circle cx="267.6" cy="956.9" r="1.75"/><circle cx="269.7" cy="955.4" r="1.75"/><circle cx="272.6" cy="953.0" r="1.75"/><circle cx="274.4" cy="951.6" r="1.75"/><circle cx="278.2" cy="948.6" r="1.75"/><circle cx="281.0" cy="946.4" r="1.75"/><circle cx="283.0" cy="945.2" r="1.75"/><circle cx="285.7" cy="942.7" r="1.75"/></g>
<path d="M58.00 890.30 L58.00 1113.30 L357.40 1113.30" fill="none" stroke="#000" stroke-width="2.25" stroke-linejoin="miter" stroke-linecap="butt"/>
<path d="M73.21 1114.40 L73.21 1115.90 M108.59 1114.40 L108.59 1115.90 M143.98 1114.40 L143.98 1115.90 M179.36 1114.40 L179.36 1115.90 M214.74 1114.40 L214.74 1115.90 M250.13 1114.40 L250.13 1115.90 M285.51 1114.40 L285.51 1115.90 M320.89 1114.40 L320.89 1115.90 M356.28 1114.40 L356.28 1115.90 M55.40 891.54 L56.90 891.54 M55.40 917.86 L56.90 917.86 M55.40 944.18 L56.90 944.18 M55.40 970.50 L56.90 970.50 M55.40 996.82 L56.90 996.82 M55.40 1023.14 L56.90 1023.14 M55.40 1049.46 L56.90 1049.46 M55.40 1075.78 L56.90 1075.78 M55.40 1102.10 L56.90 1102.10" stroke="#000" stroke-width="1" fill="none"/>
<g><text x="73.21" y="1127.40" font-size="11.60" text-anchor="middle">−0.06</text><text x="108.59" y="1127.40" font-size="11.60" text-anchor="middle">−0.04</text><text x="143.98" y="1127.40" font-size="11.60" text-anchor="middle">−0.02</text><text x="179.36" y="1127.40" font-size="11.60" text-anchor="middle">0.00</text><text x="214.74" y="1127.40" font-size="11.60" text-anchor="middle">0.02</text><text x="250.13" y="1127.40" font-size="11.60" text-anchor="middle">0.04</text><text x="285.51" y="1127.40" font-size="11.60" text-anchor="middle">0.06</text><text x="320.89" y="1127.40" font-size="11.60" text-anchor="middle">0.08</text><text x="356.28" y="1127.40" font-size="11.60" text-anchor="middle">0.10</text><text x="53.20" y="896.03" font-size="12.30" text-anchor="end">0.10</text><text x="53.20" y="922.35" font-size="12.30" text-anchor="end">0.08</text><text x="53.20" y="948.67" font-size="12.30" text-anchor="end">0.06</text><text x="53.20" y="974.99" font-size="12.30" text-anchor="end">0.04</text><text x="53.20" y="1001.31" font-size="12.30" text-anchor="end">0.02</text><text x="53.20" y="1027.63" font-size="12.30" text-anchor="end">0.00</text><text x="53.20" y="1053.95" font-size="12.30" text-anchor="end">−0.02</text><text x="53.20" y="1080.27" font-size="12.30" text-anchor="end">−0.04</text><text x="53.20" y="1106.59" font-size="12.30" text-anchor="end">−0.06</text></g>
<text x="206.90" y="1142.40" font-size="16.90" text-anchor="middle">plink beta</text>
<text transform="translate(22.22 986.30) rotate(-90)" x="0" y="0" font-size="16.90" text-anchor="middle">fastGWA beta</text>
<text x="81.81" y="1072.00" font-size="82">c</text>
<!-- c2 -->
<g transform="translate(416.80 899.60) scale(0.04964 0.04993) translate(-85.0 -60.0)"><g fill="none" stroke="#3d8a70" stroke-width="40" stroke-linecap="butt" stroke-linejoin="round">
<path d="M545 1040 C600 1200 800 1330 1000 1400 C1100 1425 1175 1390 1205 1300 C1250 1150 1250 950 1205 820 C1175 720 1130 685 1095 665"/>
<path d="M545 1045 C500 960 515 870 565 780 C590 700 585 600 590 480 C600 380 620 260 560 175 C500 110 420 95 345 95"/>
<path d="M315 205 C420 180 530 230 560 300"/>
<path d="M710 850 C660 700 695 460 765 355 C825 255 950 150 1140 90"/>
<path d="M735 850 C650 900 590 960 555 1030"/>
<path d="M745 480 L815 478 L775 400 C785 330 850 285 905 262 C955 250 990 300 1000 370 C1030 300 1100 205 1275 78"/>
<path d="M855 762 C820 700 830 622 882 592 C1000 545 1150 505 1250 472 C1350 432 1420 382 1470 362"/>
<path d="M972 872 C952 762 992 682 1082 652 C1152 622 1232 602 1302 622 C1402 662 1482 692 1552 722"/>
<path d="M1062 482 C1082 352 1152 232 1302 172"/>
<path d="M1200 300 L1255 442 L1405 242"/>
<path d="M1255 462 C1305 502 1405 522 1505 492"/>
<path d="M1405 662 L1602 620"/>
<path d="M1002 802 C1152 792 1352 802 1552 822"/>
<path d="M1302 822 L1302 992"/>
<path d="M1342 882 C1422 952 1462 1052 1472 1182"/>
<path d="M1472 1022 C1522 1052 1552 1102 1562 1152"/>
<path d="M1462 862 C1512 902 1542 952 1552 992"/>
<path d="M530 580 L190 500 M530 600 L150 650 M540 620 L250 752 M540 560 L250 352 M500 570 L330 312 M480 560 L442 330"/>
<path d="M545 792 L392 782 M530 800 C400 850 300 900 110 942 M230 942 L252 1112 M190 952 C150 1012 112 1072 92 1112"/>
<path d="M505 842 C452 1002 352 1152 150 1282 M270 1232 L270 1342 M400 1100 L452 1190"/>
<path d="M760 1322 L760 1582 M870 1362 L870 1582 M982 1402 L982 1592"/>
</g></g>
<g fill="#3d8a70" stroke="#ffffff" stroke-width="0.45"><circle cx="419.2" cy="1105.6" r="1.75"/><circle cx="427.2" cy="1099.6" r="1.75"/><circle cx="433.5" cy="1095.5" r="1.75"/><circle cx="437.7" cy="1093.0" r="1.75"/><circle cx="443.0" cy="1088.2" r="1.75"/><circle cx="446.3" cy="1086.0" r="1.75"/><circle cx="450.0" cy="1083.0" r="1.75"/><circle cx="603.8" cy="968.4" r="1.75"/><circle cx="640.7" cy="940.6" r="1.75"/><circle cx="687.2" cy="905.8" r="1.75"/><circle cx="691.4" cy="902.9" r="1.75"/><circle cx="454.8" cy="1078.2" r="1.75"/><circle cx="456.1" cy="1077.6" r="1.75"/><circle cx="458.3" cy="1075.7" r="1.75"/><circle cx="460.1" cy="1074.5" r="1.75"/><circle cx="462.4" cy="1073.4" r="1.75"/><circle cx="463.4" cy="1072.4" r="1.75"/><circle cx="465.4" cy="1071.2" r="1.75"/><circle cx="467.5" cy="1069.7" r="1.75"/><circle cx="469.7" cy="1068.2" r="1.75"/><circle cx="471.2" cy="1067.2" r="1.75"/><circle cx="472.7" cy="1066.2" r="1.75"/><circle cx="475.3" cy="1064.3" r="1.75"/><circle cx="477.1" cy="1062.9" r="1.75"/><circle cx="478.3" cy="1062.2" r="1.75"/><circle cx="479.9" cy="1061.1" r="1.75"/><circle cx="481.8" cy="1059.8" r="1.75"/><circle cx="484.5" cy="1057.6" r="1.75"/><circle cx="485.7" cy="1056.7" r="1.75"/><circle cx="563.3" cy="998.0" r="1.75"/><circle cx="564.6" cy="996.8" r="1.75"/><circle cx="566.9" cy="995.4" r="1.75"/><circle cx="568.6" cy="994.1" r="1.75"/><circle cx="570.3" cy="993.0" r="1.75"/><circle cx="572.0" cy="991.5" r="1.75"/><circle cx="573.4" cy="990.3" r="1.75"/><circle cx="574.9" cy="989.5" r="1.75"/><circle cx="577.1" cy="988.2" r="1.75"/><circle cx="578.6" cy="986.6" r="1.75"/><circle cx="580.0" cy="985.9" r="1.75"/><circle cx="582.1" cy="984.5" r="1.75"/><circle cx="583.3" cy="983.2" r="1.75"/><circle cx="585.3" cy="981.8" r="1.75"/><circle cx="587.0" cy="980.5" r="1.75"/><circle cx="588.0" cy="979.7" r="1.75"/><circle cx="590.1" cy="978.4" r="1.75"/><circle cx="591.6" cy="977.5" r="1.75"/><circle cx="593.0" cy="976.1" r="1.75"/><circle cx="594.7" cy="974.6" r="1.75"/><circle cx="597.0" cy="973.5" r="1.75"/><circle cx="598.8" cy="971.9" r="1.75"/><circle cx="610.3" cy="962.6" r="1.75"/><circle cx="613.0" cy="961.4" r="1.75"/><circle cx="615.6" cy="959.7" r="1.75"/><circle cx="618.2" cy="957.4" r="1.75"/><circle cx="626.0" cy="951.7" r="1.75"/><circle cx="628.1" cy="950.1" r="1.75"/><circle cx="630.4" cy="948.2" r="1.75"/><circle cx="632.3" cy="947.0" r="1.75"/></g>
<path d="M406.00 892.50 L406.00 1115.60 L705.80 1115.60" fill="none" stroke="#000" stroke-width="2.25" stroke-linejoin="miter" stroke-linecap="butt"/>
<path d="M421.94 1116.70 L421.94 1118.20 M455.98 1116.70 L455.98 1118.20 M490.02 1116.70 L490.02 1118.20 M524.07 1116.70 L524.07 1118.20 M558.11 1116.70 L558.11 1118.20 M592.15 1116.70 L592.15 1118.20 M626.20 1116.70 L626.20 1118.20 M660.24 1116.70 L660.24 1118.20 M694.28 1116.70 L694.28 1118.20 M403.40 901.06 L404.90 901.06 M403.40 926.48 L404.90 926.48 M403.40 951.89 L404.90 951.89 M403.40 977.30 L404.90 977.30 M403.40 1002.71 L404.90 1002.71 M403.40 1028.12 L404.90 1028.12 M403.40 1053.53 L404.90 1053.53 M403.40 1078.95 L404.90 1078.95 M403.40 1104.36 L404.90 1104.36" stroke="#000" stroke-width="1" fill="none"/>
<g><text x="421.94" y="1129.70" font-size="11.60" text-anchor="middle">−0.06</text><text x="455.98" y="1129.70" font-size="11.60" text-anchor="middle">−0.04</text><text x="490.02" y="1129.70" font-size="11.60" text-anchor="middle">−0.02</text><text x="524.07" y="1129.70" font-size="11.60" text-anchor="middle">0.00</text><text x="558.11" y="1129.70" font-size="11.60" text-anchor="middle">0.02</text><text x="592.15" y="1129.70" font-size="11.60" text-anchor="middle">0.04</text><text x="626.20" y="1129.70" font-size="11.60" text-anchor="middle">0.06</text><text x="660.24" y="1129.70" font-size="11.60" text-anchor="middle">0.08</text><text x="694.28" y="1129.70" font-size="11.60" text-anchor="middle">0.10</text><text x="401.20" y="905.55" font-size="12.30" text-anchor="end">0.10</text><text x="401.20" y="930.96" font-size="12.30" text-anchor="end">0.08</text><text x="401.20" y="956.37" font-size="12.30" text-anchor="end">0.06</text><text x="401.20" y="981.78" font-size="12.30" text-anchor="end">0.04</text><text x="401.20" y="1007.19" font-size="12.30" text-anchor="end">0.02</text><text x="401.20" y="1032.61" font-size="12.30" text-anchor="end">0.00</text><text x="401.20" y="1058.02" font-size="12.30" text-anchor="end">−0.02</text><text x="401.20" y="1083.43" font-size="12.30" text-anchor="end">−0.04</text><text x="401.20" y="1108.84" font-size="12.30" text-anchor="end">−0.06</text></g>
<text x="558.30" y="1145.90" font-size="16.90" text-anchor="middle">plink beta</text>
<text transform="translate(373.02 988.80) rotate(-90)" x="0" y="0" font-size="16.90" text-anchor="middle">fastGWA beta</text>
<!-- c3 -->
<g transform="translate(772.20 899.10) scale(0.16630 0.16831) translate(-455.0 -45.0)"><g fill="none" stroke="#e85a2b" stroke-width="22" stroke-linecap="butt" stroke-linejoin="miter">
<path d="M482 280 C580 150 650 138 727 138 C805 138 875 150 972 280 C875 410 805 422 727 422 C650 422 580 410 482 280 Z"/>
<circle cx="727" cy="280" r="126"/>
<path d="M468 155 L506 192 M586 75 L606 128 M727 45 L727 104 M868 75 L848 128 M986 155 L948 192"/>
</g>
<circle cx="727" cy="282" r="76" fill="#e85a2b"/>
<circle cx="674" cy="246" r="26" fill="#ffffff"/></g>
<g fill="#e85a2b" stroke="#ffffff" stroke-width="0.45"><circle cx="766.4" cy="1104.6" r="1.75"/><circle cx="778.6" cy="1095.7" r="1.75"/><circle cx="783.9" cy="1091.3" r="1.75"/><circle cx="787.2" cy="1089.7" r="1.75"/><circle cx="960.8" cy="960.1" r="1.75"/><circle cx="981.6" cy="944.8" r="1.75"/><circle cx="1010.3" cy="923.2" r="1.75"/><circle cx="1032.2" cy="906.6" r="1.75"/><circle cx="1038.9" cy="902.1" r="1.75"/><circle cx="790.9" cy="1087.3" r="1.75"/><circle cx="793.5" cy="1085.0" r="1.75"/><circle cx="796.0" cy="1083.1" r="1.75"/><circle cx="797.5" cy="1082.0" r="1.75"/><circle cx="800.1" cy="1080.1" r="1.75"/><circle cx="801.4" cy="1079.5" r="1.75"/><circle cx="803.9" cy="1077.6" r="1.75"/><circle cx="806.4" cy="1075.8" r="1.75"/><circle cx="808.1" cy="1074.5" r="1.75"/><circle cx="810.4" cy="1072.8" r="1.75"/><circle cx="812.2" cy="1070.9" r="1.75"/><circle cx="814.8" cy="1069.6" r="1.75"/><circle cx="897.4" cy="1007.3" r="1.75"/><circle cx="901.1" cy="1004.5" r="1.75"/><circle cx="904.5" cy="1002.7" r="1.75"/><circle cx="907.4" cy="999.4" r="1.75"/><circle cx="909.4" cy="998.3" r="1.75"/><circle cx="911.6" cy="996.6" r="1.75"/><circle cx="913.0" cy="996.1" r="1.75"/><circle cx="915.5" cy="994.0" r="1.75"/><circle cx="917.6" cy="992.2" r="1.75"/><circle cx="919.5" cy="991.4" r="1.75"/><circle cx="921.1" cy="989.9" r="1.75"/><circle cx="923.6" cy="988.0" r="1.75"/><circle cx="925.2" cy="987.1" r="1.75"/><circle cx="932.6" cy="981.4" r="1.75"/><circle cx="936.0" cy="978.9" r="1.75"/><circle cx="938.9" cy="976.8" r="1.75"/></g>
<path d="M753.50 891.30 L753.50 1114.60 L1053.00 1114.60" fill="none" stroke="#000" stroke-width="2.25" stroke-linejoin="miter" stroke-linecap="butt"/>
<path d="M754.19 1115.70 L754.19 1117.20 M805.35 1115.70 L805.35 1117.20 M856.52 1115.70 L856.52 1117.20 M907.68 1115.70 L907.68 1117.20 M958.85 1115.70 L958.85 1117.20 M1010.01 1115.70 L1010.01 1117.20 M750.90 924.19 L752.40 924.19 M750.90 962.05 L752.40 962.05 M750.90 999.92 L752.40 999.92 M750.90 1037.78 L752.40 1037.78 M750.90 1075.65 L752.40 1075.65 M750.90 1113.51 L752.40 1113.51" stroke="#000" stroke-width="1" fill="none"/>
<g><text x="754.19" y="1128.70" font-size="11.60" text-anchor="middle">−0.10</text><text x="805.35" y="1128.70" font-size="11.60" text-anchor="middle">−0.05</text><text x="856.52" y="1128.70" font-size="11.60" text-anchor="middle">0.00</text><text x="907.68" y="1128.70" font-size="11.60" text-anchor="middle">0.05</text><text x="958.85" y="1128.70" font-size="11.60" text-anchor="middle">0.10</text><text x="1010.01" y="1128.70" font-size="11.60" text-anchor="middle">0.15</text><text x="748.70" y="928.67" font-size="12.30" text-anchor="end">0.15</text><text x="748.70" y="966.53" font-size="12.30" text-anchor="end">0.10</text><text x="748.70" y="1004.40" font-size="12.30" text-anchor="end">0.05</text><text x="748.70" y="1042.27" font-size="12.30" text-anchor="end">0.00</text><text x="748.70" y="1080.13" font-size="12.30" text-anchor="end">−0.05</text><text x="748.70" y="1118.00" font-size="12.30" text-anchor="end">−0.10</text></g>
<text x="903.80" y="1142.40" font-size="16.90" text-anchor="middle">plink beta</text>
<text transform="translate(721.42 990.10) rotate(-90)" x="0" y="0" font-size="16.90" text-anchor="middle">fastGWA beta</text>
<!-- c4 -->
<g transform="translate(78.10 1144.10) scale(0.16795 0.16633) translate(-400.0 -125.0)"><g fill="none" stroke="#c8b634" stroke-width="15" stroke-linecap="round" stroke-linejoin="round">
<path d="M455 515 C430 520 410 500 405 460 C395 380 395 290 440 232 C490 182 600 167 700 165 C760 165 820 178 836 206 C820 235 790 262 758 292 C728 320 700 335 660 345 M604 392 C560 430 510 480 478 505 C470 512 462 515 455 515"/>
<path d="M418 452 C500 392 600 322 680 267 C722 240 752 202 770 170"/>
<path d="M636 262 C641 230 651 200 671 168"/>
<path d="M588 165 L588 135 L630 135 L630 165 M697 165 L697 135 L739 135 L739 165"/>
<circle cx="567" cy="404" r="36"/>
<path d="M603 400 C640 375 690 360 742 352 M694 337 L694 492 M660 337 L694 372"/>
</g></g>
<g fill="#c8b634" stroke="#ffffff" stroke-width="0.45"><circle cx="70.6" cy="1360.6" r="1.75"/><circle cx="173.1" cy="1284.2" r="1.75"/><circle cx="311.5" cy="1181.5" r="1.75"/><circle cx="329.8" cy="1167.1" r="1.75"/><circle cx="342.6" cy="1157.9" r="1.75"/><circle cx="183.5" cy="1275.8" r="1.75"/><circle cx="185.3" cy="1274.8" r="1.75"/><circle cx="188.4" cy="1272.6" r="1.75"/><circle cx="190.4" cy="1271.2" r="1.75"/><circle cx="192.8" cy="1269.2" r="1.75"/><circle cx="194.6" cy="1267.6" r="1.75"/><circle cx="195.9" cy="1266.7" r="1.75"/><circle cx="198.8" cy="1265.1" r="1.75"/><circle cx="200.7" cy="1263.7" r="1.75"/><circle cx="202.5" cy="1262.2" r="1.75"/><circle cx="205.2" cy="1259.9" r="1.75"/><circle cx="207.0" cy="1259.0" r="1.75"/><circle cx="209.4" cy="1257.2" r="1.75"/><circle cx="211.5" cy="1255.8" r="1.75"/><circle cx="213.8" cy="1254.0" r="1.75"/><circle cx="216.2" cy="1252.4" r="1.75"/><circle cx="218.1" cy="1251.1" r="1.75"/><circle cx="220.3" cy="1249.4" r="1.75"/><circle cx="222.3" cy="1247.9" r="1.75"/><circle cx="224.2" cy="1246.2" r="1.75"/><circle cx="226.8" cy="1244.7" r="1.75"/><circle cx="229.1" cy="1243.0" r="1.75"/><circle cx="231.0" cy="1241.6" r="1.75"/><circle cx="233.6" cy="1239.2" r="1.75"/><circle cx="234.9" cy="1238.4" r="1.75"/><circle cx="237.3" cy="1237.0" r="1.75"/><circle cx="239.9" cy="1235.0" r="1.75"/><circle cx="241.0" cy="1234.0" r="1.75"/><circle cx="244.0" cy="1232.2" r="1.75"/><circle cx="245.4" cy="1231.1" r="1.75"/><circle cx="269.5" cy="1212.7" r="1.75"/><circle cx="271.5" cy="1211.3" r="1.75"/><circle cx="273.8" cy="1209.2" r="1.75"/><circle cx="276.3" cy="1207.4" r="1.75"/><circle cx="278.5" cy="1205.8" r="1.75"/><circle cx="280.5" cy="1204.4" r="1.75"/><circle cx="281.7" cy="1203.1" r="1.75"/><circle cx="285.0" cy="1200.6" r="1.75"/><circle cx="286.7" cy="1199.7" r="1.75"/><circle cx="289.4" cy="1197.5" r="1.75"/><circle cx="290.9" cy="1196.7" r="1.75"/><circle cx="293.3" cy="1194.9" r="1.75"/><circle cx="295.1" cy="1193.5" r="1.75"/><circle cx="297.7" cy="1191.7" r="1.75"/><circle cx="299.8" cy="1189.8" r="1.75"/><circle cx="301.9" cy="1188.1" r="1.75"/><circle cx="304.5" cy="1186.1" r="1.75"/><circle cx="306.3" cy="1185.0" r="1.75"/></g>
<path d="M56.80 1147.50 L56.80 1370.60 L356.40 1370.60" fill="none" stroke="#000" stroke-width="2.25" stroke-linejoin="miter" stroke-linecap="butt"/>
<path d="M102.52 1371.70 L102.52 1373.20 M154.02 1371.70 L154.02 1373.20 M205.52 1371.70 L205.52 1373.20 M257.02 1371.70 L257.02 1373.20 M308.52 1371.70 L308.52 1373.20 M54.20 1183.00 L55.70 1183.00 M54.20 1221.34 L55.70 1221.34 M54.20 1259.68 L55.70 1259.68 M54.20 1298.02 L55.70 1298.02 M54.20 1336.36 L55.70 1336.36" stroke="#000" stroke-width="1" fill="none"/>
<g><text x="102.52" y="1384.70" font-size="11.60" text-anchor="middle">−0.3</text><text x="154.02" y="1384.70" font-size="11.60" text-anchor="middle">−0.2</text><text x="205.52" y="1384.70" font-size="11.60" text-anchor="middle">−0.1</text><text x="257.02" y="1384.70" font-size="11.60" text-anchor="middle">0.0</text><text x="308.52" y="1384.70" font-size="11.60" text-anchor="middle">0.1</text><text x="52.00" y="1187.48" font-size="12.30" text-anchor="end">0.1</text><text x="52.00" y="1225.82" font-size="12.30" text-anchor="end">0.0</text><text x="52.00" y="1264.16" font-size="12.30" text-anchor="end">−0.1</text><text x="52.00" y="1302.50" font-size="12.30" text-anchor="end">−0.2</text><text x="52.00" y="1340.84" font-size="12.30" text-anchor="end">−0.3</text></g>
<text x="205.40" y="1400.00" font-size="16.90" text-anchor="middle">plink beta</text>
<text transform="translate(20.92 1244.20) rotate(-90)" x="0" y="0" font-size="16.90" text-anchor="middle">fastGWA beta</text>
<!-- c5 -->
<g transform="translate(410.60 1149.10) scale(0.16370 0.16507) translate(-470.0 -120.0)"><g fill="none" stroke="#e39b3c" stroke-width="30" stroke-linecap="round"><circle cx="705" cy="350" r="104"/><path d="M705 250 L705 165 M755 263 L798 190 M792 300 L865 258 M805 350 L890 350 M792 400 L865 442 M755 437 L798 510 M705 450 L705 535 M655 437 L612 510 M618 400 L545 442 M605 350 L520 350 "/><circle cx="705" cy="165" r="17"/><circle cx="798" cy="190" r="17"/><circle cx="865" cy="258" r="17"/><circle cx="890" cy="350" r="17"/><circle cx="865" cy="442" r="17"/><circle cx="798" cy="510" r="17"/><circle cx="705" cy="535" r="17"/><circle cx="612" cy="510" r="17"/><circle cx="545" cy="442" r="17"/><circle cx="520" cy="350" r="17"/></g><g fill="none" stroke="#ffffff" stroke-width="14" stroke-linecap="round"><circle cx="705" cy="350" r="104"/><path d="M705 250 L705 165 M755 263 L798 190 M792 300 L865 258 M805 350 L890 350 M792 400 L865 442 M755 437 L798 510 M705 450 L705 535 M655 437 L612 510 M618 400 L545 442 M605 350 L520 350 "/><circle cx="705" cy="165" r="9"/><circle cx="798" cy="190" r="9"/><circle cx="865" cy="258" r="9"/><circle cx="890" cy="350" r="9"/><circle cx="865" cy="442" r="9"/><circle cx="798" cy="510" r="9"/><circle cx="705" cy="535" r="9"/><circle cx="612" cy="510" r="9"/><circle cx="545" cy="442" r="9"/><circle cx="520" cy="350" r="9"/></g><g fill="none" stroke="#e39b3c" stroke-width="24" stroke-linecap="butt"><path d="M640 275 L572 212 L572 122 M572 212 L478 226"/><path d="M600 128 L600 190 M495 250 L548 250"/></g></g>
<g fill="#e39b3c" stroke="#ffffff" stroke-width="0.45"><circle cx="421.4" cy="1361.8" r="1.75"/><circle cx="472.9" cy="1323.2" r="1.75"/><circle cx="477.1" cy="1319.7" r="1.75"/><circle cx="481.2" cy="1317.8" r="1.75"/><circle cx="489.5" cy="1311.1" r="1.75"/><circle cx="494.5" cy="1307.5" r="1.75"/><circle cx="619.1" cy="1214.7" r="1.75"/><circle cx="632.4" cy="1204.4" r="1.75"/><circle cx="634.9" cy="1203.1" r="1.75"/><circle cx="645.7" cy="1194.8" r="1.75"/><circle cx="658.2" cy="1185.3" r="1.75"/><circle cx="675.6" cy="1172.9" r="1.75"/><circle cx="679.8" cy="1169.9" r="1.75"/><circle cx="693.5" cy="1159.3" r="1.75"/><circle cx="499.9" cy="1303.1" r="1.75"/><circle cx="501.3" cy="1302.6" r="1.75"/><circle cx="504.1" cy="1300.2" r="1.75"/><circle cx="505.5" cy="1299.1" r="1.75"/><circle cx="507.8" cy="1297.2" r="1.75"/><circle cx="510.1" cy="1295.7" r="1.75"/><circle cx="512.8" cy="1294.2" r="1.75"/><circle cx="514.4" cy="1292.5" r="1.75"/><circle cx="516.5" cy="1290.9" r="1.75"/><circle cx="519.3" cy="1289.1" r="1.75"/><circle cx="520.8" cy="1287.9" r="1.75"/><circle cx="523.3" cy="1286.1" r="1.75"/><circle cx="525.9" cy="1284.5" r="1.75"/><circle cx="528.1" cy="1282.6" r="1.75"/><circle cx="562.9" cy="1255.5" r="1.75"/><circle cx="565.5" cy="1253.4" r="1.75"/><circle cx="567.6" cy="1251.7" r="1.75"/><circle cx="569.4" cy="1250.6" r="1.75"/><circle cx="571.6" cy="1249.1" r="1.75"/><circle cx="574.5" cy="1246.8" r="1.75"/><circle cx="576.0" cy="1246.0" r="1.75"/><circle cx="578.4" cy="1244.1" r="1.75"/><circle cx="581.2" cy="1241.8" r="1.75"/><circle cx="582.8" cy="1241.1" r="1.75"/><circle cx="585.2" cy="1239.1" r="1.75"/><circle cx="586.9" cy="1238.1" r="1.75"/><circle cx="589.8" cy="1235.6" r="1.75"/><circle cx="591.3" cy="1234.8" r="1.75"/><circle cx="594.3" cy="1232.9" r="1.75"/><circle cx="596.6" cy="1230.7" r="1.75"/><circle cx="599.0" cy="1229.2" r="1.75"/><circle cx="601.2" cy="1227.8" r="1.75"/><circle cx="603.6" cy="1225.8" r="1.75"/><circle cx="605.4" cy="1224.6" r="1.75"/><circle cx="607.7" cy="1222.9" r="1.75"/><circle cx="609.4" cy="1221.6" r="1.75"/></g>
<path d="M407.80 1148.30 L407.80 1371.30 L707.90 1371.30" fill="none" stroke="#000" stroke-width="2.25" stroke-linejoin="miter" stroke-linecap="butt"/>
<path d="M429.60 1372.40 L429.60 1373.90 M468.10 1372.40 L468.10 1373.90 M506.60 1372.40 L506.60 1373.90 M545.10 1372.40 L545.10 1373.90 M583.60 1372.40 L583.60 1373.90 M622.10 1372.40 L622.10 1373.90 M660.60 1372.40 L660.60 1373.90 M699.10 1372.40 L699.10 1373.90 M405.20 1154.64 L406.70 1154.64 M405.20 1183.42 L406.70 1183.42 M405.20 1212.19 L406.70 1212.19 M405.20 1240.96 L406.70 1240.96 M405.20 1269.74 L406.70 1269.74 M405.20 1298.51 L406.70 1298.51 M405.20 1327.28 L406.70 1327.28 M405.20 1356.06 L406.70 1356.06" stroke="#000" stroke-width="1" fill="none"/>
<g><text x="429.60" y="1385.40" font-size="11.60" text-anchor="middle">−0.15</text><text x="468.10" y="1385.40" font-size="11.60" text-anchor="middle">−0.10</text><text x="506.60" y="1385.40" font-size="11.60" text-anchor="middle">−0.05</text><text x="545.10" y="1385.40" font-size="11.60" text-anchor="middle">0.00</text><text x="583.60" y="1385.40" font-size="11.60" text-anchor="middle">0.05</text><text x="622.10" y="1385.40" font-size="11.60" text-anchor="middle">0.10</text><text x="660.60" y="1385.40" font-size="11.60" text-anchor="middle">0.15</text><text x="699.10" y="1385.40" font-size="11.60" text-anchor="middle">0.20</text><text x="403.00" y="1159.13" font-size="12.30" text-anchor="end">0.20</text><text x="403.00" y="1187.90" font-size="12.30" text-anchor="end">0.15</text><text x="403.00" y="1216.67" font-size="12.30" text-anchor="end">0.10</text><text x="403.00" y="1245.45" font-size="12.30" text-anchor="end">0.05</text><text x="403.00" y="1274.22" font-size="12.30" text-anchor="end">0.00</text><text x="403.00" y="1302.99" font-size="12.30" text-anchor="end">−0.05</text><text x="403.00" y="1331.77" font-size="12.30" text-anchor="end">−0.10</text><text x="403.00" y="1360.54" font-size="12.30" text-anchor="end">−0.15</text></g>
<text x="553.30" y="1400.00" font-size="16.90" text-anchor="middle">plink beta</text>
<text transform="translate(368.42 1243.80) rotate(-90)" x="0" y="0" font-size="16.90" text-anchor="middle">fastGWA beta</text>
<!-- c6 -->
<g transform="translate(771.70 1146.30) scale(0.16539 0.16682) translate(-420.0 -120.0)"><g fill="none" stroke="#561f50" stroke-width="14" stroke-linejoin="miter">
<path d="M432 355 A212 212 0 0 1 790 190 L808 140 L845 270 L720 238 L760 215 A172 172 0 0 0 472 355 Z"/>
<path d="M860 325 A212 212 0 0 1 502 510 L478 548 L448 420 L575 450 L535 480 A172 172 0 0 0 820 325 Z"/>
<circle cx="548" cy="256" r="15"/>
<circle cx="636" cy="236" r="25"/>
<path d="M552 345 A40 40 0 0 1 632 345 M618 345 A40 40 0 0 1 698 345"/>
<rect x="517" y="345" width="263" height="45" rx="22"/>
<rect x="602" y="408" width="112" height="45" rx="22"/>
</g>
<g fill="#561f50"><rect x="706" y="262" width="14" height="14"/><rect x="737" y="300" width="14" height="14"/><rect x="645" y="378" width="22" height="10"/><rect x="672" y="420" width="12" height="12"/></g></g>
<g fill="#561f50" stroke="#ffffff" stroke-width="0.45"><circle cx="767.8" cy="1359.6" r="1.75"/><circle cx="772.2" cy="1356.5" r="1.75"/><circle cx="778.1" cy="1352.6" r="1.75"/><circle cx="782.2" cy="1349.3" r="1.75"/><circle cx="786.0" cy="1346.8" r="1.75"/><circle cx="984.1" cy="1198.1" r="1.75"/><circle cx="988.2" cy="1195.6" r="1.75"/><circle cx="1003.2" cy="1184.0" r="1.75"/><circle cx="1005.7" cy="1182.4" r="1.75"/><circle cx="1017.3" cy="1174.0" r="1.75"/><circle cx="1031.4" cy="1163.6" r="1.75"/><circle cx="1040.2" cy="1156.9" r="1.75"/><circle cx="792.9" cy="1340.9" r="1.75"/><circle cx="795.5" cy="1339.1" r="1.75"/><circle cx="798.0" cy="1337.2" r="1.75"/><circle cx="800.3" cy="1335.7" r="1.75"/><circle cx="803.2" cy="1333.8" r="1.75"/><circle cx="805.5" cy="1331.9" r="1.75"/><circle cx="807.5" cy="1330.1" r="1.75"/><circle cx="809.8" cy="1328.7" r="1.75"/><circle cx="811.6" cy="1327.3" r="1.75"/><circle cx="814.6" cy="1325.2" r="1.75"/><circle cx="820.2" cy="1320.3" r="1.75"/><circle cx="822.0" cy="1319.0" r="1.75"/><circle cx="824.1" cy="1317.4" r="1.75"/><circle cx="827.2" cy="1315.2" r="1.75"/><circle cx="828.7" cy="1313.7" r="1.75"/><circle cx="831.6" cy="1311.6" r="1.75"/><circle cx="834.0" cy="1309.4" r="1.75"/><circle cx="836.4" cy="1307.6" r="1.75"/><circle cx="837.8" cy="1306.4" r="1.75"/><circle cx="839.6" cy="1305.2" r="1.75"/><circle cx="842.0" cy="1303.3" r="1.75"/><circle cx="843.5" cy="1302.0" r="1.75"/><circle cx="845.9" cy="1300.5" r="1.75"/><circle cx="847.1" cy="1299.4" r="1.75"/><circle cx="849.8" cy="1297.4" r="1.75"/><circle cx="851.5" cy="1296.3" r="1.75"/><circle cx="853.7" cy="1294.8" r="1.75"/><circle cx="855.5" cy="1293.6" r="1.75"/><circle cx="857.7" cy="1291.8" r="1.75"/><circle cx="859.8" cy="1290.8" r="1.75"/><circle cx="860.7" cy="1289.7" r="1.75"/><circle cx="863.2" cy="1288.5" r="1.75"/><circle cx="865.0" cy="1286.7" r="1.75"/><circle cx="867.4" cy="1285.0" r="1.75"/><circle cx="868.7" cy="1284.5" r="1.75"/><circle cx="871.1" cy="1282.9" r="1.75"/><circle cx="873.3" cy="1280.8" r="1.75"/><circle cx="875.0" cy="1280.1" r="1.75"/><circle cx="876.9" cy="1278.8" r="1.75"/><circle cx="879.0" cy="1277.1" r="1.75"/><circle cx="881.1" cy="1275.7" r="1.75"/><circle cx="882.4" cy="1274.7" r="1.75"/><circle cx="885.1" cy="1272.9" r="1.75"/><circle cx="887.0" cy="1271.2" r="1.75"/><circle cx="888.2" cy="1270.5" r="1.75"/><circle cx="890.6" cy="1268.7" r="1.75"/><circle cx="891.9" cy="1268.1" r="1.75"/><circle cx="894.3" cy="1266.1" r="1.75"/><circle cx="924.0" cy="1242.6" r="1.75"/><circle cx="925.7" cy="1241.9" r="1.75"/><circle cx="927.9" cy="1240.0" r="1.75"/><circle cx="929.4" cy="1239.1" r="1.75"/><circle cx="931.4" cy="1237.8" r="1.75"/><circle cx="933.9" cy="1235.6" r="1.75"/><circle cx="935.9" cy="1234.5" r="1.75"/><circle cx="937.6" cy="1233.1" r="1.75"/><circle cx="939.8" cy="1231.2" r="1.75"/><circle cx="942.0" cy="1229.9" r="1.75"/><circle cx="944.5" cy="1227.7" r="1.75"/><circle cx="946.5" cy="1226.7" r="1.75"/><circle cx="948.0" cy="1225.3" r="1.75"/><circle cx="950.5" cy="1223.7" r="1.75"/><circle cx="953.2" cy="1221.8" r="1.75"/><circle cx="954.7" cy="1220.7" r="1.75"/><circle cx="957.3" cy="1218.6" r="1.75"/><circle cx="959.5" cy="1216.6" r="1.75"/><circle cx="960.9" cy="1216.1" r="1.75"/><circle cx="963.4" cy="1214.4" r="1.75"/><circle cx="965.8" cy="1212.5" r="1.75"/><circle cx="967.3" cy="1211.2" r="1.75"/><circle cx="970.0" cy="1209.1" r="1.75"/><circle cx="971.3" cy="1208.0" r="1.75"/></g>
<path d="M754.50 1146.30 L754.50 1369.60 L1055.30 1369.60" fill="none" stroke="#000" stroke-width="2.25" stroke-linejoin="miter" stroke-linecap="butt"/>
<path d="M771.20 1370.70 L771.20 1372.20 M805.36 1370.70 L805.36 1372.20 M839.52 1370.70 L839.52 1372.20 M873.68 1370.70 L873.68 1372.20 M907.83 1370.70 L907.83 1372.20 M941.99 1370.70 L941.99 1372.20 M976.15 1370.70 L976.15 1372.20 M1010.31 1370.70 L1010.31 1372.20 M1044.47 1370.70 L1044.47 1372.20 M751.90 1154.29 L753.40 1154.29 M751.90 1179.40 L753.40 1179.40 M751.90 1204.51 L753.40 1204.51 M751.90 1229.62 L753.40 1229.62 M751.90 1254.73 L753.40 1254.73 M751.90 1279.85 L753.40 1279.85 M751.90 1304.96 L753.40 1304.96 M751.90 1330.07 L753.40 1330.07 M751.90 1355.18 L753.40 1355.18" stroke="#000" stroke-width="1" fill="none"/>
<g><text x="771.20" y="1383.70" font-size="11.60" text-anchor="middle">−0.20</text><text x="805.36" y="1383.70" font-size="11.60" text-anchor="middle">−0.15</text><text x="839.52" y="1383.70" font-size="11.60" text-anchor="middle">−0.10</text><text x="873.68" y="1383.70" font-size="11.60" text-anchor="middle">−0.05</text><text x="907.83" y="1383.70" font-size="11.60" text-anchor="middle">0.00</text><text x="941.99" y="1383.70" font-size="11.60" text-anchor="middle">0.05</text><text x="976.15" y="1383.70" font-size="11.60" text-anchor="middle">0.10</text><text x="1010.31" y="1383.70" font-size="11.60" text-anchor="middle">0.15</text><text x="1044.47" y="1383.70" font-size="11.60" text-anchor="middle">0.20</text><text x="749.70" y="1158.77" font-size="12.30" text-anchor="end">0.20</text><text x="749.70" y="1183.88" font-size="12.30" text-anchor="end">0.15</text><text x="749.70" y="1208.99" font-size="12.30" text-anchor="end">0.10</text><text x="749.70" y="1234.11" font-size="12.30" text-anchor="end">0.05</text><text x="749.70" y="1259.22" font-size="12.30" text-anchor="end">0.00</text><text x="749.70" y="1284.33" font-size="12.30" text-anchor="end">−0.05</text><text x="749.70" y="1309.44" font-size="12.30" text-anchor="end">−0.10</text><text x="749.70" y="1334.55" font-size="12.30" text-anchor="end">−0.15</text><text x="749.70" y="1359.66" font-size="12.30" text-anchor="end">−0.20</text></g>
<text x="898.80" y="1400.00" font-size="16.90" text-anchor="middle">plink beta</text>
<text transform="translate(714.22 1242.10) rotate(-90)" x="0" y="0" font-size="16.90" text-anchor="middle">fastGWA beta</text>
<!-- c7 -->
<g transform="translate(83.00 1400.00) scale(0.16637 0.16615) translate(-385.0 -205.0)"><g fill="none" stroke="#93b6b9" stroke-width="16" stroke-linecap="round" stroke-linejoin="round">
<path d="M392 630 L445 265 L525 212 C585 228 625 245 638 270 C640 295 625 300 615 305 C628 318 625 330 600 345 L570 350 L522 338 L518 548 C560 505 620 485 680 482 C720 452 780 440 832 446 L835 580 C750 628 650 658 560 656 C480 655 420 645 392 630 Z"/>
<path d="M548 285 C568 300 598 305 628 295"/>
<path d="M588 402 L624 440 M650 362 L663 415 M725 358 L706 405"/>
<path d="M550 560 C592 522 640 510 662 516 M710 492 C760 470 800 474 830 480 M450 468 L425 600"/>
</g></g>
<g fill="#93b6b9" stroke="#ffffff" stroke-width="0.45"><circle cx="70.6" cy="1620.1" r="1.75"/><circle cx="190.7" cy="1530.9" r="1.75"/><circle cx="342.6" cy="1417.4" r="1.75"/><circle cx="199.6" cy="1524.4" r="1.75"/><circle cx="202.5" cy="1521.9" r="1.75"/><circle cx="206.0" cy="1519.2" r="1.75"/><circle cx="208.5" cy="1517.3" r="1.75"/><circle cx="211.1" cy="1515.8" r="1.75"/><circle cx="213.2" cy="1514.1" r="1.75"/><circle cx="215.5" cy="1512.0" r="1.75"/><circle cx="218.7" cy="1509.8" r="1.75"/><circle cx="221.6" cy="1507.5" r="1.75"/><circle cx="225.6" cy="1504.8" r="1.75"/><circle cx="228.0" cy="1503.1" r="1.75"/><circle cx="230.0" cy="1502.0" r="1.75"/><circle cx="232.6" cy="1499.8" r="1.75"/><circle cx="234.9" cy="1498.0" r="1.75"/><circle cx="237.1" cy="1496.1" r="1.75"/><circle cx="238.8" cy="1495.2" r="1.75"/><circle cx="245.9" cy="1490.7" r="1.75"/><circle cx="247.8" cy="1488.9" r="1.75"/><circle cx="251.2" cy="1486.7" r="1.75"/><circle cx="252.9" cy="1485.5" r="1.75"/><circle cx="255.9" cy="1483.0" r="1.75"/><circle cx="258.0" cy="1481.7" r="1.75"/><circle cx="261.5" cy="1479.0" r="1.75"/><circle cx="263.0" cy="1478.1" r="1.75"/><circle cx="266.1" cy="1475.8" r="1.75"/><circle cx="268.2" cy="1474.4" r="1.75"/><circle cx="270.5" cy="1472.7" r="1.75"/><circle cx="310.4" cy="1442.2" r="1.75"/><circle cx="312.5" cy="1440.1" r="1.75"/><circle cx="315.3" cy="1437.8" r="1.75"/><circle cx="317.9" cy="1435.8" r="1.75"/><circle cx="320.7" cy="1433.5" r="1.75"/><circle cx="323.4" cy="1431.7" r="1.75"/><circle cx="325.1" cy="1430.4" r="1.75"/><circle cx="328.6" cy="1427.8" r="1.75"/><circle cx="330.4" cy="1426.2" r="1.75"/><circle cx="332.6" cy="1424.5" r="1.75"/></g>
<path d="M57.00 1406.60 L57.00 1630.10 L356.40 1630.10" fill="none" stroke="#000" stroke-width="2.25" stroke-linejoin="miter" stroke-linecap="butt"/>
<path d="M69.52 1631.20 L69.52 1632.70 M113.73 1631.20 L113.73 1632.70 M157.94 1631.20 L157.94 1632.70 M202.14 1631.20 L202.14 1632.70 M246.35 1631.20 L246.35 1632.70 M290.56 1631.20 L290.56 1632.70 M334.76 1631.20 L334.76 1632.70 M54.40 1424.49 L55.90 1424.49 M54.40 1456.83 L55.90 1456.83 M54.40 1489.16 L55.90 1489.16 M54.40 1521.50 L55.90 1521.50 M54.40 1553.84 L55.90 1553.84 M54.40 1586.17 L55.90 1586.17 M54.40 1618.51 L55.90 1618.51" stroke="#000" stroke-width="1" fill="none"/>
<g><text x="69.52" y="1644.20" font-size="11.60" text-anchor="middle">−0.25</text><text x="113.73" y="1644.20" font-size="11.60" text-anchor="middle">−0.20</text><text x="157.94" y="1644.20" font-size="11.60" text-anchor="middle">−0.15</text><text x="202.14" y="1644.20" font-size="11.60" text-anchor="middle">−0.10</text><text x="246.35" y="1644.20" font-size="11.60" text-anchor="middle">−0.05</text><text x="290.56" y="1644.20" font-size="11.60" text-anchor="middle">0.00</text><text x="334.76" y="1644.20" font-size="11.60" text-anchor="middle">0.05</text><text x="52.20" y="1428.98" font-size="12.30" text-anchor="end">0.05</text><text x="52.20" y="1461.31" font-size="12.30" text-anchor="end">0.00</text><text x="52.20" y="1493.65" font-size="12.30" text-anchor="end">−0.05</text><text x="52.20" y="1525.98" font-size="12.30" text-anchor="end">−0.10</text><text x="52.20" y="1558.32" font-size="12.30" text-anchor="end">−0.15</text><text x="52.20" y="1590.65" font-size="12.30" text-anchor="end">−0.20</text><text x="52.20" y="1622.99" font-size="12.30" text-anchor="end">−0.25</text></g>
<text x="198.40" y="1659.80" font-size="16.90" text-anchor="middle">plink beta</text>
<text transform="translate(14.32 1504.20) rotate(-90)" x="0" y="0" font-size="16.90" text-anchor="middle">fastGWA beta</text>
<!-- c8 -->
<g transform="translate(416.80 1413.30) scale(0.16652 0.16636) translate(-500.0 -185.0)"><g fill="none" stroke="#5e9a58" stroke-width="12" stroke-linecap="round" stroke-linejoin="round">
<path d="M562 618 C518 618 505 600 505 548 C500 420 515 300 562 230 C582 200 608 188 628 190 C655 195 666 258 668 305 L672 522 C674 585 640 612 562 618 Z M662 322 C612 382 602 452 600 520 L556 596 M600 430 L546 476 M600 482 L650 530 M578 560 L602 592 M612 398 C630 410 645 440 652 462 M622 335 L558 335 M600 316 L576 272"/>
<path transform="translate(1444 0) scale(-1 1)" d="M562 618 C518 618 505 600 505 548 C500 420 515 300 562 230 C582 200 608 188 628 190 C655 195 666 258 668 305 L672 522 C674 585 640 612 562 618 Z M662 322 C612 382 602 452 600 520 L556 596 M600 430 L546 476 M600 482 L650 530 M578 560 L602 592 M612 398 C630 410 645 440 652 462 M622 335 L558 335 M600 316 L576 272"/>
<path d="M702 285 L702 213 L742 213 L742 285 M668 292 L702 285 M742 285 L776 292 M662 322 C690 300 705 296 722 296 C740 296 756 300 782 322"/>
</g></g>
<g fill="#5e9a58" stroke="#ffffff" stroke-width="0.45"><circle cx="420.2" cy="1621.3" r="1.75"/><circle cx="435.5" cy="1610.3" r="1.75"/><circle cx="451.6" cy="1598.0" r="1.75"/><circle cx="482.9" cy="1574.9" r="1.75"/><circle cx="484.5" cy="1574.1" r="1.75"/><circle cx="487.9" cy="1571.1" r="1.75"/><circle cx="691.9" cy="1418.6" r="1.75"/><circle cx="457.5" cy="1593.1" r="1.75"/><circle cx="460.8" cy="1590.8" r="1.75"/><circle cx="463.4" cy="1589.2" r="1.75"/><circle cx="467.0" cy="1586.6" r="1.75"/><circle cx="469.6" cy="1584.7" r="1.75"/><circle cx="471.9" cy="1583.1" r="1.75"/><circle cx="474.9" cy="1580.9" r="1.75"/><circle cx="477.9" cy="1579.3" r="1.75"/><circle cx="497.7" cy="1564.3" r="1.75"/><circle cx="500.5" cy="1562.3" r="1.75"/><circle cx="502.3" cy="1560.6" r="1.75"/><circle cx="505.2" cy="1559.0" r="1.75"/><circle cx="507.4" cy="1557.2" r="1.75"/><circle cx="510.2" cy="1554.9" r="1.75"/><circle cx="512.7" cy="1553.5" r="1.75"/><circle cx="515.1" cy="1551.6" r="1.75"/><circle cx="518.7" cy="1549.1" r="1.75"/><circle cx="520.8" cy="1547.8" r="1.75"/><circle cx="523.6" cy="1545.3" r="1.75"/><circle cx="525.6" cy="1544.2" r="1.75"/><circle cx="586.4" cy="1497.3" r="1.75"/><circle cx="589.2" cy="1495.3" r="1.75"/><circle cx="591.0" cy="1493.8" r="1.75"/><circle cx="592.8" cy="1492.6" r="1.75"/><circle cx="595.7" cy="1490.6" r="1.75"/><circle cx="597.3" cy="1489.2" r="1.75"/><circle cx="599.6" cy="1487.8" r="1.75"/><circle cx="602.1" cy="1485.6" r="1.75"/><circle cx="604.8" cy="1483.7" r="1.75"/><circle cx="606.0" cy="1482.9" r="1.75"/><circle cx="608.3" cy="1481.0" r="1.75"/><circle cx="611.1" cy="1479.1" r="1.75"/><circle cx="613.8" cy="1477.0" r="1.75"/><circle cx="615.5" cy="1475.4" r="1.75"/><circle cx="617.5" cy="1474.3" r="1.75"/><circle cx="619.8" cy="1472.6" r="1.75"/><circle cx="622.0" cy="1470.5" r="1.75"/><circle cx="624.4" cy="1469.2" r="1.75"/><circle cx="627.1" cy="1467.0" r="1.75"/><circle cx="628.4" cy="1466.2" r="1.75"/><circle cx="630.9" cy="1463.9" r="1.75"/><circle cx="633.0" cy="1462.3" r="1.75"/><circle cx="645.1" cy="1453.6" r="1.75"/><circle cx="648.5" cy="1451.4" r="1.75"/><circle cx="651.8" cy="1448.6" r="1.75"/><circle cx="655.1" cy="1446.0" r="1.75"/><circle cx="657.4" cy="1444.8" r="1.75"/></g>
<path d="M407.00 1408.00 L407.00 1630.60 L706.90 1630.60" fill="none" stroke="#000" stroke-width="2.25" stroke-linejoin="miter" stroke-linecap="butt"/>
<path d="M423.12 1631.70 L423.12 1633.20 M489.47 1631.70 L489.47 1633.20 M555.82 1631.70 L555.82 1633.20 M622.17 1631.70 L622.17 1633.20 M688.52 1631.70 L688.52 1633.20 M404.40 1421.26 L405.90 1421.26 M404.40 1470.84 L405.90 1470.84 M404.40 1520.42 L405.90 1520.42 M404.40 1570.00 L405.90 1570.00 M404.40 1619.58 L405.90 1619.58" stroke="#000" stroke-width="1" fill="none"/>
<g><text x="423.12" y="1644.70" font-size="11.60" text-anchor="middle">−0.10</text><text x="489.47" y="1644.70" font-size="11.60" text-anchor="middle">−0.05</text><text x="555.82" y="1644.70" font-size="11.60" text-anchor="middle">0.00</text><text x="622.17" y="1644.70" font-size="11.60" text-anchor="middle">0.05</text><text x="688.52" y="1644.70" font-size="11.60" text-anchor="middle">0.10</text><text x="402.20" y="1425.74" font-size="12.30" text-anchor="end">0.10</text><text x="402.20" y="1475.32" font-size="12.30" text-anchor="end">0.05</text><text x="402.20" y="1524.90" font-size="12.30" text-anchor="end">0.00</text><text x="402.20" y="1574.48" font-size="12.30" text-anchor="end">−0.05</text><text x="402.20" y="1624.06" font-size="12.30" text-anchor="end">−0.10</text></g>
<text x="554.80" y="1660.00" font-size="16.90" text-anchor="middle">plink beta</text>
<text transform="translate(370.12 1505.10) rotate(-90)" x="0" y="0" font-size="16.90" text-anchor="middle">fastGWA beta</text>
<!-- c9 -->
<g transform="translate(767.30 1410.00) scale(0.16598 0.16600) translate(-415.0 -185.0)"><g fill="none" stroke="#cfaebe" stroke-width="8" stroke-linecap="round" stroke-linejoin="round">
<path d="M562 252 C562 205 535 188 505 188 C452 190 418 240 418 302 C418 382 462 432 512 436 C542 436 562 420 562 392 M470 232 C440 272 436 332 466 388 M520 288 C585 292 612 332 616 392 L616 492 M528 330 C572 334 598 360 600 398 L600 492 M540 300 L470 300 M525 278 L492 258 M535 318 L498 345"/>
<path transform="translate(1264 0) scale(-1 1)" d="M562 252 C562 205 535 188 505 188 C452 190 418 240 418 302 C418 382 462 432 512 436 C542 436 562 420 562 392 M470 232 C440 272 436 332 466 388 M520 288 C585 292 612 332 616 392 L616 492 M528 330 C572 334 598 360 600 398 L600 492 M540 300 L470 300 M525 278 L492 258 M535 318 L498 345"/>
<path d="M600 494 C562 500 542 520 542 550 C542 590 582 605 632 605 C682 605 720 590 720 550 C720 520 702 500 664 494 M622 605 L622 635 M642 605 L642 635"/>
</g></g>
<g fill="#cfaebe" stroke="#ffffff" stroke-width="0.45"><circle cx="791.7" cy="1603.5" r="1.75"/><circle cx="823.7" cy="1580.2" r="1.75"/><circle cx="1017.3" cy="1435.7" r="1.75"/><circle cx="1026.4" cy="1428.7" r="1.75"/><circle cx="1039.7" cy="1418.8" r="1.75"/><circle cx="766.4" cy="1621.6" r="1.75"/><circle cx="770.1" cy="1619.2" r="1.75"/><circle cx="774.2" cy="1616.9" r="1.75"/><circle cx="778.6" cy="1614.0" r="1.75"/><circle cx="782.0" cy="1611.7" r="1.75"/><circle cx="784.0" cy="1610.7" r="1.75"/><circle cx="802.0" cy="1596.7" r="1.75"/><circle cx="804.2" cy="1594.9" r="1.75"/><circle cx="807.6" cy="1592.2" r="1.75"/><circle cx="812.5" cy="1588.3" r="1.75"/><circle cx="814.1" cy="1586.9" r="1.75"/><circle cx="816.6" cy="1585.2" r="1.75"/><circle cx="818.8" cy="1583.4" r="1.75"/><circle cx="828.6" cy="1576.3" r="1.75"/><circle cx="831.7" cy="1573.6" r="1.75"/><circle cx="835.0" cy="1571.3" r="1.75"/><circle cx="838.4" cy="1569.0" r="1.75"/><circle cx="845.4" cy="1563.8" r="1.75"/><circle cx="847.2" cy="1562.0" r="1.75"/><circle cx="849.0" cy="1561.3" r="1.75"/><circle cx="850.8" cy="1559.4" r="1.75"/><circle cx="853.1" cy="1558.1" r="1.75"/><circle cx="854.3" cy="1557.4" r="1.75"/><circle cx="856.0" cy="1556.0" r="1.75"/><circle cx="857.9" cy="1554.3" r="1.75"/><circle cx="859.7" cy="1553.3" r="1.75"/><circle cx="862.1" cy="1551.4" r="1.75"/><circle cx="864.1" cy="1550.0" r="1.75"/><circle cx="865.4" cy="1549.1" r="1.75"/><circle cx="867.3" cy="1547.8" r="1.75"/><circle cx="869.5" cy="1546.3" r="1.75"/><circle cx="870.4" cy="1545.6" r="1.75"/><circle cx="872.4" cy="1544.1" r="1.75"/><circle cx="874.1" cy="1542.5" r="1.75"/><circle cx="876.3" cy="1540.9" r="1.75"/><circle cx="878.4" cy="1539.7" r="1.75"/><circle cx="880.2" cy="1538.6" r="1.75"/><circle cx="881.4" cy="1537.4" r="1.75"/><circle cx="883.3" cy="1535.9" r="1.75"/><circle cx="885.4" cy="1534.6" r="1.75"/><circle cx="887.6" cy="1532.9" r="1.75"/><circle cx="889.5" cy="1531.5" r="1.75"/><circle cx="890.8" cy="1530.5" r="1.75"/><circle cx="893.3" cy="1528.9" r="1.75"/><circle cx="894.7" cy="1527.7" r="1.75"/><circle cx="896.4" cy="1526.3" r="1.75"/><circle cx="898.4" cy="1524.7" r="1.75"/><circle cx="900.6" cy="1523.2" r="1.75"/><circle cx="901.7" cy="1522.9" r="1.75"/><circle cx="903.4" cy="1521.4" r="1.75"/><circle cx="905.4" cy="1519.8" r="1.75"/><circle cx="907.2" cy="1518.5" r="1.75"/><circle cx="909.2" cy="1517.4" r="1.75"/><circle cx="931.5" cy="1500.2" r="1.75"/><circle cx="932.9" cy="1498.9" r="1.75"/><circle cx="935.1" cy="1497.2" r="1.75"/><circle cx="938.0" cy="1495.0" r="1.75"/><circle cx="940.2" cy="1493.4" r="1.75"/><circle cx="941.4" cy="1492.4" r="1.75"/><circle cx="944.2" cy="1490.4" r="1.75"/><circle cx="946.2" cy="1488.7" r="1.75"/><circle cx="948.3" cy="1487.3" r="1.75"/><circle cx="950.4" cy="1485.8" r="1.75"/><circle cx="953.3" cy="1483.5" r="1.75"/><circle cx="955.3" cy="1482.0" r="1.75"/><circle cx="957.9" cy="1480.0" r="1.75"/><circle cx="960.3" cy="1478.4" r="1.75"/><circle cx="962.2" cy="1476.3" r="1.75"/><circle cx="964.0" cy="1475.0" r="1.75"/><circle cx="966.6" cy="1473.0" r="1.75"/><circle cx="969.0" cy="1471.6" r="1.75"/><circle cx="971.3" cy="1469.4" r="1.75"/><circle cx="973.3" cy="1468.4" r="1.75"/><circle cx="979.3" cy="1464.2" r="1.75"/><circle cx="981.0" cy="1463.2" r="1.75"/><circle cx="984.5" cy="1460.4" r="1.75"/><circle cx="987.3" cy="1458.6" r="1.75"/><circle cx="989.0" cy="1457.0" r="1.75"/><circle cx="992.2" cy="1454.3" r="1.75"/><circle cx="994.6" cy="1453.1" r="1.75"/><circle cx="996.9" cy="1451.2" r="1.75"/><circle cx="1000.1" cy="1449.0" r="1.75"/></g>
<path d="M754.50 1408.00 L754.50 1630.60 L1054.30 1630.60" fill="none" stroke="#000" stroke-width="2.25" stroke-linejoin="miter" stroke-linecap="butt"/>
<path d="M767.72 1631.70 L767.72 1633.20 M818.32 1631.70 L818.32 1633.20 M868.93 1631.70 L868.93 1633.20 M919.54 1631.70 L919.54 1633.20 M970.14 1631.70 L970.14 1633.20 M1020.75 1631.70 L1020.75 1633.20 M751.90 1434.67 L753.40 1434.67 M751.90 1471.48 L753.40 1471.48 M751.90 1508.29 L753.40 1508.29 M751.90 1545.11 L753.40 1545.11 M751.90 1581.92 L753.40 1581.92 M751.90 1618.73 L753.40 1618.73" stroke="#000" stroke-width="1" fill="none"/>
<g><text x="767.72" y="1644.70" font-size="11.60" text-anchor="middle">−0.3</text><text x="818.32" y="1644.70" font-size="11.60" text-anchor="middle">−0.2</text><text x="868.93" y="1644.70" font-size="11.60" text-anchor="middle">−0.1</text><text x="919.54" y="1644.70" font-size="11.60" text-anchor="middle">0.0</text><text x="970.14" y="1644.70" font-size="11.60" text-anchor="middle">0.1</text><text x="1020.75" y="1644.70" font-size="11.60" text-anchor="middle">0.2</text><text x="749.70" y="1439.15" font-size="12.30" text-anchor="end">0.2</text><text x="749.70" y="1475.97" font-size="12.30" text-anchor="end">0.1</text><text x="749.70" y="1512.78" font-size="12.30" text-anchor="end">0.0</text><text x="749.70" y="1549.59" font-size="12.30" text-anchor="end">−0.1</text><text x="749.70" y="1586.40" font-size="12.30" text-anchor="end">−0.2</text><text x="749.70" y="1623.21" font-size="12.30" text-anchor="end">−0.3</text></g>
<text x="906.30" y="1660.00" font-size="16.90" text-anchor="middle">plink beta</text>
<text transform="translate(720.92 1505.10) rotate(-90)" x="0" y="0" font-size="16.90" text-anchor="middle">fastGWA beta</text>
<!-- d1 -->
<g transform="translate(1182.20 916.60) scale(0.04181 0.04156) translate(-80.0 -100.0)"><g fill="none" stroke="#336fa0" stroke-width="58" stroke-linecap="round" stroke-linejoin="round">
<path d="M1120 1540 L1295 1540 L1288 1338 C1420 1350 1560 1280 1600 1110 C1700 1080 1765 990 1762 880 C1790 800 1765 740 1750 690 C1780 600 1720 520 1625 480 C1600 380 1500 300 1400 290 C1350 200 1250 150 1150 165 C1100 115 980 115 940 165 C880 120 720 130 640 225 C540 215 455 250 420 305 C300 315 200 400 190 525 C100 610 85 800 160 900 C230 1000 360 1035 505 1020 C560 1130 660 1200 800 1212 C980 1230 1085 1330 1120 1540 Z"/>
<path d="M375 522 C450 580 600 565 650 455 M650 350 L650 455 L780 492"/>
<path d="M178 572 C205 680 300 730 420 722 M372 740 L372 870"/>
<path d="M878 392 C980 412 1050 482 1060 572"/>
<path d="M1258 422 C1380 442 1470 532 1492 652"/>
<path d="M835 582 C855 722 962 800 1060 792 C1180 792 1282 722 1312 622 M1042 802 L1070 950"/>
<path d="M1072 352 C1062 252 1112 192 1162 172"/>
<path d="M712 712 C782 782 812 862 772 960"/>
<path d="M642 832 C562 872 522 962 532 1032"/>
<path d="M1032 1092 C1122 1150 1282 1132 1352 1022"/>
<path d="M1382 802 C1500 842 1582 932 1602 1082"/>
</g></g>
<g fill="#336fa0" stroke="#ffffff" stroke-width="0.45"><circle cx="1184.4" cy="1105.1" r="1.75"/><circle cx="1198.4" cy="1054.4" r="1.75"/><circle cx="1200.8" cy="1039.2" r="1.75"/><circle cx="1203.0" cy="1044.8" r="1.75"/><circle cx="1207.2" cy="1048.3" r="1.75"/><circle cx="1373.3" cy="949.4" r="1.75"/><circle cx="1389.9" cy="954.3" r="1.75"/><circle cx="1402.7" cy="952.8" r="1.75"/><circle cx="1393.6" cy="962.2" r="1.75"/><circle cx="1392.4" cy="968.1" r="1.75"/><circle cx="1408.2" cy="935.3" r="1.75"/><circle cx="1431.9" cy="934.8" r="1.75"/><circle cx="1429.3" cy="955.1" r="1.75"/><circle cx="1429.3" cy="963.4" r="1.75"/><circle cx="1445.6" cy="963.1" r="1.75"/><circle cx="1408.2" cy="968.4" r="1.75"/><circle cx="1410.4" cy="967.6" r="1.75"/><circle cx="1378.0" cy="980.5" r="1.75"/><circle cx="1385.8" cy="987.2" r="1.75"/><circle cx="1388.8" cy="984.3" r="1.75"/><circle cx="1396.6" cy="986.8" r="1.75"/><circle cx="1373.3" cy="996.8" r="1.75"/><circle cx="1376.1" cy="999.3" r="1.75"/><circle cx="1388.6" cy="997.1" r="1.75"/><circle cx="1389.4" cy="1000.0" r="1.75"/><circle cx="1430.3" cy="904.1" r="1.75"/><circle cx="1454.2" cy="908.2" r="1.75"/></g>
<path d="M1171.10 893.30 L1171.10 1115.10 L1468.30 1115.10" fill="none" stroke="#000" stroke-width="2.25" stroke-linejoin="miter" stroke-linecap="butt"/>
<path d="M1186.60 1116.20 L1186.60 1117.70 M1221.56 1116.20 L1221.56 1117.70 M1256.51 1116.20 L1256.51 1117.70 M1291.47 1116.20 L1291.47 1117.70 M1326.42 1116.20 L1326.42 1117.70 M1361.38 1116.20 L1361.38 1117.70 M1396.33 1116.20 L1396.33 1117.70 M1431.29 1116.20 L1431.29 1117.70 M1466.24 1116.20 L1466.24 1117.70 M1168.50 901.08 L1170.00 901.08 M1168.50 927.42 L1170.00 927.42 M1168.50 953.75 L1170.00 953.75 M1168.50 980.09 L1170.00 980.09 M1168.50 1006.42 L1170.00 1006.42 M1168.50 1032.76 L1170.00 1032.76 M1168.50 1059.09 L1170.00 1059.09 M1168.50 1085.43 L1170.00 1085.43 M1168.50 1111.76 L1170.00 1111.76" stroke="#000" stroke-width="1" fill="none"/>
<g><text x="1186.60" y="1128.10" font-size="10.80" text-anchor="middle">−0.06</text><text x="1221.56" y="1128.10" font-size="10.80" text-anchor="middle">−0.04</text><text x="1256.51" y="1128.10" font-size="10.80" text-anchor="middle">−0.02</text><text x="1291.47" y="1128.10" font-size="10.80" text-anchor="middle">0.00</text><text x="1326.42" y="1128.10" font-size="10.80" text-anchor="middle">0.02</text><text x="1361.38" y="1128.10" font-size="10.80" text-anchor="middle">0.04</text><text x="1396.33" y="1128.10" font-size="10.80" text-anchor="middle">0.06</text><text x="1431.29" y="1128.10" font-size="10.80" text-anchor="middle">0.08</text><text x="1466.24" y="1128.10" font-size="10.80" text-anchor="middle">0.10</text><text x="1166.30" y="904.95" font-size="10.60" text-anchor="end">0.100</text><text x="1166.30" y="931.28" font-size="10.60" text-anchor="end">0.075</text><text x="1166.30" y="957.62" font-size="10.60" text-anchor="end">0.050</text><text x="1166.30" y="983.95" font-size="10.60" text-anchor="end">0.025</text><text x="1166.30" y="1010.29" font-size="10.60" text-anchor="end">0.000</text><text x="1166.30" y="1036.62" font-size="10.60" text-anchor="end">−0.025</text><text x="1166.30" y="1062.96" font-size="10.60" text-anchor="end">−0.050</text><text x="1166.30" y="1089.29" font-size="10.60" text-anchor="end">−0.075</text><text x="1166.30" y="1115.63" font-size="10.60" text-anchor="end">−0.100</text></g>
<text x="1322.30" y="1142.40" font-size="16.20" text-anchor="middle">EUR beta</text>
<text transform="translate(1130.16 993.00) rotate(-90)" x="0" y="0" font-size="16.20" text-anchor="middle">nonEUR beta</text>
<text x="1205.91" y="1090.00" font-size="82">d</text>
<!-- d2 -->
<g transform="translate(1536.40 909.90) scale(0.04957 0.04974) translate(-85.0 -60.0)"><g fill="none" stroke="#3d8a70" stroke-width="40" stroke-linecap="butt" stroke-linejoin="round">
<path d="M545 1040 C600 1200 800 1330 1000 1400 C1100 1425 1175 1390 1205 1300 C1250 1150 1250 950 1205 820 C1175 720 1130 685 1095 665"/>
<path d="M545 1045 C500 960 515 870 565 780 C590 700 585 600 590 480 C600 380 620 260 560 175 C500 110 420 95 345 95"/>
<path d="M315 205 C420 180 530 230 560 300"/>
<path d="M710 850 C660 700 695 460 765 355 C825 255 950 150 1140 90"/>
<path d="M735 850 C650 900 590 960 555 1030"/>
<path d="M745 480 L815 478 L775 400 C785 330 850 285 905 262 C955 250 990 300 1000 370 C1030 300 1100 205 1275 78"/>
<path d="M855 762 C820 700 830 622 882 592 C1000 545 1150 505 1250 472 C1350 432 1420 382 1470 362"/>
<path d="M972 872 C952 762 992 682 1082 652 C1152 622 1232 602 1302 622 C1402 662 1482 692 1552 722"/>
<path d="M1062 482 C1082 352 1152 232 1302 172"/>
<path d="M1200 300 L1255 442 L1405 242"/>
<path d="M1255 462 C1305 502 1405 522 1505 492"/>
<path d="M1405 662 L1602 620"/>
<path d="M1002 802 C1152 792 1352 802 1552 822"/>
<path d="M1302 822 L1302 992"/>
<path d="M1342 882 C1422 952 1462 1052 1472 1182"/>
<path d="M1472 1022 C1522 1052 1552 1102 1562 1152"/>
<path d="M1462 862 C1512 902 1542 952 1552 992"/>
<path d="M530 580 L190 500 M530 600 L150 650 M540 620 L250 752 M540 560 L250 352 M500 570 L330 312 M480 560 L442 330"/>
<path d="M545 792 L392 782 M530 800 C400 850 300 900 110 942 M230 942 L252 1112 M190 952 C150 1012 112 1072 92 1112"/>
<path d="M505 842 C452 1002 352 1152 150 1282 M270 1232 L270 1342 M400 1100 L452 1190"/>
<path d="M760 1322 L760 1582 M870 1362 L870 1582 M982 1402 L982 1592"/>
</g></g>
<g fill="#3d8a70" stroke="#ffffff" stroke-width="0.45"><circle cx="1528.1" cy="1070.2" r="1.75"/><circle cx="1536.4" cy="1038.7" r="1.75"/><circle cx="1542.5" cy="1093.5" r="1.75"/><circle cx="1546.7" cy="1060.3" r="1.75"/><circle cx="1551.6" cy="1096.5" r="1.75"/><circle cx="1554.6" cy="1104.6" r="1.75"/><circle cx="1558.8" cy="1096.8" r="1.75"/><circle cx="1564.9" cy="1098.5" r="1.75"/><circle cx="1570.4" cy="1096.8" r="1.75"/><circle cx="1574.2" cy="1102.1" r="1.75"/><circle cx="1582.1" cy="1101.5" r="1.75"/><circle cx="1590.4" cy="1096.3" r="1.75"/><circle cx="1564.9" cy="1086.0" r="1.75"/><circle cx="1568.8" cy="1086.8" r="1.75"/><circle cx="1572.9" cy="1090.2" r="1.75"/><circle cx="1573.4" cy="1040.7" r="1.75"/><circle cx="1570.8" cy="1046.6" r="1.75"/><circle cx="1719.6" cy="1022.4" r="1.75"/><circle cx="1725.4" cy="1012.1" r="1.75"/><circle cx="1722.9" cy="1000.1" r="1.75"/><circle cx="1736.6" cy="998.0" r="1.75"/><circle cx="1736.9" cy="1009.6" r="1.75"/><circle cx="1737.1" cy="982.7" r="1.75"/><circle cx="1739.6" cy="974.2" r="1.75"/><circle cx="1748.5" cy="970.9" r="1.75"/><circle cx="1733.7" cy="943.1" r="1.75"/><circle cx="1749.0" cy="946.0" r="1.75"/><circle cx="1794.7" cy="903.3" r="1.75"/><circle cx="1798.0" cy="963.4" r="1.75"/><circle cx="1674.6" cy="1049.5" r="1.75"/><circle cx="1675.9" cy="1048.6" r="1.75"/><circle cx="1681.2" cy="1039.0" r="1.75"/><circle cx="1686.4" cy="1034.0" r="1.75"/><circle cx="1588.6" cy="1054.5" r="1.75"/><circle cx="1582.8" cy="1063.3" r="1.75"/><circle cx="1583.8" cy="1089.1" r="1.75"/><circle cx="1577.6" cy="1063.6" r="1.75"/><circle cx="1576.7" cy="1075.6" r="1.75"/><circle cx="1580.6" cy="1070.7" r="1.75"/><circle cx="1575.1" cy="1066.9" r="1.75"/><circle cx="1596.9" cy="1074.6" r="1.75"/><circle cx="1584.3" cy="1071.4" r="1.75"/><circle cx="1597.7" cy="1065.3" r="1.75"/><circle cx="1585.2" cy="1088.7" r="1.75"/><circle cx="1586.4" cy="1062.6" r="1.75"/><circle cx="1583.3" cy="1063.1" r="1.75"/><circle cx="1585.8" cy="1058.5" r="1.75"/><circle cx="1583.3" cy="1090.4" r="1.75"/><circle cx="1573.4" cy="1075.2" r="1.75"/><circle cx="1570.3" cy="1081.0" r="1.75"/><circle cx="1591.0" cy="1048.1" r="1.75"/><circle cx="1569.0" cy="1060.0" r="1.75"/><circle cx="1565.3" cy="1076.6" r="1.75"/><circle cx="1579.2" cy="1064.6" r="1.75"/><circle cx="1570.6" cy="1063.3" r="1.75"/><circle cx="1581.9" cy="1085.5" r="1.75"/><circle cx="1578.3" cy="1052.0" r="1.75"/><circle cx="1575.0" cy="1061.9" r="1.75"/><circle cx="1575.1" cy="1062.2" r="1.75"/><circle cx="1574.6" cy="1064.2" r="1.75"/><circle cx="1583.4" cy="1077.2" r="1.75"/><circle cx="1577.5" cy="1065.8" r="1.75"/><circle cx="1580.8" cy="1066.5" r="1.75"/><circle cx="1584.5" cy="1075.4" r="1.75"/><circle cx="1584.7" cy="1068.4" r="1.75"/><circle cx="1572.1" cy="1069.3" r="1.75"/><circle cx="1572.0" cy="1049.4" r="1.75"/><circle cx="1574.4" cy="1076.1" r="1.75"/><circle cx="1587.3" cy="1073.5" r="1.75"/><circle cx="1598.5" cy="1075.4" r="1.75"/><circle cx="1583.7" cy="1051.6" r="1.75"/><circle cx="1594.0" cy="1058.6" r="1.75"/><circle cx="1596.8" cy="1062.9" r="1.75"/><circle cx="1587.6" cy="1075.8" r="1.75"/><circle cx="1575.0" cy="1075.7" r="1.75"/><circle cx="1584.4" cy="1052.7" r="1.75"/><circle cx="1572.0" cy="1074.7" r="1.75"/><circle cx="1585.9" cy="1066.4" r="1.75"/><circle cx="1691.7" cy="1020.4" r="1.75"/><circle cx="1694.1" cy="1028.7" r="1.75"/><circle cx="1689.2" cy="1009.9" r="1.75"/><circle cx="1695.9" cy="1017.2" r="1.75"/><circle cx="1690.9" cy="1026.4" r="1.75"/><circle cx="1696.5" cy="1009.9" r="1.75"/><circle cx="1673.1" cy="1014.4" r="1.75"/><circle cx="1706.7" cy="1026.3" r="1.75"/><circle cx="1691.8" cy="1020.6" r="1.75"/><circle cx="1676.0" cy="1013.2" r="1.75"/><circle cx="1694.2" cy="1014.6" r="1.75"/><circle cx="1681.5" cy="1010.3" r="1.75"/><circle cx="1701.3" cy="1016.7" r="1.75"/><circle cx="1691.6" cy="1017.9" r="1.75"/><circle cx="1701.3" cy="1032.0" r="1.75"/><circle cx="1676.0" cy="1014.3" r="1.75"/><circle cx="1684.1" cy="1004.5" r="1.75"/><circle cx="1691.9" cy="1011.5" r="1.75"/><circle cx="1683.3" cy="1027.8" r="1.75"/><circle cx="1685.2" cy="1029.9" r="1.75"/><circle cx="1683.9" cy="1018.8" r="1.75"/><circle cx="1680.8" cy="1018.0" r="1.75"/><circle cx="1685.2" cy="1001.8" r="1.75"/><circle cx="1685.0" cy="1010.5" r="1.75"/><circle cx="1679.7" cy="1019.1" r="1.75"/><circle cx="1685.9" cy="1016.2" r="1.75"/><circle cx="1695.7" cy="993.2" r="1.75"/><circle cx="1692.5" cy="1001.5" r="1.75"/><circle cx="1677.4" cy="1012.3" r="1.75"/><circle cx="1675.0" cy="1015.1" r="1.75"/><circle cx="1677.6" cy="1027.2" r="1.75"/><circle cx="1688.6" cy="1018.1" r="1.75"/><circle cx="1678.4" cy="1038.6" r="1.75"/><circle cx="1669.1" cy="1007.3" r="1.75"/><circle cx="1682.5" cy="1001.8" r="1.75"/><circle cx="1672.2" cy="1019.9" r="1.75"/><circle cx="1690.3" cy="1015.7" r="1.75"/><circle cx="1696.5" cy="1014.1" r="1.75"/><circle cx="1691.7" cy="1015.9" r="1.75"/><circle cx="1704.8" cy="1023.8" r="1.75"/><circle cx="1683.7" cy="1023.2" r="1.75"/><circle cx="1691.0" cy="1003.2" r="1.75"/><circle cx="1682.4" cy="1023.7" r="1.75"/><circle cx="1690.7" cy="1011.4" r="1.75"/><circle cx="1695.8" cy="1015.9" r="1.75"/><circle cx="1680.9" cy="1004.4" r="1.75"/><circle cx="1694.8" cy="1019.0" r="1.75"/><circle cx="1671.0" cy="1015.1" r="1.75"/><circle cx="1682.4" cy="1007.8" r="1.75"/><circle cx="1686.1" cy="1005.4" r="1.75"/></g>
<path d="M1514.80 893.00 L1514.80 1114.80 L1811.60 1114.80" fill="none" stroke="#000" stroke-width="2.25" stroke-linejoin="miter" stroke-linecap="butt"/>
<path d="M1528.80 1115.90 L1528.80 1117.40 M1563.06 1115.90 L1563.06 1117.40 M1597.32 1115.90 L1597.32 1117.40 M1631.58 1115.90 L1631.58 1117.40 M1665.84 1115.90 L1665.84 1117.40 M1700.11 1115.90 L1700.11 1117.40 M1734.37 1115.90 L1734.37 1117.40 M1768.63 1115.90 L1768.63 1117.40 M1802.89 1115.90 L1802.89 1117.40 M1512.20 944.85 L1513.70 944.85 M1512.20 969.96 L1513.70 969.96 M1512.20 995.07 L1513.70 995.07 M1512.20 1020.19 L1513.70 1020.19 M1512.20 1045.30 L1513.70 1045.30 M1512.20 1070.41 L1513.70 1070.41 M1512.20 1095.52 L1513.70 1095.52 M1647.40 988.00 L1649.40 988.00 M1647.40 1013.40 L1649.40 1013.40" stroke="#000" stroke-width="1" fill="none"/>
<g><text x="1528.80" y="1127.80" font-size="10.80" text-anchor="middle">−0.06</text><text x="1563.06" y="1127.80" font-size="10.80" text-anchor="middle">−0.04</text><text x="1597.32" y="1127.80" font-size="10.80" text-anchor="middle">−0.02</text><text x="1631.58" y="1127.80" font-size="10.80" text-anchor="middle">0.00</text><text x="1665.84" y="1127.80" font-size="10.80" text-anchor="middle">0.02</text><text x="1700.11" y="1127.80" font-size="10.80" text-anchor="middle">0.04</text><text x="1734.37" y="1127.80" font-size="10.80" text-anchor="middle">0.06</text><text x="1768.63" y="1127.80" font-size="10.80" text-anchor="middle">0.08</text><text x="1802.89" y="1127.80" font-size="10.80" text-anchor="middle">0.10</text><text x="1510.00" y="948.72" font-size="10.60" text-anchor="end">0.08</text><text x="1510.00" y="973.83" font-size="10.60" text-anchor="end">0.06</text><text x="1510.00" y="998.94" font-size="10.60" text-anchor="end">0.04</text><text x="1510.00" y="1024.05" font-size="10.60" text-anchor="end">0.02</text><text x="1510.00" y="1049.16" font-size="10.60" text-anchor="end">0.00</text><text x="1510.00" y="1074.27" font-size="10.60" text-anchor="end">−0.02</text><text x="1510.00" y="1099.38" font-size="10.60" text-anchor="end">−0.04</text><text x="1646.80" y="991.86" font-size="10.60" text-anchor="end">0.12</text><text x="1646.80" y="1017.26" font-size="10.60" text-anchor="end">0.10</text></g>
<text x="1676.20" y="1140.90" font-size="16.20" text-anchor="middle">EUR beta</text>
<text transform="translate(1483.66 992.20) rotate(-90)" x="0" y="0" font-size="16.20" text-anchor="middle">nonEUR beta</text>
<!-- d3 -->
<g transform="translate(1883.00 909.60) scale(0.16630 0.16701) translate(-455.0 -45.0)"><g fill="none" stroke="#e85a2b" stroke-width="22" stroke-linecap="butt" stroke-linejoin="miter">
<path d="M482 280 C580 150 650 138 727 138 C805 138 875 150 972 280 C875 410 805 422 727 422 C650 422 580 410 482 280 Z"/>
<circle cx="727" cy="280" r="126"/>
<path d="M468 155 L506 192 M586 75 L606 128 M727 45 L727 104 M868 75 L848 128 M986 155 L948 192"/>
</g>
<circle cx="727" cy="282" r="76" fill="#e85a2b"/>
<circle cx="674" cy="246" r="26" fill="#ffffff"/></g>
<g fill="#e85a2b" stroke="#ffffff" stroke-width="0.45"><circle cx="1880.2" cy="1107.3" r="1.75"/><circle cx="1892.5" cy="1088.5" r="1.75"/><circle cx="1911.3" cy="1092.3" r="1.75"/><circle cx="1922.4" cy="1088.5" r="1.75"/><circle cx="1891.7" cy="1073.1" r="1.75"/><circle cx="1897.2" cy="1078.2" r="1.75"/><circle cx="1898.8" cy="1073.2" r="1.75"/><circle cx="1899.7" cy="1067.4" r="1.75"/><circle cx="1904.3" cy="1060.3" r="1.75"/><circle cx="1911.3" cy="1063.9" r="1.75"/><circle cx="1912.9" cy="1061.4" r="1.75"/><circle cx="1915.4" cy="1053.6" r="1.75"/><circle cx="1918.8" cy="1061.1" r="1.75"/><circle cx="1920.4" cy="1060.3" r="1.75"/><circle cx="1904.3" cy="1049.5" r="1.75"/><circle cx="1908.5" cy="1045.3" r="1.75"/><circle cx="1906.6" cy="1040.8" r="1.75"/><circle cx="1912.1" cy="1035.0" r="1.75"/><circle cx="1916.6" cy="1030.0" r="1.75"/><circle cx="1920.4" cy="1023.7" r="1.75"/><circle cx="1922.4" cy="1029.2" r="1.75"/><circle cx="1925.4" cy="1027.5" r="1.75"/><circle cx="1926.6" cy="1032.5" r="1.75"/><circle cx="1921.7" cy="1040.0" r="1.75"/><circle cx="1921.7" cy="1046.6" r="1.75"/><circle cx="1906.0" cy="1016.2" r="1.75"/><circle cx="1920.4" cy="1001.0" r="1.75"/><circle cx="1922.9" cy="1006.3" r="1.75"/><circle cx="1924.2" cy="1007.9" r="1.75"/><circle cx="1926.6" cy="1013.4" r="1.75"/><circle cx="2011.8" cy="1027.9" r="1.75"/><circle cx="2011.0" cy="1024.5" r="1.75"/><circle cx="2012.6" cy="1012.1" r="1.75"/><circle cx="2014.0" cy="1003.8" r="1.75"/><circle cx="2014.8" cy="1007.6" r="1.75"/><circle cx="2020.4" cy="1003.4" r="1.75"/><circle cx="2011.0" cy="993.8" r="1.75"/><circle cx="2011.8" cy="996.8" r="1.75"/><circle cx="2015.5" cy="981.0" r="1.75"/><circle cx="2021.4" cy="980.8" r="1.75"/><circle cx="2023.4" cy="976.4" r="1.75"/><circle cx="2013.5" cy="972.2" r="1.75"/><circle cx="2015.6" cy="975.0" r="1.75"/><circle cx="2015.5" cy="965.2" r="1.75"/><circle cx="2025.4" cy="960.2" r="1.75"/><circle cx="2021.4" cy="951.9" r="1.75"/><circle cx="2029.2" cy="956.8" r="1.75"/><circle cx="2032.6" cy="957.3" r="1.75"/><circle cx="2030.4" cy="974.2" r="1.75"/><circle cx="2034.6" cy="974.2" r="1.75"/><circle cx="2028.1" cy="992.1" r="1.75"/><circle cx="2035.4" cy="990.8" r="1.75"/><circle cx="2045.0" cy="981.8" r="1.75"/><circle cx="2048.3" cy="979.4" r="1.75"/><circle cx="2047.0" cy="994.6" r="1.75"/><circle cx="2047.5" cy="998.0" r="1.75"/><circle cx="2050.3" cy="950.3" r="1.75"/><circle cx="2050.0" cy="934.0" r="1.75"/><circle cx="2046.7" cy="926.5" r="1.75"/><circle cx="2036.2" cy="937.0" r="1.75"/><circle cx="2072.4" cy="911.9" r="1.75"/><circle cx="2093.2" cy="914.6" r="1.75"/><circle cx="2121.5" cy="938.5" r="1.75"/><circle cx="2143.4" cy="914.4" r="1.75"/><circle cx="2143.9" cy="906.3" r="1.75"/><circle cx="2149.2" cy="939.5" r="1.75"/></g>
<path d="M1866.80 895.80 L1866.80 1117.00 L2164.10 1117.00" fill="none" stroke="#000" stroke-width="2.25" stroke-linejoin="miter" stroke-linecap="butt"/>
<path d="M1866.99 1118.10 L1866.99 1119.60 M1917.89 1118.10 L1917.89 1119.60 M1968.80 1118.10 L1968.80 1119.60 M2019.70 1118.10 L2019.70 1119.60 M2070.61 1118.10 L2070.61 1119.60 M2121.51 1118.10 L2121.51 1119.60 M1864.20 918.43 L1865.70 918.43 M1864.20 950.60 L1865.70 950.60 M1864.20 982.77 L1865.70 982.77 M1864.20 1014.94 L1865.70 1014.94 M1864.20 1047.11 L1865.70 1047.11 M1864.20 1079.29 L1865.70 1079.29 M1864.20 1111.46 L1865.70 1111.46" stroke="#000" stroke-width="1" fill="none"/>
<g><text x="1866.99" y="1130.00" font-size="10.80" text-anchor="middle">−0.10</text><text x="1917.89" y="1130.00" font-size="10.80" text-anchor="middle">−0.05</text><text x="1968.80" y="1130.00" font-size="10.80" text-anchor="middle">0.00</text><text x="2019.70" y="1130.00" font-size="10.80" text-anchor="middle">0.05</text><text x="2070.61" y="1130.00" font-size="10.80" text-anchor="middle">0.10</text><text x="2121.51" y="1130.00" font-size="10.80" text-anchor="middle">0.15</text><text x="1862.00" y="922.29" font-size="10.60" text-anchor="end">0.15</text><text x="1862.00" y="954.46" font-size="10.60" text-anchor="end">0.10</text><text x="1862.00" y="986.64" font-size="10.60" text-anchor="end">0.05</text><text x="1862.00" y="1018.81" font-size="10.60" text-anchor="end">0.00</text><text x="1862.00" y="1050.98" font-size="10.60" text-anchor="end">−0.05</text><text x="1862.00" y="1083.15" font-size="10.60" text-anchor="end">−0.10</text><text x="1862.00" y="1115.32" font-size="10.60" text-anchor="end">−0.15</text></g>
<text x="2023.20" y="1145.00" font-size="16.20" text-anchor="middle">EUR beta</text>
<text transform="translate(1831.36 995.30) rotate(-90)" x="0" y="0" font-size="16.20" text-anchor="middle">nonEUR beta</text>
<!-- d4 -->
<g transform="translate(1183.90 1154.60) scale(0.16795 0.16582) translate(-400.0 -125.0)"><g fill="none" stroke="#c8b634" stroke-width="15" stroke-linecap="round" stroke-linejoin="round">
<path d="M455 515 C430 520 410 500 405 460 C395 380 395 290 440 232 C490 182 600 167 700 165 C760 165 820 178 836 206 C820 235 790 262 758 292 C728 320 700 335 660 345 M604 392 C560 430 510 480 478 505 C470 512 462 515 455 515"/>
<path d="M418 452 C500 392 600 322 680 267 C722 240 752 202 770 170"/>
<path d="M636 262 C641 230 651 200 671 168"/>
<path d="M588 165 L588 135 L630 135 L630 165 M697 165 L697 135 L739 135 L739 165"/>
<circle cx="567" cy="404" r="36"/>
<path d="M603 400 C640 375 690 360 742 352 M694 337 L694 492 M660 337 L694 372"/>
</g></g>
<g fill="#c8b634" stroke="#ffffff" stroke-width="0.45"><circle cx="1184.4" cy="1357.3" r="1.75"/><circle cx="1286.4" cy="1231.4" r="1.75"/><circle cx="1319.6" cy="1231.4" r="1.75"/><circle cx="1306.8" cy="1241.3" r="1.75"/><circle cx="1303.5" cy="1251.3" r="1.75"/><circle cx="1326.8" cy="1244.2" r="1.75"/><circle cx="1285.7" cy="1303.3" r="1.75"/><circle cx="1323.5" cy="1306.1" r="1.75"/><circle cx="1340.4" cy="1218.4" r="1.75"/><circle cx="1423.1" cy="1219.4" r="1.75"/><circle cx="1441.9" cy="1191.5" r="1.75"/><circle cx="1454.4" cy="1156.3" r="1.75"/><circle cx="1408.7" cy="1169.6" r="1.75"/><circle cx="1417.7" cy="1175.7" r="1.75"/><circle cx="1305.2" cy="1320.6" r="1.75"/><circle cx="1309.7" cy="1320.6" r="1.75"/><circle cx="1308.5" cy="1313.3" r="1.75"/><circle cx="1301.0" cy="1301.6" r="1.75"/><circle cx="1302.4" cy="1304.5" r="1.75"/><circle cx="1303.0" cy="1307.5" r="1.75"/><circle cx="1297.7" cy="1268.7" r="1.75"/><circle cx="1300.2" cy="1268.4" r="1.75"/><circle cx="1331.8" cy="1282.5" r="1.75"/><circle cx="1327.3" cy="1287.5" r="1.75"/><circle cx="1330.1" cy="1253.0" r="1.75"/><circle cx="1333.9" cy="1261.6" r="1.75"/><circle cx="1315.5" cy="1281.5" r="1.75"/><circle cx="1320.2" cy="1291.4" r="1.75"/><circle cx="1317.6" cy="1277.2" r="1.75"/><circle cx="1326.1" cy="1274.5" r="1.75"/><circle cx="1309.7" cy="1276.1" r="1.75"/><circle cx="1309.3" cy="1283.1" r="1.75"/><circle cx="1312.4" cy="1293.1" r="1.75"/><circle cx="1315.3" cy="1271.2" r="1.75"/><circle cx="1310.2" cy="1270.5" r="1.75"/><circle cx="1317.7" cy="1289.9" r="1.75"/><circle cx="1314.6" cy="1265.6" r="1.75"/><circle cx="1301.7" cy="1254.4" r="1.75"/><circle cx="1306.8" cy="1269.8" r="1.75"/><circle cx="1308.9" cy="1298.4" r="1.75"/><circle cx="1307.9" cy="1257.9" r="1.75"/><circle cx="1307.3" cy="1259.3" r="1.75"/><circle cx="1297.3" cy="1277.9" r="1.75"/><circle cx="1314.5" cy="1279.1" r="1.75"/><circle cx="1297.3" cy="1277.5" r="1.75"/><circle cx="1298.7" cy="1288.6" r="1.75"/><circle cx="1305.1" cy="1284.1" r="1.75"/><circle cx="1311.5" cy="1245.2" r="1.75"/><circle cx="1305.3" cy="1276.0" r="1.75"/><circle cx="1319.4" cy="1271.4" r="1.75"/><circle cx="1306.1" cy="1264.1" r="1.75"/><circle cx="1310.7" cy="1273.5" r="1.75"/><circle cx="1306.8" cy="1260.4" r="1.75"/><circle cx="1323.7" cy="1258.9" r="1.75"/><circle cx="1307.6" cy="1261.0" r="1.75"/><circle cx="1312.5" cy="1266.6" r="1.75"/><circle cx="1334.6" cy="1267.7" r="1.75"/><circle cx="1323.9" cy="1271.3" r="1.75"/><circle cx="1329.4" cy="1270.6" r="1.75"/><circle cx="1323.2" cy="1263.2" r="1.75"/><circle cx="1333.3" cy="1263.4" r="1.75"/><circle cx="1326.1" cy="1273.0" r="1.75"/><circle cx="1335.9" cy="1268.0" r="1.75"/><circle cx="1335.3" cy="1266.5" r="1.75"/><circle cx="1330.0" cy="1268.0" r="1.75"/><circle cx="1327.5" cy="1272.8" r="1.75"/><circle cx="1331.0" cy="1272.0" r="1.75"/><circle cx="1329.2" cy="1267.3" r="1.75"/><circle cx="1330.9" cy="1269.9" r="1.75"/><circle cx="1333.6" cy="1271.2" r="1.75"/><circle cx="1319.0" cy="1262.0" r="1.75"/><circle cx="1356.3" cy="1241.9" r="1.75"/><circle cx="1359.1" cy="1258.3" r="1.75"/><circle cx="1350.0" cy="1248.2" r="1.75"/><circle cx="1359.8" cy="1229.2" r="1.75"/><circle cx="1348.0" cy="1241.3" r="1.75"/><circle cx="1348.8" cy="1242.9" r="1.75"/><circle cx="1333.7" cy="1246.7" r="1.75"/><circle cx="1350.9" cy="1248.5" r="1.75"/><circle cx="1339.5" cy="1248.2" r="1.75"/><circle cx="1352.3" cy="1237.3" r="1.75"/><circle cx="1341.8" cy="1258.6" r="1.75"/><circle cx="1343.6" cy="1251.3" r="1.75"/><circle cx="1343.6" cy="1242.9" r="1.75"/><circle cx="1337.4" cy="1270.9" r="1.75"/><circle cx="1351.1" cy="1245.1" r="1.75"/><circle cx="1343.9" cy="1238.9" r="1.75"/><circle cx="1337.8" cy="1247.4" r="1.75"/><circle cx="1349.7" cy="1247.1" r="1.75"/><circle cx="1349.2" cy="1258.3" r="1.75"/><circle cx="1333.7" cy="1228.9" r="1.75"/><circle cx="1343.4" cy="1255.2" r="1.75"/><circle cx="1354.4" cy="1262.1" r="1.75"/><circle cx="1344.7" cy="1230.4" r="1.75"/><circle cx="1351.9" cy="1258.1" r="1.75"/><circle cx="1349.3" cy="1237.4" r="1.75"/><circle cx="1356.0" cy="1254.1" r="1.75"/><circle cx="1337.2" cy="1244.3" r="1.75"/><circle cx="1357.6" cy="1230.9" r="1.75"/><circle cx="1349.7" cy="1247.3" r="1.75"/><circle cx="1345.2" cy="1230.2" r="1.75"/><circle cx="1354.5" cy="1227.3" r="1.75"/><circle cx="1344.3" cy="1257.8" r="1.75"/><circle cx="1335.4" cy="1232.4" r="1.75"/><circle cx="1355.1" cy="1237.5" r="1.75"/><circle cx="1338.7" cy="1251.9" r="1.75"/><circle cx="1340.7" cy="1245.8" r="1.75"/><circle cx="1349.0" cy="1248.1" r="1.75"/><circle cx="1341.3" cy="1243.5" r="1.75"/><circle cx="1337.3" cy="1246.6" r="1.75"/><circle cx="1350.0" cy="1248.7" r="1.75"/><circle cx="1348.8" cy="1233.8" r="1.75"/><circle cx="1339.3" cy="1264.9" r="1.75"/><circle cx="1353.6" cy="1240.8" r="1.75"/><circle cx="1355.6" cy="1261.5" r="1.75"/><circle cx="1360.1" cy="1227.7" r="1.75"/><circle cx="1339.4" cy="1246.4" r="1.75"/><circle cx="1339.5" cy="1236.9" r="1.75"/><circle cx="1350.7" cy="1221.4" r="1.75"/><circle cx="1345.7" cy="1241.6" r="1.75"/><circle cx="1346.1" cy="1233.3" r="1.75"/><circle cx="1337.0" cy="1246.9" r="1.75"/><circle cx="1355.7" cy="1231.2" r="1.75"/><circle cx="1333.7" cy="1227.5" r="1.75"/><circle cx="1357.5" cy="1239.5" r="1.75"/><circle cx="1354.1" cy="1247.3" r="1.75"/><circle cx="1347.3" cy="1252.9" r="1.75"/><circle cx="1350.4" cy="1233.7" r="1.75"/><circle cx="1354.8" cy="1230.9" r="1.75"/><circle cx="1354.9" cy="1230.9" r="1.75"/><circle cx="1341.4" cy="1237.8" r="1.75"/><circle cx="1348.3" cy="1241.9" r="1.75"/><circle cx="1350.9" cy="1245.9" r="1.75"/><circle cx="1360.2" cy="1219.8" r="1.75"/><circle cx="1350.0" cy="1249.2" r="1.75"/><circle cx="1343.1" cy="1246.7" r="1.75"/><circle cx="1348.5" cy="1248.9" r="1.75"/><circle cx="1348.8" cy="1237.1" r="1.75"/><circle cx="1337.4" cy="1236.3" r="1.75"/><circle cx="1348.8" cy="1253.0" r="1.75"/><circle cx="1350.7" cy="1241.9" r="1.75"/><circle cx="1353.3" cy="1232.6" r="1.75"/><circle cx="1357.1" cy="1245.2" r="1.75"/><circle cx="1351.5" cy="1215.3" r="1.75"/><circle cx="1353.2" cy="1228.6" r="1.75"/><circle cx="1354.5" cy="1217.9" r="1.75"/><circle cx="1353.4" cy="1222.7" r="1.75"/><circle cx="1355.7" cy="1240.9" r="1.75"/><circle cx="1355.8" cy="1217.2" r="1.75"/><circle cx="1354.8" cy="1234.2" r="1.75"/><circle cx="1355.8" cy="1230.3" r="1.75"/><circle cx="1352.0" cy="1223.3" r="1.75"/><circle cx="1351.5" cy="1221.7" r="1.75"/><circle cx="1355.4" cy="1227.0" r="1.75"/><circle cx="1355.5" cy="1226.9" r="1.75"/><circle cx="1352.2" cy="1245.6" r="1.75"/><circle cx="1357.1" cy="1221.9" r="1.75"/><circle cx="1356.1" cy="1230.9" r="1.75"/><circle cx="1356.8" cy="1232.4" r="1.75"/><circle cx="1356.9" cy="1222.1" r="1.75"/><circle cx="1359.0" cy="1214.3" r="1.75"/><circle cx="1401.6" cy="1200.6" r="1.75"/><circle cx="1395.2" cy="1189.4" r="1.75"/><circle cx="1402.7" cy="1214.5" r="1.75"/><circle cx="1391.1" cy="1202.9" r="1.75"/><circle cx="1387.7" cy="1212.0" r="1.75"/><circle cx="1387.9" cy="1208.7" r="1.75"/><circle cx="1394.5" cy="1205.8" r="1.75"/><circle cx="1390.0" cy="1199.9" r="1.75"/><circle cx="1389.7" cy="1220.1" r="1.75"/><circle cx="1392.5" cy="1195.5" r="1.75"/><circle cx="1399.0" cy="1201.3" r="1.75"/><circle cx="1395.7" cy="1221.3" r="1.75"/><circle cx="1389.9" cy="1209.8" r="1.75"/><circle cx="1394.9" cy="1200.5" r="1.75"/><circle cx="1399.5" cy="1195.8" r="1.75"/><circle cx="1394.6" cy="1194.8" r="1.75"/><circle cx="1387.1" cy="1206.3" r="1.75"/><circle cx="1398.7" cy="1194.7" r="1.75"/><circle cx="1409.4" cy="1212.1" r="1.75"/><circle cx="1395.9" cy="1195.5" r="1.75"/><circle cx="1386.0" cy="1213.1" r="1.75"/><circle cx="1400.8" cy="1217.2" r="1.75"/><circle cx="1394.5" cy="1186.9" r="1.75"/><circle cx="1397.7" cy="1211.5" r="1.75"/><circle cx="1392.4" cy="1201.6" r="1.75"/><circle cx="1394.5" cy="1195.6" r="1.75"/><circle cx="1402.0" cy="1200.9" r="1.75"/><circle cx="1401.0" cy="1196.4" r="1.75"/><circle cx="1392.3" cy="1210.0" r="1.75"/><circle cx="1391.2" cy="1209.2" r="1.75"/><circle cx="1406.5" cy="1199.6" r="1.75"/><circle cx="1396.6" cy="1194.0" r="1.75"/><circle cx="1403.5" cy="1195.7" r="1.75"/><circle cx="1384.2" cy="1211.1" r="1.75"/><circle cx="1402.0" cy="1193.2" r="1.75"/><circle cx="1388.0" cy="1212.4" r="1.75"/><circle cx="1382.4" cy="1210.4" r="1.75"/><circle cx="1376.8" cy="1221.1" r="1.75"/><circle cx="1403.2" cy="1202.2" r="1.75"/><circle cx="1401.1" cy="1206.3" r="1.75"/><circle cx="1407.6" cy="1176.6" r="1.75"/><circle cx="1387.9" cy="1219.9" r="1.75"/><circle cx="1394.4" cy="1207.5" r="1.75"/><circle cx="1405.7" cy="1201.1" r="1.75"/><circle cx="1379.6" cy="1203.9" r="1.75"/><circle cx="1394.0" cy="1198.3" r="1.75"/><circle cx="1407.0" cy="1205.3" r="1.75"/><circle cx="1395.2" cy="1222.0" r="1.75"/><circle cx="1378.9" cy="1206.3" r="1.75"/><circle cx="1397.8" cy="1211.2" r="1.75"/><circle cx="1397.4" cy="1200.0" r="1.75"/><circle cx="1385.0" cy="1208.9" r="1.75"/><circle cx="1399.2" cy="1199.7" r="1.75"/><circle cx="1391.1" cy="1201.5" r="1.75"/><circle cx="1386.3" cy="1211.4" r="1.75"/><circle cx="1412.2" cy="1208.5" r="1.75"/><circle cx="1402.1" cy="1197.4" r="1.75"/><circle cx="1410.7" cy="1185.4" r="1.75"/><circle cx="1419.3" cy="1175.8" r="1.75"/><circle cx="1407.9" cy="1190.8" r="1.75"/><circle cx="1408.9" cy="1195.7" r="1.75"/><circle cx="1410.8" cy="1198.6" r="1.75"/><circle cx="1407.1" cy="1187.9" r="1.75"/><circle cx="1413.9" cy="1184.8" r="1.75"/><circle cx="1409.0" cy="1192.4" r="1.75"/><circle cx="1401.8" cy="1178.1" r="1.75"/><circle cx="1413.0" cy="1176.2" r="1.75"/></g>
<path d="M1171.10 1145.80 L1171.10 1367.60 L1468.20 1367.60" fill="none" stroke="#000" stroke-width="2.25" stroke-linejoin="miter" stroke-linecap="butt"/>
<path d="M1215.66 1368.70 L1215.66 1370.20 M1266.87 1368.70 L1266.87 1370.20 M1318.08 1368.70 L1318.08 1370.20 M1369.29 1368.70 L1369.29 1370.20 M1420.50 1368.70 L1420.50 1370.20 M1168.50 1170.49 L1170.00 1170.49 M1168.50 1198.43 L1170.00 1198.43 M1168.50 1226.37 L1170.00 1226.37 M1168.50 1254.31 L1170.00 1254.31 M1168.50 1282.24 L1170.00 1282.24 M1168.50 1310.18 L1170.00 1310.18 M1168.50 1338.12 L1170.00 1338.12 M1168.50 1366.06 L1170.00 1366.06" stroke="#000" stroke-width="1" fill="none"/>
<g><text x="1215.66" y="1380.60" font-size="10.80" text-anchor="middle">−0.3</text><text x="1266.87" y="1380.60" font-size="10.80" text-anchor="middle">−0.2</text><text x="1318.08" y="1380.60" font-size="10.80" text-anchor="middle">−0.1</text><text x="1369.29" y="1380.60" font-size="10.80" text-anchor="middle">0.0</text><text x="1420.50" y="1380.60" font-size="10.80" text-anchor="middle">0.1</text><text x="1166.30" y="1174.36" font-size="10.60" text-anchor="end">0.10</text><text x="1166.30" y="1202.29" font-size="10.60" text-anchor="end">0.05</text><text x="1166.30" y="1230.23" font-size="10.60" text-anchor="end">0.00</text><text x="1166.30" y="1258.17" font-size="10.60" text-anchor="end">−0.05</text><text x="1166.30" y="1286.11" font-size="10.60" text-anchor="end">−0.10</text><text x="1166.30" y="1314.05" font-size="10.60" text-anchor="end">−0.15</text><text x="1166.30" y="1341.98" font-size="10.60" text-anchor="end">−0.20</text><text x="1166.30" y="1369.92" font-size="10.60" text-anchor="end">−0.25</text></g>
<text x="1321.80" y="1397.40" font-size="16.20" text-anchor="middle">EUR beta</text>
<text transform="translate(1132.76 1249.70) rotate(-90)" x="0" y="0" font-size="16.20" text-anchor="middle">nonEUR beta</text>
<!-- d5 -->
<g transform="translate(1529.70 1159.10) scale(0.16261 0.16507) translate(-470.0 -120.0)"><g fill="none" stroke="#e39b3c" stroke-width="30" stroke-linecap="round"><circle cx="705" cy="350" r="104"/><path d="M705 250 L705 165 M755 263 L798 190 M792 300 L865 258 M805 350 L890 350 M792 400 L865 442 M755 437 L798 510 M705 450 L705 535 M655 437 L612 510 M618 400 L545 442 M605 350 L520 350 "/><circle cx="705" cy="165" r="17"/><circle cx="798" cy="190" r="17"/><circle cx="865" cy="258" r="17"/><circle cx="890" cy="350" r="17"/><circle cx="865" cy="442" r="17"/><circle cx="798" cy="510" r="17"/><circle cx="705" cy="535" r="17"/><circle cx="612" cy="510" r="17"/><circle cx="545" cy="442" r="17"/><circle cx="520" cy="350" r="17"/></g><g fill="none" stroke="#ffffff" stroke-width="14" stroke-linecap="round"><circle cx="705" cy="350" r="104"/><path d="M705 250 L705 165 M755 263 L798 190 M792 300 L865 258 M805 350 L890 350 M792 400 L865 442 M755 437 L798 510 M705 450 L705 535 M655 437 L612 510 M618 400 L545 442 M605 350 L520 350 "/><circle cx="705" cy="165" r="9"/><circle cx="798" cy="190" r="9"/><circle cx="865" cy="258" r="9"/><circle cx="890" cy="350" r="9"/><circle cx="865" cy="442" r="9"/><circle cx="798" cy="510" r="9"/><circle cx="705" cy="535" r="9"/><circle cx="612" cy="510" r="9"/><circle cx="545" cy="442" r="9"/><circle cx="520" cy="350" r="9"/></g><g fill="none" stroke="#e39b3c" stroke-width="24" stroke-linecap="butt"><path d="M640 275 L572 212 L572 122 M572 212 L478 226"/><path d="M600 128 L600 190 M495 250 L548 250"/></g></g>
<g fill="#e39b3c" stroke="#ffffff" stroke-width="0.45"><circle cx="1532.2" cy="1358.1" r="1.75"/><circle cx="1583.7" cy="1340.2" r="1.75"/><circle cx="1599.5" cy="1332.4" r="1.75"/><circle cx="1591.2" cy="1327.2" r="1.75"/><circle cx="1591.5" cy="1321.9" r="1.75"/><circle cx="1587.9" cy="1318.3" r="1.75"/><circle cx="1604.5" cy="1320.2" r="1.75"/><circle cx="1609.5" cy="1317.8" r="1.75"/><circle cx="1613.6" cy="1317.4" r="1.75"/><circle cx="1616.1" cy="1325.2" r="1.75"/><circle cx="1612.3" cy="1301.1" r="1.75"/><circle cx="1615.3" cy="1303.1" r="1.75"/><circle cx="1620.3" cy="1290.3" r="1.75"/><circle cx="1632.7" cy="1290.3" r="1.75"/><circle cx="1705.8" cy="1251.8" r="1.75"/><circle cx="1704.2" cy="1258.8" r="1.75"/><circle cx="1710.5" cy="1258.8" r="1.75"/><circle cx="1706.7" cy="1267.9" r="1.75"/><circle cx="1719.1" cy="1273.4" r="1.75"/><circle cx="1728.6" cy="1275.7" r="1.75"/><circle cx="1741.9" cy="1266.3" r="1.75"/><circle cx="1714.6" cy="1238.0" r="1.75"/><circle cx="1744.0" cy="1219.4" r="1.75"/><circle cx="1755.2" cy="1235.5" r="1.75"/><circle cx="1784.4" cy="1225.5" r="1.75"/><circle cx="1767.3" cy="1161.3" r="1.75"/><circle cx="1788.4" cy="1157.1" r="1.75"/><circle cx="1704.7" cy="1290.3" r="1.75"/><circle cx="1692.2" cy="1286.2" r="1.75"/><circle cx="1674.3" cy="1297.8" r="1.75"/><circle cx="1675.6" cy="1267.9" r="1.75"/><circle cx="1610.8" cy="1307.8" r="1.75"/><circle cx="1628.4" cy="1310.7" r="1.75"/><circle cx="1617.7" cy="1325.9" r="1.75"/><circle cx="1633.8" cy="1324.5" r="1.75"/><circle cx="1624.4" cy="1301.8" r="1.75"/><circle cx="1624.1" cy="1312.3" r="1.75"/><circle cx="1630.9" cy="1298.5" r="1.75"/><circle cx="1629.1" cy="1311.1" r="1.75"/><circle cx="1625.6" cy="1313.4" r="1.75"/><circle cx="1635.0" cy="1315.8" r="1.75"/><circle cx="1617.7" cy="1327.0" r="1.75"/><circle cx="1626.5" cy="1326.5" r="1.75"/><circle cx="1633.3" cy="1319.3" r="1.75"/><circle cx="1628.6" cy="1312.6" r="1.75"/><circle cx="1635.1" cy="1317.0" r="1.75"/><circle cx="1630.3" cy="1309.7" r="1.75"/><circle cx="1632.8" cy="1324.9" r="1.75"/><circle cx="1624.4" cy="1301.6" r="1.75"/><circle cx="1625.5" cy="1309.7" r="1.75"/><circle cx="1627.8" cy="1311.2" r="1.75"/><circle cx="1629.8" cy="1310.4" r="1.75"/><circle cx="1635.8" cy="1313.6" r="1.75"/><circle cx="1633.5" cy="1314.7" r="1.75"/><circle cx="1629.7" cy="1302.8" r="1.75"/><circle cx="1627.6" cy="1305.6" r="1.75"/><circle cx="1631.4" cy="1310.3" r="1.75"/><circle cx="1626.7" cy="1307.4" r="1.75"/><circle cx="1625.6" cy="1314.7" r="1.75"/><circle cx="1641.1" cy="1311.6" r="1.75"/><circle cx="1626.1" cy="1297.7" r="1.75"/><circle cx="1637.5" cy="1311.1" r="1.75"/><circle cx="1627.6" cy="1306.8" r="1.75"/><circle cx="1636.6" cy="1316.7" r="1.75"/><circle cx="1625.1" cy="1315.0" r="1.75"/><circle cx="1638.6" cy="1303.4" r="1.75"/><circle cx="1632.1" cy="1323.7" r="1.75"/><circle cx="1633.8" cy="1312.0" r="1.75"/><circle cx="1637.3" cy="1311.5" r="1.75"/><circle cx="1631.7" cy="1319.9" r="1.75"/><circle cx="1628.1" cy="1316.5" r="1.75"/><circle cx="1629.5" cy="1305.2" r="1.75"/><circle cx="1624.5" cy="1303.4" r="1.75"/><circle cx="1632.3" cy="1308.5" r="1.75"/><circle cx="1635.9" cy="1319.9" r="1.75"/><circle cx="1623.4" cy="1321.8" r="1.75"/><circle cx="1628.7" cy="1314.4" r="1.75"/><circle cx="1637.0" cy="1304.1" r="1.75"/><circle cx="1641.1" cy="1307.7" r="1.75"/><circle cx="1630.2" cy="1313.8" r="1.75"/><circle cx="1629.7" cy="1317.4" r="1.75"/><circle cx="1631.2" cy="1299.1" r="1.75"/><circle cx="1684.3" cy="1289.7" r="1.75"/><circle cx="1670.7" cy="1294.9" r="1.75"/><circle cx="1684.5" cy="1278.2" r="1.75"/><circle cx="1678.6" cy="1281.1" r="1.75"/><circle cx="1694.9" cy="1266.4" r="1.75"/><circle cx="1681.4" cy="1271.3" r="1.75"/><circle cx="1685.5" cy="1285.6" r="1.75"/><circle cx="1689.2" cy="1279.2" r="1.75"/><circle cx="1685.6" cy="1273.9" r="1.75"/><circle cx="1693.7" cy="1266.7" r="1.75"/><circle cx="1691.4" cy="1267.8" r="1.75"/><circle cx="1680.1" cy="1284.3" r="1.75"/><circle cx="1683.8" cy="1268.6" r="1.75"/><circle cx="1676.6" cy="1285.6" r="1.75"/><circle cx="1672.1" cy="1271.8" r="1.75"/><circle cx="1691.6" cy="1286.5" r="1.75"/><circle cx="1685.5" cy="1271.4" r="1.75"/><circle cx="1685.3" cy="1272.9" r="1.75"/><circle cx="1686.9" cy="1272.9" r="1.75"/><circle cx="1694.2" cy="1267.8" r="1.75"/><circle cx="1691.8" cy="1281.3" r="1.75"/><circle cx="1689.2" cy="1278.6" r="1.75"/><circle cx="1689.5" cy="1280.2" r="1.75"/><circle cx="1678.0" cy="1280.1" r="1.75"/><circle cx="1683.3" cy="1280.6" r="1.75"/><circle cx="1678.9" cy="1292.7" r="1.75"/><circle cx="1682.6" cy="1285.0" r="1.75"/><circle cx="1681.0" cy="1285.3" r="1.75"/><circle cx="1681.2" cy="1269.6" r="1.75"/><circle cx="1684.4" cy="1292.5" r="1.75"/><circle cx="1686.9" cy="1275.2" r="1.75"/><circle cx="1671.0" cy="1291.8" r="1.75"/><circle cx="1680.8" cy="1290.7" r="1.75"/><circle cx="1691.1" cy="1276.4" r="1.75"/><circle cx="1682.6" cy="1288.8" r="1.75"/><circle cx="1675.4" cy="1280.1" r="1.75"/><circle cx="1682.9" cy="1282.3" r="1.75"/><circle cx="1682.8" cy="1280.7" r="1.75"/><circle cx="1680.3" cy="1277.3" r="1.75"/><circle cx="1681.8" cy="1283.2" r="1.75"/><circle cx="1678.3" cy="1280.7" r="1.75"/><circle cx="1687.9" cy="1285.6" r="1.75"/><circle cx="1678.1" cy="1286.1" r="1.75"/><circle cx="1682.6" cy="1287.6" r="1.75"/><circle cx="1681.9" cy="1268.1" r="1.75"/><circle cx="1676.4" cy="1282.5" r="1.75"/><circle cx="1687.1" cy="1289.1" r="1.75"/><circle cx="1683.9" cy="1284.3" r="1.75"/><circle cx="1675.7" cy="1279.3" r="1.75"/><circle cx="1682.7" cy="1281.2" r="1.75"/><circle cx="1699.5" cy="1268.0" r="1.75"/><circle cx="1699.9" cy="1264.2" r="1.75"/><circle cx="1692.8" cy="1273.0" r="1.75"/><circle cx="1690.3" cy="1269.2" r="1.75"/><circle cx="1695.8" cy="1266.8" r="1.75"/><circle cx="1699.5" cy="1272.1" r="1.75"/><circle cx="1695.4" cy="1271.7" r="1.75"/><circle cx="1691.9" cy="1268.5" r="1.75"/></g>
<path d="M1518.90 1146.30 L1518.90 1368.40 L1817.00 1368.40" fill="none" stroke="#000" stroke-width="2.25" stroke-linejoin="miter" stroke-linecap="butt"/>
<path d="M1538.40 1369.50 L1538.40 1371.00 M1577.14 1369.50 L1577.14 1371.00 M1615.88 1369.50 L1615.88 1371.00 M1654.61 1369.50 L1654.61 1371.00 M1693.35 1369.50 L1693.35 1371.00 M1732.09 1369.50 L1732.09 1371.00 M1770.83 1369.50 L1770.83 1371.00 M1516.30 1153.99 L1517.80 1153.99 M1516.30 1182.01 L1517.80 1182.01 M1516.30 1210.03 L1517.80 1210.03 M1516.30 1238.05 L1517.80 1238.05 M1516.30 1266.07 L1517.80 1266.07 M1516.30 1294.09 L1517.80 1294.09 M1516.30 1322.11 L1517.80 1322.11 M1516.30 1350.13 L1517.80 1350.13" stroke="#000" stroke-width="1" fill="none"/>
<g><text x="1538.40" y="1381.40" font-size="10.80" text-anchor="middle">−0.15</text><text x="1577.14" y="1381.40" font-size="10.80" text-anchor="middle">−0.10</text><text x="1615.88" y="1381.40" font-size="10.80" text-anchor="middle">−0.05</text><text x="1654.61" y="1381.40" font-size="10.80" text-anchor="middle">0.00</text><text x="1693.35" y="1381.40" font-size="10.80" text-anchor="middle">0.05</text><text x="1732.09" y="1381.40" font-size="10.80" text-anchor="middle">0.10</text><text x="1770.83" y="1381.40" font-size="10.80" text-anchor="middle">0.15</text><text x="1514.10" y="1157.86" font-size="10.60" text-anchor="end">0.25</text><text x="1514.10" y="1185.88" font-size="10.60" text-anchor="end">0.20</text><text x="1514.10" y="1213.90" font-size="10.60" text-anchor="end">0.15</text><text x="1514.10" y="1241.92" font-size="10.60" text-anchor="end">0.10</text><text x="1514.10" y="1269.94" font-size="10.60" text-anchor="end">0.05</text><text x="1514.10" y="1297.96" font-size="10.60" text-anchor="end">0.00</text><text x="1514.10" y="1325.98" font-size="10.60" text-anchor="end">−0.05</text><text x="1514.10" y="1354.00" font-size="10.60" text-anchor="end">−0.10</text></g>
<text x="1676.20" y="1398.40" font-size="16.20" text-anchor="middle">EUR beta</text>
<text transform="translate(1484.16 1248.00) rotate(-90)" x="0" y="0" font-size="16.20" text-anchor="middle">nonEUR beta</text>
<!-- d6 -->
<g transform="translate(1883.10 1156.70) scale(0.16404 0.16614) translate(-420.0 -120.0)"><g fill="none" stroke="#561f50" stroke-width="14" stroke-linejoin="miter">
<path d="M432 355 A212 212 0 0 1 790 190 L808 140 L845 270 L720 238 L760 215 A172 172 0 0 0 472 355 Z"/>
<path d="M860 325 A212 212 0 0 1 502 510 L478 548 L448 420 L575 450 L535 480 A172 172 0 0 0 820 325 Z"/>
<circle cx="548" cy="256" r="15"/>
<circle cx="636" cy="236" r="25"/>
<path d="M552 345 A40 40 0 0 1 632 345 M618 345 A40 40 0 0 1 698 345"/>
<rect x="517" y="345" width="263" height="45" rx="22"/>
<rect x="602" y="408" width="112" height="45" rx="22"/>
</g>
<g fill="#561f50"><rect x="706" y="262" width="14" height="14"/><rect x="737" y="300" width="14" height="14"/><rect x="645" y="378" width="22" height="10"/><rect x="672" y="420" width="12" height="12"/></g></g>
<g fill="#561f50" stroke="#ffffff" stroke-width="0.45"><circle cx="1878.4" cy="1336.8" r="1.75"/><circle cx="1883.1" cy="1360.3" r="1.75"/><circle cx="1888.3" cy="1348.1" r="1.75"/><circle cx="1892.6" cy="1328.6" r="1.75"/><circle cx="1896.1" cy="1303.8" r="1.75"/><circle cx="1896.5" cy="1308.1" r="1.75"/><circle cx="1903.4" cy="1318.5" r="1.75"/><circle cx="1907.8" cy="1315.4" r="1.75"/><circle cx="1904.8" cy="1332.5" r="1.75"/><circle cx="1905.7" cy="1348.1" r="1.75"/><circle cx="1913.2" cy="1350.2" r="1.75"/><circle cx="1908.8" cy="1285.0" r="1.75"/><circle cx="1914.7" cy="1287.2" r="1.75"/><circle cx="1918.2" cy="1284.6" r="1.75"/><circle cx="1920.1" cy="1278.5" r="1.75"/><circle cx="1923.6" cy="1324.6" r="1.75"/><circle cx="1930.4" cy="1332.5" r="1.75"/><circle cx="1930.6" cy="1340.3" r="1.75"/><circle cx="1931.3" cy="1283.2" r="1.75"/><circle cx="1933.0" cy="1302.9" r="1.75"/><circle cx="1935.3" cy="1292.1" r="1.75"/><circle cx="1936.7" cy="1320.5" r="1.75"/><circle cx="1941.4" cy="1296.8" r="1.75"/><circle cx="1943.1" cy="1260.6" r="1.75"/><circle cx="1947.1" cy="1259.4" r="1.75"/><circle cx="1948.0" cy="1282.5" r="1.75"/><circle cx="1951.4" cy="1307.2" r="1.75"/><circle cx="1952.7" cy="1287.7" r="1.75"/><circle cx="1955.3" cy="1256.4" r="1.75"/><circle cx="1956.1" cy="1314.2" r="1.75"/><circle cx="1951.4" cy="1267.6" r="1.75"/><circle cx="1952.1" cy="1232.8" r="1.75"/><circle cx="1958.4" cy="1235.9" r="1.75"/><circle cx="1958.4" cy="1263.7" r="1.75"/><circle cx="1959.1" cy="1285.0" r="1.75"/><circle cx="1961.4" cy="1274.5" r="1.75"/><circle cx="1966.6" cy="1279.7" r="1.75"/><circle cx="1968.3" cy="1286.4" r="1.75"/><circle cx="1970.1" cy="1294.2" r="1.75"/><circle cx="1971.8" cy="1281.1" r="1.75"/><circle cx="1992.7" cy="1211.5" r="1.75"/><circle cx="2051.0" cy="1242.5" r="1.75"/><circle cx="2045.7" cy="1236.4" r="1.75"/><circle cx="2052.4" cy="1233.6" r="1.75"/><circle cx="2060.5" cy="1231.6" r="1.75"/><circle cx="2074.4" cy="1229.8" r="1.75"/><circle cx="2092.7" cy="1228.1" r="1.75"/><circle cx="2097.1" cy="1235.6" r="1.75"/><circle cx="2112.4" cy="1185.5" r="1.75"/><circle cx="2125.8" cy="1180.8" r="1.75"/><circle cx="2114.5" cy="1210.2" r="1.75"/><circle cx="2125.4" cy="1212.8" r="1.75"/><circle cx="2139.3" cy="1169.8" r="1.75"/><circle cx="2147.9" cy="1159.4" r="1.75"/><circle cx="2070.4" cy="1177.1" r="1.75"/><circle cx="2077.6" cy="1185.5" r="1.75"/><circle cx="2059.3" cy="1192.9" r="1.75"/><circle cx="2053.2" cy="1194.7" r="1.75"/><circle cx="2065.7" cy="1190.7" r="1.75"/><circle cx="2067.8" cy="1222.0" r="1.75"/><circle cx="2071.5" cy="1222.9" r="1.75"/><circle cx="2068.0" cy="1198.8" r="1.75"/><circle cx="2075.3" cy="1199.0" r="1.75"/><circle cx="2078.3" cy="1192.4" r="1.75"/><circle cx="2079.1" cy="1197.6" r="1.75"/><circle cx="2000.3" cy="1242.3" r="1.75"/><circle cx="1993.8" cy="1253.2" r="1.75"/><circle cx="1989.0" cy="1271.3" r="1.75"/><circle cx="1982.1" cy="1250.9" r="1.75"/><circle cx="1982.2" cy="1257.9" r="1.75"/><circle cx="1999.0" cy="1247.6" r="1.75"/><circle cx="1978.8" cy="1261.7" r="1.75"/><circle cx="1995.3" cy="1235.8" r="1.75"/><circle cx="1995.8" cy="1238.4" r="1.75"/><circle cx="2003.9" cy="1237.2" r="1.75"/><circle cx="1972.8" cy="1267.6" r="1.75"/><circle cx="1987.7" cy="1256.1" r="1.75"/><circle cx="1997.4" cy="1248.0" r="1.75"/><circle cx="1985.5" cy="1262.2" r="1.75"/><circle cx="1985.8" cy="1251.5" r="1.75"/><circle cx="1982.5" cy="1247.5" r="1.75"/><circle cx="1998.0" cy="1250.0" r="1.75"/><circle cx="1986.6" cy="1248.2" r="1.75"/><circle cx="1981.3" cy="1237.7" r="1.75"/><circle cx="1990.5" cy="1270.6" r="1.75"/><circle cx="1986.6" cy="1261.8" r="1.75"/><circle cx="1983.9" cy="1249.8" r="1.75"/><circle cx="1973.5" cy="1265.6" r="1.75"/><circle cx="1985.1" cy="1257.4" r="1.75"/><circle cx="1988.1" cy="1238.8" r="1.75"/><circle cx="1988.4" cy="1260.5" r="1.75"/><circle cx="1989.7" cy="1262.1" r="1.75"/><circle cx="1995.8" cy="1238.5" r="1.75"/><circle cx="1988.7" cy="1239.9" r="1.75"/><circle cx="1980.3" cy="1260.5" r="1.75"/><circle cx="1999.6" cy="1254.2" r="1.75"/><circle cx="1985.2" cy="1255.9" r="1.75"/><circle cx="1973.3" cy="1274.4" r="1.75"/><circle cx="1979.6" cy="1249.8" r="1.75"/><circle cx="2002.3" cy="1250.5" r="1.75"/><circle cx="1981.1" cy="1254.1" r="1.75"/><circle cx="1976.7" cy="1245.5" r="1.75"/><circle cx="1993.7" cy="1269.0" r="1.75"/><circle cx="1964.4" cy="1253.4" r="1.75"/><circle cx="1986.7" cy="1265.6" r="1.75"/><circle cx="1980.7" cy="1255.5" r="1.75"/><circle cx="1989.6" cy="1254.5" r="1.75"/><circle cx="2006.5" cy="1228.9" r="1.75"/><circle cx="1997.2" cy="1250.3" r="1.75"/><circle cx="1976.0" cy="1252.2" r="1.75"/><circle cx="1974.0" cy="1252.6" r="1.75"/><circle cx="1986.9" cy="1254.4" r="1.75"/><circle cx="1979.0" cy="1237.9" r="1.75"/><circle cx="2007.8" cy="1229.5" r="1.75"/><circle cx="1982.9" cy="1269.6" r="1.75"/><circle cx="1985.0" cy="1251.7" r="1.75"/><circle cx="1979.8" cy="1258.4" r="1.75"/><circle cx="1985.6" cy="1247.1" r="1.75"/><circle cx="1974.3" cy="1255.8" r="1.75"/><circle cx="1967.2" cy="1254.1" r="1.75"/><circle cx="1999.0" cy="1255.4" r="1.75"/><circle cx="1981.7" cy="1256.2" r="1.75"/><circle cx="1995.1" cy="1245.7" r="1.75"/><circle cx="1980.7" cy="1251.5" r="1.75"/><circle cx="2000.6" cy="1257.5" r="1.75"/><circle cx="1999.8" cy="1254.8" r="1.75"/><circle cx="1993.8" cy="1248.6" r="1.75"/><circle cx="1995.1" cy="1252.1" r="1.75"/><circle cx="2008.8" cy="1259.9" r="1.75"/><circle cx="1991.4" cy="1254.2" r="1.75"/><circle cx="2008.8" cy="1250.4" r="1.75"/><circle cx="1983.3" cy="1252.9" r="1.75"/><circle cx="1997.2" cy="1248.6" r="1.75"/><circle cx="1984.2" cy="1271.0" r="1.75"/><circle cx="1988.4" cy="1246.0" r="1.75"/><circle cx="1994.4" cy="1249.5" r="1.75"/><circle cx="1990.8" cy="1256.3" r="1.75"/><circle cx="1989.2" cy="1264.8" r="1.75"/><circle cx="1966.6" cy="1271.0" r="1.75"/><circle cx="1991.2" cy="1241.9" r="1.75"/><circle cx="1974.8" cy="1260.9" r="1.75"/><circle cx="1997.0" cy="1246.6" r="1.75"/><circle cx="1981.2" cy="1258.2" r="1.75"/><circle cx="2001.0" cy="1236.9" r="1.75"/><circle cx="1978.6" cy="1243.7" r="1.75"/><circle cx="1972.9" cy="1271.4" r="1.75"/><circle cx="1986.7" cy="1253.5" r="1.75"/><circle cx="1978.7" cy="1244.4" r="1.75"/><circle cx="1975.4" cy="1254.1" r="1.75"/><circle cx="1983.9" cy="1254.0" r="1.75"/><circle cx="1967.9" cy="1256.2" r="1.75"/><circle cx="1994.3" cy="1250.3" r="1.75"/><circle cx="1976.5" cy="1257.3" r="1.75"/><circle cx="1984.2" cy="1249.8" r="1.75"/><circle cx="1977.5" cy="1251.2" r="1.75"/><circle cx="1989.6" cy="1239.6" r="1.75"/><circle cx="1983.3" cy="1248.4" r="1.75"/><circle cx="1994.8" cy="1245.0" r="1.75"/><circle cx="1979.8" cy="1251.4" r="1.75"/><circle cx="1996.3" cy="1237.1" r="1.75"/><circle cx="1965.8" cy="1254.5" r="1.75"/><circle cx="1994.8" cy="1244.8" r="1.75"/><circle cx="1985.8" cy="1261.4" r="1.75"/><circle cx="1986.9" cy="1260.3" r="1.75"/><circle cx="2000.0" cy="1255.8" r="1.75"/><circle cx="1972.7" cy="1272.6" r="1.75"/><circle cx="1995.2" cy="1249.4" r="1.75"/><circle cx="2006.3" cy="1239.1" r="1.75"/><circle cx="2008.8" cy="1241.4" r="1.75"/><circle cx="1997.7" cy="1239.7" r="1.75"/><circle cx="1992.1" cy="1249.5" r="1.75"/><circle cx="1973.9" cy="1262.5" r="1.75"/><circle cx="1989.2" cy="1240.6" r="1.75"/><circle cx="1993.0" cy="1266.9" r="1.75"/><circle cx="1972.1" cy="1259.9" r="1.75"/><circle cx="2060.9" cy="1216.3" r="1.75"/><circle cx="2060.9" cy="1218.6" r="1.75"/><circle cx="2039.1" cy="1215.9" r="1.75"/><circle cx="2039.8" cy="1214.9" r="1.75"/><circle cx="2057.3" cy="1210.4" r="1.75"/><circle cx="2052.6" cy="1218.3" r="1.75"/><circle cx="2039.4" cy="1234.6" r="1.75"/><circle cx="2042.0" cy="1227.9" r="1.75"/><circle cx="2053.7" cy="1213.8" r="1.75"/><circle cx="2042.2" cy="1226.3" r="1.75"/><circle cx="2049.8" cy="1218.9" r="1.75"/><circle cx="2048.6" cy="1231.5" r="1.75"/><circle cx="2051.8" cy="1215.8" r="1.75"/><circle cx="2046.3" cy="1220.4" r="1.75"/><circle cx="2060.0" cy="1213.6" r="1.75"/><circle cx="2053.2" cy="1208.6" r="1.75"/><circle cx="2038.4" cy="1222.1" r="1.75"/><circle cx="2039.9" cy="1229.4" r="1.75"/><circle cx="2047.3" cy="1227.4" r="1.75"/><circle cx="2053.2" cy="1214.2" r="1.75"/><circle cx="2036.5" cy="1222.1" r="1.75"/><circle cx="2029.4" cy="1224.9" r="1.75"/><circle cx="2037.8" cy="1212.2" r="1.75"/><circle cx="2055.9" cy="1210.5" r="1.75"/><circle cx="2041.1" cy="1206.9" r="1.75"/><circle cx="2036.2" cy="1228.8" r="1.75"/><circle cx="2043.6" cy="1236.8" r="1.75"/><circle cx="2048.4" cy="1210.8" r="1.75"/><circle cx="2033.9" cy="1207.9" r="1.75"/><circle cx="2040.9" cy="1231.1" r="1.75"/><circle cx="2051.1" cy="1211.4" r="1.75"/><circle cx="2049.1" cy="1221.4" r="1.75"/><circle cx="2050.8" cy="1222.2" r="1.75"/><circle cx="2055.9" cy="1221.5" r="1.75"/><circle cx="2045.4" cy="1221.2" r="1.75"/><circle cx="2046.8" cy="1220.3" r="1.75"/><circle cx="2045.8" cy="1218.0" r="1.75"/><circle cx="2035.1" cy="1234.6" r="1.75"/><circle cx="2047.6" cy="1213.6" r="1.75"/><circle cx="2059.1" cy="1216.8" r="1.75"/><circle cx="2035.5" cy="1209.0" r="1.75"/><circle cx="2040.5" cy="1209.2" r="1.75"/><circle cx="2036.8" cy="1214.9" r="1.75"/><circle cx="2042.2" cy="1218.4" r="1.75"/><circle cx="2045.0" cy="1233.0" r="1.75"/><circle cx="2048.8" cy="1217.0" r="1.75"/><circle cx="2047.3" cy="1225.8" r="1.75"/><circle cx="2030.9" cy="1218.7" r="1.75"/><circle cx="2054.7" cy="1233.4" r="1.75"/><circle cx="2042.5" cy="1221.3" r="1.75"/><circle cx="2038.1" cy="1221.7" r="1.75"/><circle cx="2032.2" cy="1234.6" r="1.75"/><circle cx="2050.9" cy="1219.5" r="1.75"/><circle cx="2038.3" cy="1220.3" r="1.75"/><circle cx="2033.8" cy="1224.5" r="1.75"/><circle cx="2041.8" cy="1222.1" r="1.75"/><circle cx="2042.5" cy="1220.2" r="1.75"/><circle cx="2037.9" cy="1233.6" r="1.75"/><circle cx="2044.8" cy="1226.0" r="1.75"/><circle cx="2045.4" cy="1221.6" r="1.75"/><circle cx="2040.8" cy="1219.3" r="1.75"/><circle cx="2044.5" cy="1217.4" r="1.75"/><circle cx="2052.4" cy="1225.3" r="1.75"/><circle cx="2040.4" cy="1217.5" r="1.75"/><circle cx="2053.1" cy="1229.9" r="1.75"/><circle cx="2038.8" cy="1216.2" r="1.75"/><circle cx="2049.2" cy="1224.1" r="1.75"/><circle cx="2041.8" cy="1218.3" r="1.75"/><circle cx="2031.2" cy="1219.2" r="1.75"/><circle cx="2037.3" cy="1228.3" r="1.75"/><circle cx="2041.7" cy="1223.5" r="1.75"/><circle cx="2042.0" cy="1220.3" r="1.75"/><circle cx="2058.0" cy="1204.4" r="1.75"/><circle cx="2057.9" cy="1208.0" r="1.75"/><circle cx="2045.1" cy="1231.0" r="1.75"/><circle cx="2044.7" cy="1211.8" r="1.75"/><circle cx="2041.5" cy="1210.8" r="1.75"/><circle cx="2046.9" cy="1220.6" r="1.75"/><circle cx="2057.7" cy="1205.9" r="1.75"/><circle cx="2043.2" cy="1211.3" r="1.75"/><circle cx="2065.6" cy="1194.1" r="1.75"/><circle cx="2061.6" cy="1198.1" r="1.75"/><circle cx="2066.2" cy="1209.6" r="1.75"/><circle cx="2057.7" cy="1214.4" r="1.75"/><circle cx="2058.3" cy="1219.5" r="1.75"/><circle cx="2068.0" cy="1207.8" r="1.75"/><circle cx="2063.3" cy="1202.7" r="1.75"/><circle cx="2062.4" cy="1203.0" r="1.75"/><circle cx="2058.9" cy="1211.6" r="1.75"/><circle cx="2055.8" cy="1206.9" r="1.75"/><circle cx="2064.1" cy="1205.8" r="1.75"/><circle cx="2065.1" cy="1205.3" r="1.75"/><circle cx="2063.4" cy="1218.0" r="1.75"/><circle cx="2059.8" cy="1204.7" r="1.75"/><circle cx="2056.2" cy="1204.4" r="1.75"/><circle cx="2056.0" cy="1203.7" r="1.75"/><circle cx="2058.4" cy="1208.3" r="1.75"/><circle cx="2072.3" cy="1214.9" r="1.75"/><circle cx="2069.3" cy="1217.8" r="1.75"/><circle cx="2057.9" cy="1217.5" r="1.75"/><circle cx="1960.9" cy="1252.1" r="1.75"/><circle cx="1965.6" cy="1253.5" r="1.75"/><circle cx="1970.6" cy="1257.7" r="1.75"/><circle cx="1975.5" cy="1249.4" r="1.75"/><circle cx="1966.5" cy="1243.2" r="1.75"/><circle cx="1968.5" cy="1259.8" r="1.75"/><circle cx="1962.6" cy="1250.0" r="1.75"/><circle cx="1955.0" cy="1244.2" r="1.75"/><circle cx="1969.8" cy="1242.0" r="1.75"/><circle cx="1958.2" cy="1244.8" r="1.75"/></g>
<path d="M1864.80 1148.90 L1864.80 1370.70 L2162.30 1370.70" fill="none" stroke="#000" stroke-width="2.25" stroke-linejoin="miter" stroke-linecap="butt"/>
<path d="M1884.54 1371.80 L1884.54 1373.30 M1917.84 1371.80 L1917.84 1373.30 M1951.13 1371.80 L1951.13 1373.30 M1984.43 1371.80 L1984.43 1373.30 M2017.72 1371.80 L2017.72 1373.30 M2051.02 1371.80 L2051.02 1373.30 M2084.31 1371.80 L2084.31 1373.30 M2117.61 1371.80 L2117.61 1373.30 M2150.90 1371.80 L2150.90 1373.30 M1862.20 1152.38 L1863.70 1152.38 M1862.20 1180.21 L1863.70 1180.21 M1862.20 1208.04 L1863.70 1208.04 M1862.20 1235.86 L1863.70 1235.86 M1862.20 1263.69 L1863.70 1263.69 M1862.20 1291.51 L1863.70 1291.51 M1862.20 1319.34 L1863.70 1319.34 M1862.20 1347.17 L1863.70 1347.17" stroke="#000" stroke-width="1" fill="none"/>
<g><text x="1884.54" y="1383.70" font-size="10.80" text-anchor="middle">−0.20</text><text x="1917.84" y="1383.70" font-size="10.80" text-anchor="middle">−0.15</text><text x="1951.13" y="1383.70" font-size="10.80" text-anchor="middle">−0.10</text><text x="1984.43" y="1383.70" font-size="10.80" text-anchor="middle">−0.05</text><text x="2017.72" y="1383.70" font-size="10.80" text-anchor="middle">0.00</text><text x="2051.02" y="1383.70" font-size="10.80" text-anchor="middle">0.05</text><text x="2084.31" y="1383.70" font-size="10.80" text-anchor="middle">0.10</text><text x="2117.61" y="1383.70" font-size="10.80" text-anchor="middle">0.15</text><text x="2150.90" y="1383.70" font-size="10.80" text-anchor="middle">0.20</text><text x="1860.00" y="1156.25" font-size="10.60" text-anchor="end">0.15</text><text x="1860.00" y="1184.07" font-size="10.60" text-anchor="end">0.10</text><text x="1860.00" y="1211.90" font-size="10.60" text-anchor="end">0.05</text><text x="1860.00" y="1239.73" font-size="10.60" text-anchor="end">0.00</text><text x="1860.00" y="1267.55" font-size="10.60" text-anchor="end">−0.05</text><text x="1860.00" y="1295.38" font-size="10.60" text-anchor="end">−0.10</text><text x="1860.00" y="1323.20" font-size="10.60" text-anchor="end">−0.15</text><text x="1860.00" y="1351.03" font-size="10.60" text-anchor="end">−0.20</text></g>
<text x="2014.50" y="1400.90" font-size="16.20" text-anchor="middle">EUR beta</text>
<text transform="translate(1827.76 1248.50) rotate(-90)" x="0" y="0" font-size="16.20" text-anchor="middle">nonEUR beta</text>
<!-- d7 -->
<g transform="translate(1188.90 1410.30) scale(0.16615 0.16527) translate(-385.0 -205.0)"><g fill="none" stroke="#93b6b9" stroke-width="16" stroke-linecap="round" stroke-linejoin="round">
<path d="M392 630 L445 265 L525 212 C585 228 625 245 638 270 C640 295 625 300 615 305 C628 318 625 330 600 345 L570 350 L522 338 L518 548 C560 505 620 485 680 482 C720 452 780 440 832 446 L835 580 C750 628 650 658 560 656 C480 655 420 645 392 630 Z"/>
<path d="M548 285 C568 300 598 305 628 295"/>
<path d="M588 402 L624 440 M650 362 L663 415 M725 358 L706 405"/>
<path d="M550 560 C592 522 640 510 662 516 M710 492 C760 470 800 474 830 480 M450 468 L425 600"/>
</g></g>
<g fill="#93b6b9" stroke="#ffffff" stroke-width="0.45"><circle cx="1184.4" cy="1585.7" r="1.75"/><circle cx="1320.5" cy="1436.9" r="1.75"/><circle cx="1303.5" cy="1614.0" r="1.75"/><circle cx="1314.3" cy="1584.4" r="1.75"/><circle cx="1318.1" cy="1593.5" r="1.75"/><circle cx="1323.8" cy="1571.1" r="1.75"/><circle cx="1326.8" cy="1555.0" r="1.75"/><circle cx="1332.6" cy="1557.3" r="1.75"/><circle cx="1340.1" cy="1564.8" r="1.75"/><circle cx="1330.4" cy="1540.7" r="1.75"/><circle cx="1341.7" cy="1542.0" r="1.75"/><circle cx="1347.5" cy="1540.0" r="1.75"/><circle cx="1344.7" cy="1535.4" r="1.75"/><circle cx="1344.6" cy="1531.2" r="1.75"/><circle cx="1350.9" cy="1523.3" r="1.75"/><circle cx="1351.7" cy="1550.3" r="1.75"/><circle cx="1363.3" cy="1546.2" r="1.75"/><circle cx="1359.2" cy="1512.1" r="1.75"/><circle cx="1359.5" cy="1515.0" r="1.75"/><circle cx="1313.5" cy="1502.2" r="1.75"/><circle cx="1338.4" cy="1501.3" r="1.75"/><circle cx="1348.4" cy="1499.7" r="1.75"/><circle cx="1362.2" cy="1501.7" r="1.75"/><circle cx="1365.0" cy="1499.3" r="1.75"/><circle cx="1373.8" cy="1511.3" r="1.75"/><circle cx="1445.9" cy="1497.5" r="1.75"/><circle cx="1442.6" cy="1484.7" r="1.75"/><circle cx="1445.9" cy="1470.1" r="1.75"/><circle cx="1453.9" cy="1432.4" r="1.75"/><circle cx="1428.6" cy="1421.3" r="1.75"/><circle cx="1441.4" cy="1413.3" r="1.75"/><circle cx="1427.0" cy="1474.4" r="1.75"/><circle cx="1435.1" cy="1475.6" r="1.75"/><circle cx="1374.3" cy="1490.7" r="1.75"/><circle cx="1372.7" cy="1487.5" r="1.75"/><circle cx="1374.1" cy="1497.5" r="1.75"/><circle cx="1373.6" cy="1487.3" r="1.75"/><circle cx="1375.0" cy="1489.7" r="1.75"/><circle cx="1383.3" cy="1463.2" r="1.75"/><circle cx="1374.7" cy="1485.9" r="1.75"/><circle cx="1380.5" cy="1501.5" r="1.75"/><circle cx="1367.7" cy="1490.8" r="1.75"/><circle cx="1368.6" cy="1508.3" r="1.75"/><circle cx="1373.0" cy="1502.4" r="1.75"/><circle cx="1371.6" cy="1484.3" r="1.75"/><circle cx="1372.3" cy="1512.9" r="1.75"/><circle cx="1383.1" cy="1477.9" r="1.75"/><circle cx="1374.0" cy="1473.5" r="1.75"/><circle cx="1374.0" cy="1492.8" r="1.75"/><circle cx="1382.4" cy="1480.3" r="1.75"/><circle cx="1374.5" cy="1511.4" r="1.75"/><circle cx="1373.2" cy="1485.6" r="1.75"/><circle cx="1373.5" cy="1495.5" r="1.75"/><circle cx="1375.9" cy="1467.0" r="1.75"/><circle cx="1371.5" cy="1479.3" r="1.75"/><circle cx="1377.9" cy="1478.9" r="1.75"/><circle cx="1379.1" cy="1501.0" r="1.75"/><circle cx="1383.1" cy="1474.9" r="1.75"/><circle cx="1377.3" cy="1477.3" r="1.75"/><circle cx="1368.4" cy="1489.7" r="1.75"/><circle cx="1364.8" cy="1482.5" r="1.75"/><circle cx="1371.1" cy="1468.3" r="1.75"/><circle cx="1373.7" cy="1485.4" r="1.75"/><circle cx="1378.0" cy="1492.1" r="1.75"/><circle cx="1366.9" cy="1475.1" r="1.75"/><circle cx="1379.9" cy="1478.6" r="1.75"/><circle cx="1374.3" cy="1503.1" r="1.75"/><circle cx="1375.2" cy="1501.7" r="1.75"/><circle cx="1364.7" cy="1489.3" r="1.75"/><circle cx="1376.2" cy="1486.0" r="1.75"/><circle cx="1377.6" cy="1474.1" r="1.75"/><circle cx="1370.8" cy="1480.8" r="1.75"/><circle cx="1381.2" cy="1475.6" r="1.75"/><circle cx="1377.6" cy="1496.3" r="1.75"/><circle cx="1374.9" cy="1496.0" r="1.75"/><circle cx="1376.9" cy="1504.2" r="1.75"/><circle cx="1372.6" cy="1494.3" r="1.75"/><circle cx="1370.7" cy="1507.3" r="1.75"/><circle cx="1442.5" cy="1464.9" r="1.75"/><circle cx="1427.5" cy="1436.4" r="1.75"/><circle cx="1446.4" cy="1472.3" r="1.75"/><circle cx="1438.5" cy="1429.6" r="1.75"/><circle cx="1424.5" cy="1441.2" r="1.75"/><circle cx="1432.6" cy="1446.7" r="1.75"/><circle cx="1436.4" cy="1455.3" r="1.75"/><circle cx="1443.4" cy="1457.5" r="1.75"/><circle cx="1421.3" cy="1437.2" r="1.75"/><circle cx="1440.9" cy="1433.9" r="1.75"/><circle cx="1431.3" cy="1437.4" r="1.75"/><circle cx="1443.0" cy="1457.2" r="1.75"/><circle cx="1437.4" cy="1438.7" r="1.75"/><circle cx="1438.1" cy="1434.2" r="1.75"/><circle cx="1421.5" cy="1431.9" r="1.75"/><circle cx="1444.4" cy="1431.6" r="1.75"/><circle cx="1439.0" cy="1427.8" r="1.75"/><circle cx="1440.2" cy="1424.9" r="1.75"/><circle cx="1433.0" cy="1461.1" r="1.75"/><circle cx="1438.4" cy="1447.5" r="1.75"/><circle cx="1438.0" cy="1441.9" r="1.75"/><circle cx="1430.0" cy="1449.6" r="1.75"/><circle cx="1434.7" cy="1457.6" r="1.75"/><circle cx="1443.5" cy="1456.2" r="1.75"/><circle cx="1434.7" cy="1451.8" r="1.75"/><circle cx="1426.3" cy="1448.5" r="1.75"/><circle cx="1418.8" cy="1463.4" r="1.75"/><circle cx="1446.8" cy="1436.5" r="1.75"/><circle cx="1430.6" cy="1441.9" r="1.75"/><circle cx="1431.9" cy="1436.3" r="1.75"/><circle cx="1430.2" cy="1442.6" r="1.75"/><circle cx="1431.9" cy="1437.0" r="1.75"/><circle cx="1445.0" cy="1437.0" r="1.75"/><circle cx="1430.8" cy="1442.6" r="1.75"/><circle cx="1435.9" cy="1457.9" r="1.75"/><circle cx="1432.1" cy="1431.2" r="1.75"/><circle cx="1440.9" cy="1434.8" r="1.75"/><circle cx="1433.7" cy="1453.3" r="1.75"/><circle cx="1445.7" cy="1453.9" r="1.75"/><circle cx="1444.1" cy="1429.4" r="1.75"/><circle cx="1444.3" cy="1430.0" r="1.75"/><circle cx="1426.9" cy="1445.2" r="1.75"/><circle cx="1420.5" cy="1428.5" r="1.75"/><circle cx="1439.6" cy="1472.3" r="1.75"/><circle cx="1433.2" cy="1438.2" r="1.75"/></g>
<path d="M1171.10 1402.50 L1171.10 1624.60 L1468.20 1624.60" fill="none" stroke="#000" stroke-width="2.25" stroke-linejoin="miter" stroke-linecap="butt"/>
<path d="M1185.37 1625.70 L1185.37 1627.20 M1228.85 1625.70 L1228.85 1627.20 M1272.33 1625.70 L1272.33 1627.20 M1315.81 1625.70 L1315.81 1627.20 M1359.30 1625.70 L1359.30 1627.20 M1402.78 1625.70 L1402.78 1627.20 M1446.26 1625.70 L1446.26 1627.20 M1168.50 1420.94 L1170.00 1420.94 M1168.50 1446.72 L1170.00 1446.72 M1168.50 1472.50 L1170.00 1472.50 M1168.50 1498.27 L1170.00 1498.27 M1168.50 1524.05 L1170.00 1524.05 M1168.50 1549.83 L1170.00 1549.83 M1168.50 1575.61 L1170.00 1575.61 M1168.50 1601.38 L1170.00 1601.38" stroke="#000" stroke-width="1" fill="none"/>
<g><text x="1185.37" y="1637.60" font-size="10.80" text-anchor="middle">−0.25</text><text x="1228.85" y="1637.60" font-size="10.80" text-anchor="middle">−0.20</text><text x="1272.33" y="1637.60" font-size="10.80" text-anchor="middle">−0.15</text><text x="1315.81" y="1637.60" font-size="10.80" text-anchor="middle">−0.10</text><text x="1359.30" y="1637.60" font-size="10.80" text-anchor="middle">−0.05</text><text x="1402.78" y="1637.60" font-size="10.80" text-anchor="middle">0.00</text><text x="1446.26" y="1637.60" font-size="10.80" text-anchor="middle">0.05</text><text x="1166.30" y="1424.81" font-size="10.60" text-anchor="end">0.050</text><text x="1166.30" y="1450.58" font-size="10.60" text-anchor="end">0.025</text><text x="1166.30" y="1476.36" font-size="10.60" text-anchor="end">0.000</text><text x="1166.30" y="1502.14" font-size="10.60" text-anchor="end">−0.025</text><text x="1166.30" y="1527.91" font-size="10.60" text-anchor="end">−0.050</text><text x="1166.30" y="1553.69" font-size="10.60" text-anchor="end">−0.075</text><text x="1166.30" y="1579.47" font-size="10.60" text-anchor="end">−0.100</text><text x="1166.30" y="1605.25" font-size="10.60" text-anchor="end">−0.125</text></g>
<text x="1315.20" y="1654.20" font-size="16.20" text-anchor="middle">EUR beta</text>
<text transform="translate(1126.16 1506.30) rotate(-90)" x="0" y="0" font-size="16.20" text-anchor="middle">nonEUR beta</text>
<!-- d8 -->
<g transform="translate(1536.00 1423.20) scale(0.16697 0.16659) translate(-500.0 -185.0)"><g fill="none" stroke="#5e9a58" stroke-width="12" stroke-linecap="round" stroke-linejoin="round">
<path d="M562 618 C518 618 505 600 505 548 C500 420 515 300 562 230 C582 200 608 188 628 190 C655 195 666 258 668 305 L672 522 C674 585 640 612 562 618 Z M662 322 C612 382 602 452 600 520 L556 596 M600 430 L546 476 M600 482 L650 530 M578 560 L602 592 M612 398 C630 410 645 440 652 462 M622 335 L558 335 M600 316 L576 272"/>
<path transform="translate(1444 0) scale(-1 1)" d="M562 618 C518 618 505 600 505 548 C500 420 515 300 562 230 C582 200 608 188 628 190 C655 195 666 258 668 305 L672 522 C674 585 640 612 562 618 Z M662 322 C612 382 602 452 600 520 L556 596 M600 430 L546 476 M600 482 L650 530 M578 560 L602 592 M612 398 C630 410 645 440 652 462 M622 335 L558 335 M600 316 L576 272"/>
<path d="M702 285 L702 213 L742 213 L742 285 M668 292 L702 285 M742 285 L776 292 M662 322 C690 300 705 296 722 296 C740 296 756 300 782 322"/>
</g></g>
<g fill="#5e9a58" stroke="#ffffff" stroke-width="0.45"><circle cx="1530.5" cy="1570.3" r="1.75"/><circle cx="1545.8" cy="1561.1" r="1.75"/><circle cx="1561.6" cy="1587.4" r="1.75"/><circle cx="1567.6" cy="1615.5" r="1.75"/><circle cx="1572.4" cy="1574.4" r="1.75"/><circle cx="1581.2" cy="1569.4" r="1.75"/><circle cx="1582.1" cy="1564.0" r="1.75"/><circle cx="1585.7" cy="1567.3" r="1.75"/><circle cx="1598.2" cy="1587.4" r="1.75"/><circle cx="1593.2" cy="1548.2" r="1.75"/><circle cx="1595.7" cy="1547.0" r="1.75"/><circle cx="1572.1" cy="1522.1" r="1.75"/><circle cx="1576.2" cy="1519.3" r="1.75"/><circle cx="1582.4" cy="1516.8" r="1.75"/><circle cx="1577.4" cy="1530.1" r="1.75"/><circle cx="1579.1" cy="1529.6" r="1.75"/><circle cx="1587.0" cy="1531.2" r="1.75"/><circle cx="1592.8" cy="1508.0" r="1.75"/><circle cx="1595.3" cy="1518.3" r="1.75"/><circle cx="1608.1" cy="1555.3" r="1.75"/><circle cx="1612.3" cy="1554.5" r="1.75"/><circle cx="1618.6" cy="1491.7" r="1.75"/><circle cx="1622.8" cy="1487.5" r="1.75"/><circle cx="1633.2" cy="1499.2" r="1.75"/><circle cx="1696.4" cy="1517.9" r="1.75"/><circle cx="1706.2" cy="1520.4" r="1.75"/><circle cx="1739.6" cy="1513.8" r="1.75"/><circle cx="1740.4" cy="1483.9" r="1.75"/><circle cx="1731.9" cy="1492.2" r="1.75"/><circle cx="1740.7" cy="1471.8" r="1.75"/><circle cx="1737.4" cy="1474.7" r="1.75"/><circle cx="1734.4" cy="1476.7" r="1.75"/><circle cx="1730.2" cy="1461.1" r="1.75"/><circle cx="1728.3" cy="1467.6" r="1.75"/><circle cx="1725.8" cy="1464.4" r="1.75"/><circle cx="1741.5" cy="1450.7" r="1.75"/><circle cx="1754.0" cy="1453.5" r="1.75"/><circle cx="1757.7" cy="1460.3" r="1.75"/><circle cx="1760.7" cy="1414.4" r="1.75"/><circle cx="1765.3" cy="1427.9" r="1.75"/><circle cx="1799.4" cy="1474.7" r="1.75"/><circle cx="1709.6" cy="1447.3" r="1.75"/><circle cx="1726.3" cy="1503.3" r="1.75"/><circle cx="1721.3" cy="1499.2" r="1.75"/><circle cx="1717.8" cy="1508.5" r="1.75"/><circle cx="1626.7" cy="1527.6" r="1.75"/><circle cx="1627.1" cy="1518.8" r="1.75"/><circle cx="1626.4" cy="1506.7" r="1.75"/><circle cx="1624.9" cy="1537.6" r="1.75"/><circle cx="1622.9" cy="1532.8" r="1.75"/><circle cx="1617.3" cy="1544.0" r="1.75"/><circle cx="1614.0" cy="1525.8" r="1.75"/><circle cx="1613.1" cy="1530.3" r="1.75"/><circle cx="1619.1" cy="1523.4" r="1.75"/><circle cx="1627.8" cy="1533.3" r="1.75"/><circle cx="1619.3" cy="1503.4" r="1.75"/><circle cx="1609.1" cy="1522.4" r="1.75"/><circle cx="1616.1" cy="1505.5" r="1.75"/><circle cx="1612.9" cy="1506.1" r="1.75"/><circle cx="1620.6" cy="1535.4" r="1.75"/><circle cx="1616.1" cy="1512.2" r="1.75"/><circle cx="1617.8" cy="1523.1" r="1.75"/><circle cx="1622.7" cy="1506.9" r="1.75"/><circle cx="1614.1" cy="1530.4" r="1.75"/><circle cx="1620.9" cy="1538.9" r="1.75"/><circle cx="1626.5" cy="1524.7" r="1.75"/><circle cx="1613.2" cy="1527.1" r="1.75"/><circle cx="1615.0" cy="1526.2" r="1.75"/><circle cx="1632.9" cy="1540.2" r="1.75"/><circle cx="1628.9" cy="1531.2" r="1.75"/><circle cx="1619.3" cy="1531.1" r="1.75"/><circle cx="1632.8" cy="1510.4" r="1.75"/><circle cx="1624.7" cy="1526.8" r="1.75"/><circle cx="1627.5" cy="1529.8" r="1.75"/><circle cx="1626.4" cy="1539.6" r="1.75"/><circle cx="1624.2" cy="1529.0" r="1.75"/><circle cx="1637.3" cy="1526.2" r="1.75"/><circle cx="1628.4" cy="1531.9" r="1.75"/><circle cx="1623.9" cy="1533.3" r="1.75"/><circle cx="1615.8" cy="1521.4" r="1.75"/><circle cx="1619.5" cy="1540.5" r="1.75"/><circle cx="1620.7" cy="1526.7" r="1.75"/><circle cx="1629.1" cy="1532.8" r="1.75"/><circle cx="1619.3" cy="1502.9" r="1.75"/><circle cx="1621.7" cy="1527.7" r="1.75"/><circle cx="1623.9" cy="1523.8" r="1.75"/><circle cx="1621.6" cy="1543.8" r="1.75"/><circle cx="1617.3" cy="1527.3" r="1.75"/><circle cx="1619.5" cy="1521.0" r="1.75"/><circle cx="1622.9" cy="1522.8" r="1.75"/><circle cx="1628.8" cy="1528.8" r="1.75"/><circle cx="1626.8" cy="1501.4" r="1.75"/><circle cx="1629.0" cy="1519.5" r="1.75"/><circle cx="1628.7" cy="1519.7" r="1.75"/><circle cx="1618.1" cy="1525.5" r="1.75"/><circle cx="1619.0" cy="1518.7" r="1.75"/><circle cx="1627.2" cy="1518.1" r="1.75"/><circle cx="1630.4" cy="1517.5" r="1.75"/><circle cx="1615.4" cy="1539.5" r="1.75"/><circle cx="1623.6" cy="1541.6" r="1.75"/><circle cx="1617.8" cy="1529.5" r="1.75"/><circle cx="1626.4" cy="1527.6" r="1.75"/><circle cx="1623.2" cy="1523.8" r="1.75"/><circle cx="1620.4" cy="1534.1" r="1.75"/><circle cx="1629.7" cy="1535.0" r="1.75"/><circle cx="1628.2" cy="1516.5" r="1.75"/><circle cx="1627.9" cy="1523.0" r="1.75"/><circle cx="1623.2" cy="1523.8" r="1.75"/><circle cx="1628.0" cy="1545.7" r="1.75"/><circle cx="1630.5" cy="1530.3" r="1.75"/><circle cx="1610.2" cy="1528.6" r="1.75"/><circle cx="1615.0" cy="1510.0" r="1.75"/><circle cx="1626.6" cy="1529.5" r="1.75"/><circle cx="1615.3" cy="1518.7" r="1.75"/><circle cx="1637.1" cy="1509.9" r="1.75"/><circle cx="1713.6" cy="1464.2" r="1.75"/><circle cx="1706.3" cy="1504.8" r="1.75"/><circle cx="1695.6" cy="1485.4" r="1.75"/><circle cx="1705.9" cy="1501.3" r="1.75"/><circle cx="1708.6" cy="1510.0" r="1.75"/><circle cx="1722.2" cy="1490.3" r="1.75"/><circle cx="1709.4" cy="1480.6" r="1.75"/><circle cx="1710.2" cy="1478.9" r="1.75"/><circle cx="1705.9" cy="1482.2" r="1.75"/><circle cx="1705.4" cy="1504.5" r="1.75"/><circle cx="1718.3" cy="1480.4" r="1.75"/><circle cx="1708.5" cy="1490.4" r="1.75"/><circle cx="1709.7" cy="1476.1" r="1.75"/><circle cx="1695.5" cy="1492.6" r="1.75"/><circle cx="1705.7" cy="1477.7" r="1.75"/><circle cx="1689.9" cy="1483.9" r="1.75"/><circle cx="1702.3" cy="1502.9" r="1.75"/><circle cx="1705.9" cy="1487.9" r="1.75"/><circle cx="1714.5" cy="1481.2" r="1.75"/><circle cx="1716.6" cy="1485.1" r="1.75"/><circle cx="1701.0" cy="1483.6" r="1.75"/><circle cx="1720.4" cy="1495.2" r="1.75"/><circle cx="1706.5" cy="1512.5" r="1.75"/><circle cx="1695.8" cy="1463.4" r="1.75"/><circle cx="1703.6" cy="1497.2" r="1.75"/><circle cx="1702.8" cy="1471.5" r="1.75"/><circle cx="1715.1" cy="1480.9" r="1.75"/><circle cx="1709.7" cy="1476.3" r="1.75"/><circle cx="1704.9" cy="1504.6" r="1.75"/><circle cx="1701.9" cy="1482.3" r="1.75"/><circle cx="1710.1" cy="1488.2" r="1.75"/><circle cx="1702.8" cy="1496.6" r="1.75"/><circle cx="1699.4" cy="1492.9" r="1.75"/><circle cx="1704.8" cy="1494.4" r="1.75"/><circle cx="1708.6" cy="1502.9" r="1.75"/><circle cx="1725.0" cy="1475.5" r="1.75"/><circle cx="1713.1" cy="1480.1" r="1.75"/><circle cx="1704.9" cy="1495.8" r="1.75"/><circle cx="1715.8" cy="1469.3" r="1.75"/><circle cx="1711.6" cy="1483.8" r="1.75"/><circle cx="1715.5" cy="1488.4" r="1.75"/><circle cx="1715.5" cy="1493.9" r="1.75"/><circle cx="1689.9" cy="1462.1" r="1.75"/><circle cx="1695.0" cy="1493.7" r="1.75"/><circle cx="1707.2" cy="1465.1" r="1.75"/><circle cx="1696.5" cy="1480.1" r="1.75"/><circle cx="1710.6" cy="1478.4" r="1.75"/><circle cx="1719.9" cy="1491.2" r="1.75"/><circle cx="1715.3" cy="1505.5" r="1.75"/><circle cx="1690.7" cy="1502.0" r="1.75"/><circle cx="1703.7" cy="1475.9" r="1.75"/><circle cx="1708.9" cy="1489.7" r="1.75"/><circle cx="1714.9" cy="1493.8" r="1.75"/><circle cx="1702.3" cy="1455.3" r="1.75"/><circle cx="1706.8" cy="1469.1" r="1.75"/><circle cx="1698.2" cy="1477.4" r="1.75"/><circle cx="1717.4" cy="1493.1" r="1.75"/><circle cx="1711.8" cy="1489.8" r="1.75"/><circle cx="1712.7" cy="1478.7" r="1.75"/><circle cx="1704.0" cy="1475.6" r="1.75"/><circle cx="1710.0" cy="1500.7" r="1.75"/><circle cx="1691.4" cy="1471.9" r="1.75"/><circle cx="1703.5" cy="1482.8" r="1.75"/><circle cx="1717.1" cy="1486.5" r="1.75"/><circle cx="1713.4" cy="1493.3" r="1.75"/><circle cx="1709.8" cy="1488.7" r="1.75"/><circle cx="1709.2" cy="1468.9" r="1.75"/><circle cx="1697.7" cy="1496.9" r="1.75"/><circle cx="1708.4" cy="1484.0" r="1.75"/><circle cx="1719.2" cy="1475.8" r="1.75"/><circle cx="1699.5" cy="1473.2" r="1.75"/><circle cx="1713.2" cy="1470.0" r="1.75"/><circle cx="1711.9" cy="1475.8" r="1.75"/><circle cx="1711.9" cy="1504.2" r="1.75"/><circle cx="1705.7" cy="1455.3" r="1.75"/><circle cx="1714.0" cy="1471.0" r="1.75"/><circle cx="1712.8" cy="1465.9" r="1.75"/><circle cx="1697.3" cy="1473.4" r="1.75"/><circle cx="1712.1" cy="1496.2" r="1.75"/><circle cx="1702.5" cy="1481.5" r="1.75"/><circle cx="1707.0" cy="1490.7" r="1.75"/><circle cx="1725.0" cy="1488.0" r="1.75"/><circle cx="1711.3" cy="1488.8" r="1.75"/><circle cx="1702.2" cy="1470.9" r="1.75"/><circle cx="1714.5" cy="1499.1" r="1.75"/><circle cx="1705.3" cy="1481.8" r="1.75"/><circle cx="1707.7" cy="1477.3" r="1.75"/><circle cx="1719.1" cy="1502.6" r="1.75"/><circle cx="1703.6" cy="1488.9" r="1.75"/><circle cx="1705.3" cy="1477.4" r="1.75"/></g>
<path d="M1517.30 1403.30 L1517.30 1625.10 L1814.40 1625.10" fill="none" stroke="#000" stroke-width="2.25" stroke-linejoin="miter" stroke-linecap="butt"/>
<path d="M1534.72 1626.20 L1534.72 1627.70 M1600.00 1626.20 L1600.00 1627.70 M1665.28 1626.20 L1665.28 1627.70 M1730.56 1626.20 L1730.56 1627.70 M1795.84 1626.20 L1795.84 1627.70 M1514.70 1413.24 L1516.20 1413.24 M1514.70 1459.18 L1516.20 1459.18 M1514.70 1505.12 L1516.20 1505.12 M1514.70 1551.06 L1516.20 1551.06 M1514.70 1597.00 L1516.20 1597.00" stroke="#000" stroke-width="1" fill="none"/>
<g><text x="1534.72" y="1638.10" font-size="10.80" text-anchor="middle">−0.10</text><text x="1600.00" y="1638.10" font-size="10.80" text-anchor="middle">−0.05</text><text x="1665.28" y="1638.10" font-size="10.80" text-anchor="middle">0.00</text><text x="1730.56" y="1638.10" font-size="10.80" text-anchor="middle">0.05</text><text x="1795.84" y="1638.10" font-size="10.80" text-anchor="middle">0.10</text><text x="1512.50" y="1417.10" font-size="10.60" text-anchor="end">0.10</text><text x="1512.50" y="1463.04" font-size="10.60" text-anchor="end">0.05</text><text x="1512.50" y="1508.98" font-size="10.60" text-anchor="end">0.00</text><text x="1512.50" y="1554.92" font-size="10.60" text-anchor="end">−0.05</text><text x="1512.50" y="1600.86" font-size="10.60" text-anchor="end">−0.10</text></g>
<text x="1667.60" y="1651.70" font-size="16.20" text-anchor="middle">EUR beta</text>
<text transform="translate(1479.16 1503.90) rotate(-90)" x="0" y="0" font-size="16.20" text-anchor="middle">nonEUR beta</text>
<!-- d9 -->
<g transform="translate(1877.90 1420.20) scale(0.16782 0.16622) translate(-415.0 -185.0)"><g fill="none" stroke="#cfaebe" stroke-width="8" stroke-linecap="round" stroke-linejoin="round">
<path d="M562 252 C562 205 535 188 505 188 C452 190 418 240 418 302 C418 382 462 432 512 436 C542 436 562 420 562 392 M470 232 C440 272 436 332 466 388 M520 288 C585 292 612 332 616 392 L616 492 M528 330 C572 334 598 360 600 398 L600 492 M540 300 L470 300 M525 278 L492 258 M535 318 L498 345"/>
<path transform="translate(1264 0) scale(-1 1)" d="M562 252 C562 205 535 188 505 188 C452 190 418 240 418 302 C418 382 462 432 512 436 C542 436 562 420 562 392 M470 232 C440 272 436 332 466 388 M520 288 C585 292 612 332 616 392 L616 492 M528 330 C572 334 598 360 600 398 L600 492 M540 300 L470 300 M525 278 L492 258 M535 318 L498 345"/>
<path d="M600 494 C562 500 542 520 542 550 C542 590 582 605 632 605 C682 605 720 590 720 550 C720 520 702 500 664 494 M622 605 L622 635 M642 605 L642 635"/>
</g></g>
<g fill="#cfaebe" stroke="#ffffff" stroke-width="0.45"><circle cx="1875.2" cy="1617.7" r="1.75"/><circle cx="1887.9" cy="1599.4" r="1.75"/><circle cx="1890.4" cy="1597.2" r="1.75"/><circle cx="1922.2" cy="1591.6" r="1.75"/><circle cx="1884.8" cy="1550.4" r="1.75"/><circle cx="1880.5" cy="1570.2" r="1.75"/><circle cx="1883.9" cy="1568.5" r="1.75"/><circle cx="1886.6" cy="1573.3" r="1.75"/><circle cx="1898.4" cy="1578.9" r="1.75"/><circle cx="1899.3" cy="1573.3" r="1.75"/><circle cx="1908.8" cy="1566.4" r="1.75"/><circle cx="1909.7" cy="1559.1" r="1.75"/><circle cx="1912.3" cy="1555.1" r="1.75"/><circle cx="1913.5" cy="1549.3" r="1.75"/><circle cx="1919.6" cy="1553.3" r="1.75"/><circle cx="1922.2" cy="1563.8" r="1.75"/><circle cx="1924.5" cy="1522.9" r="1.75"/><circle cx="1925.4" cy="1542.5" r="1.75"/><circle cx="1930.6" cy="1529.8" r="1.75"/><circle cx="1930.6" cy="1539.4" r="1.75"/><circle cx="1935.8" cy="1563.2" r="1.75"/><circle cx="1938.4" cy="1538.2" r="1.75"/><circle cx="1939.6" cy="1542.9" r="1.75"/><circle cx="1939.3" cy="1559.4" r="1.75"/><circle cx="1943.6" cy="1503.7" r="1.75"/><circle cx="1952.1" cy="1538.5" r="1.75"/><circle cx="1954.9" cy="1551.1" r="1.75"/><circle cx="1957.4" cy="1536.4" r="1.75"/><circle cx="1961.4" cy="1534.2" r="1.75"/><circle cx="1959.6" cy="1505.1" r="1.75"/><circle cx="1968.3" cy="1543.7" r="1.75"/><circle cx="1974.1" cy="1535.0" r="1.75"/><circle cx="1980.5" cy="1536.4" r="1.75"/><circle cx="1985.2" cy="1525.1" r="1.75"/><circle cx="1983.5" cy="1486.3" r="1.75"/><circle cx="1989.2" cy="1488.9" r="1.75"/><circle cx="2059.3" cy="1497.3" r="1.75"/><circle cx="2089.6" cy="1467.7" r="1.75"/><circle cx="2122.8" cy="1422.5" r="1.75"/><circle cx="2132.2" cy="1421.1" r="1.75"/><circle cx="2144.9" cy="1418.5" r="1.75"/><circle cx="2097.6" cy="1416.7" r="1.75"/><circle cx="2102.6" cy="1420.7" r="1.75"/><circle cx="2104.4" cy="1426.8" r="1.75"/><circle cx="2099.3" cy="1429.3" r="1.75"/><circle cx="2101.4" cy="1440.6" r="1.75"/><circle cx="2073.9" cy="1425.1" r="1.75"/><circle cx="2072.2" cy="1433.3" r="1.75"/><circle cx="2088.4" cy="1437.6" r="1.75"/><circle cx="2084.5" cy="1448.9" r="1.75"/><circle cx="2095.3" cy="1451.5" r="1.75"/><circle cx="2093.9" cy="1447.7" r="1.75"/><circle cx="2058.4" cy="1450.1" r="1.75"/><circle cx="2068.4" cy="1450.1" r="1.75"/><circle cx="1961.0" cy="1519.6" r="1.75"/><circle cx="1960.6" cy="1511.5" r="1.75"/><circle cx="1962.7" cy="1522.7" r="1.75"/><circle cx="1961.4" cy="1515.3" r="1.75"/><circle cx="1974.0" cy="1507.9" r="1.75"/><circle cx="1966.1" cy="1521.3" r="1.75"/><circle cx="1965.0" cy="1520.5" r="1.75"/><circle cx="1978.5" cy="1521.6" r="1.75"/><circle cx="1960.9" cy="1530.9" r="1.75"/><circle cx="1957.0" cy="1512.6" r="1.75"/><circle cx="1961.4" cy="1525.5" r="1.75"/><circle cx="1964.4" cy="1521.9" r="1.75"/><circle cx="1960.4" cy="1519.1" r="1.75"/><circle cx="1960.8" cy="1517.0" r="1.75"/><circle cx="1965.7" cy="1525.4" r="1.75"/><circle cx="1985.1" cy="1513.1" r="1.75"/><circle cx="1980.7" cy="1507.8" r="1.75"/><circle cx="1978.8" cy="1508.7" r="1.75"/><circle cx="1979.8" cy="1513.8" r="1.75"/><circle cx="1972.8" cy="1516.5" r="1.75"/><circle cx="1986.6" cy="1510.7" r="1.75"/><circle cx="1975.7" cy="1512.4" r="1.75"/><circle cx="1982.2" cy="1512.7" r="1.75"/><circle cx="1967.8" cy="1505.9" r="1.75"/><circle cx="1984.9" cy="1507.2" r="1.75"/><circle cx="2011.8" cy="1500.0" r="1.75"/><circle cx="2001.9" cy="1495.9" r="1.75"/><circle cx="1998.3" cy="1505.5" r="1.75"/><circle cx="2013.9" cy="1490.5" r="1.75"/><circle cx="1993.0" cy="1507.5" r="1.75"/><circle cx="2014.4" cy="1499.8" r="1.75"/><circle cx="2014.0" cy="1491.5" r="1.75"/><circle cx="1999.8" cy="1497.4" r="1.75"/><circle cx="1989.6" cy="1509.4" r="1.75"/><circle cx="1996.0" cy="1504.6" r="1.75"/><circle cx="2009.1" cy="1503.9" r="1.75"/><circle cx="1994.4" cy="1511.1" r="1.75"/><circle cx="2013.9" cy="1508.0" r="1.75"/><circle cx="2007.2" cy="1508.6" r="1.75"/><circle cx="1995.0" cy="1495.7" r="1.75"/><circle cx="2009.4" cy="1489.8" r="1.75"/><circle cx="2010.5" cy="1503.4" r="1.75"/><circle cx="2025.6" cy="1501.2" r="1.75"/><circle cx="1999.8" cy="1510.8" r="1.75"/><circle cx="2013.7" cy="1490.5" r="1.75"/><circle cx="2014.1" cy="1494.2" r="1.75"/><circle cx="2011.6" cy="1491.0" r="1.75"/><circle cx="1998.8" cy="1508.7" r="1.75"/><circle cx="2002.5" cy="1498.7" r="1.75"/><circle cx="1997.1" cy="1497.2" r="1.75"/><circle cx="2000.2" cy="1504.0" r="1.75"/><circle cx="2002.2" cy="1500.2" r="1.75"/><circle cx="2018.1" cy="1510.2" r="1.75"/><circle cx="2026.2" cy="1497.0" r="1.75"/><circle cx="1994.8" cy="1504.7" r="1.75"/><circle cx="2016.8" cy="1507.5" r="1.75"/><circle cx="2009.5" cy="1508.1" r="1.75"/><circle cx="1998.3" cy="1503.7" r="1.75"/><circle cx="2008.2" cy="1502.7" r="1.75"/><circle cx="2026.2" cy="1500.7" r="1.75"/><circle cx="2005.4" cy="1514.9" r="1.75"/><circle cx="2003.2" cy="1509.2" r="1.75"/><circle cx="2010.6" cy="1507.0" r="1.75"/><circle cx="2003.4" cy="1502.8" r="1.75"/><circle cx="2010.6" cy="1504.1" r="1.75"/><circle cx="2007.9" cy="1500.9" r="1.75"/><circle cx="1994.9" cy="1511.2" r="1.75"/><circle cx="2005.1" cy="1509.8" r="1.75"/><circle cx="1996.3" cy="1494.7" r="1.75"/><circle cx="2026.2" cy="1491.5" r="1.75"/><circle cx="1997.7" cy="1510.6" r="1.75"/><circle cx="2020.5" cy="1490.3" r="1.75"/><circle cx="2005.2" cy="1487.6" r="1.75"/><circle cx="1994.4" cy="1504.7" r="1.75"/><circle cx="1988.7" cy="1510.7" r="1.75"/><circle cx="1999.9" cy="1503.9" r="1.75"/><circle cx="2007.7" cy="1497.3" r="1.75"/><circle cx="2020.8" cy="1490.8" r="1.75"/><circle cx="1981.8" cy="1512.5" r="1.75"/><circle cx="2008.8" cy="1503.9" r="1.75"/><circle cx="2049.1" cy="1481.9" r="1.75"/><circle cx="2043.5" cy="1480.5" r="1.75"/><circle cx="2043.9" cy="1471.5" r="1.75"/><circle cx="2040.0" cy="1483.7" r="1.75"/><circle cx="2041.6" cy="1492.6" r="1.75"/><circle cx="2050.7" cy="1489.7" r="1.75"/><circle cx="2053.3" cy="1487.9" r="1.75"/><circle cx="2043.3" cy="1482.8" r="1.75"/><circle cx="2046.4" cy="1476.4" r="1.75"/><circle cx="2047.0" cy="1472.6" r="1.75"/><circle cx="2046.4" cy="1482.3" r="1.75"/><circle cx="2047.5" cy="1477.4" r="1.75"/><circle cx="2048.4" cy="1475.0" r="1.75"/><circle cx="2039.1" cy="1474.0" r="1.75"/><circle cx="2042.6" cy="1472.7" r="1.75"/><circle cx="2039.3" cy="1481.6" r="1.75"/><circle cx="2037.7" cy="1472.2" r="1.75"/><circle cx="2040.0" cy="1493.3" r="1.75"/><circle cx="2054.2" cy="1478.2" r="1.75"/><circle cx="2039.2" cy="1466.7" r="1.75"/><circle cx="2044.7" cy="1466.3" r="1.75"/><circle cx="2053.3" cy="1480.9" r="1.75"/><circle cx="2052.9" cy="1472.9" r="1.75"/><circle cx="2045.4" cy="1475.6" r="1.75"/><circle cx="2048.6" cy="1481.7" r="1.75"/><circle cx="2046.0" cy="1490.4" r="1.75"/><circle cx="2044.7" cy="1475.7" r="1.75"/><circle cx="2055.6" cy="1474.0" r="1.75"/><circle cx="2052.1" cy="1473.4" r="1.75"/><circle cx="2042.2" cy="1477.5" r="1.75"/><circle cx="2038.1" cy="1486.1" r="1.75"/><circle cx="2056.7" cy="1477.8" r="1.75"/><circle cx="2050.7" cy="1491.9" r="1.75"/><circle cx="2049.4" cy="1477.1" r="1.75"/><circle cx="2058.3" cy="1472.7" r="1.75"/><circle cx="2046.0" cy="1477.9" r="1.75"/><circle cx="2055.7" cy="1467.5" r="1.75"/><circle cx="2057.1" cy="1489.5" r="1.75"/><circle cx="2047.7" cy="1475.0" r="1.75"/><circle cx="2047.2" cy="1486.8" r="1.75"/><circle cx="2039.1" cy="1470.4" r="1.75"/><circle cx="2038.7" cy="1479.6" r="1.75"/><circle cx="2044.9" cy="1482.3" r="1.75"/><circle cx="2042.2" cy="1481.3" r="1.75"/><circle cx="2050.2" cy="1484.0" r="1.75"/><circle cx="2031.2" cy="1478.0" r="1.75"/><circle cx="2034.9" cy="1478.6" r="1.75"/><circle cx="2054.6" cy="1484.4" r="1.75"/><circle cx="2041.2" cy="1481.6" r="1.75"/><circle cx="2046.8" cy="1472.6" r="1.75"/><circle cx="2049.7" cy="1491.4" r="1.75"/><circle cx="2047.9" cy="1477.8" r="1.75"/><circle cx="2045.3" cy="1469.8" r="1.75"/><circle cx="2048.4" cy="1474.3" r="1.75"/><circle cx="2044.4" cy="1462.9" r="1.75"/><circle cx="2063.8" cy="1480.9" r="1.75"/><circle cx="2052.2" cy="1477.6" r="1.75"/><circle cx="2059.0" cy="1481.3" r="1.75"/><circle cx="2063.5" cy="1478.9" r="1.75"/><circle cx="2057.5" cy="1467.7" r="1.75"/><circle cx="2068.8" cy="1470.1" r="1.75"/><circle cx="2069.9" cy="1465.3" r="1.75"/><circle cx="2070.7" cy="1464.5" r="1.75"/><circle cx="2051.7" cy="1479.8" r="1.75"/><circle cx="2057.7" cy="1462.9" r="1.75"/><circle cx="2058.5" cy="1466.7" r="1.75"/><circle cx="2054.4" cy="1467.8" r="1.75"/><circle cx="2066.2" cy="1466.6" r="1.75"/><circle cx="2057.6" cy="1473.0" r="1.75"/><circle cx="2067.0" cy="1465.8" r="1.75"/><circle cx="2075.2" cy="1454.9" r="1.75"/><circle cx="2077.5" cy="1447.7" r="1.75"/><circle cx="2077.8" cy="1455.2" r="1.75"/><circle cx="2070.5" cy="1463.3" r="1.75"/><circle cx="2071.8" cy="1465.0" r="1.75"/><circle cx="2075.8" cy="1447.6" r="1.75"/><circle cx="2077.3" cy="1464.9" r="1.75"/><circle cx="2081.2" cy="1449.0" r="1.75"/><circle cx="2071.4" cy="1449.4" r="1.75"/><circle cx="2079.7" cy="1460.6" r="1.75"/><circle cx="2072.8" cy="1457.9" r="1.75"/><circle cx="2078.6" cy="1458.7" r="1.75"/><circle cx="2077.5" cy="1461.6" r="1.75"/><circle cx="2062.9" cy="1458.3" r="1.75"/><circle cx="2075.8" cy="1466.1" r="1.75"/></g>
<path d="M1861.70 1406.30 L1861.70 1627.30 L2159.20 1627.30" fill="none" stroke="#000" stroke-width="2.25" stroke-linejoin="miter" stroke-linecap="butt"/>
<path d="M1875.17 1628.40 L1875.17 1629.90 M1925.10 1628.40 L1925.10 1629.90 M1975.03 1628.40 L1975.03 1629.90 M2024.97 1628.40 L2024.97 1629.90 M2074.90 1628.40 L2074.90 1629.90 M2124.83 1628.40 L2124.83 1629.90 M1859.10 1413.82 L1860.60 1413.82 M1859.10 1451.12 L1860.60 1451.12 M1859.10 1488.42 L1860.60 1488.42 M1859.10 1525.72 L1860.60 1525.72 M1859.10 1563.01 L1860.60 1563.01 M1859.10 1600.31 L1860.60 1600.31" stroke="#000" stroke-width="1" fill="none"/>
<g><text x="1875.17" y="1640.30" font-size="10.80" text-anchor="middle">−0.3</text><text x="1925.10" y="1640.30" font-size="10.80" text-anchor="middle">−0.2</text><text x="1975.03" y="1640.30" font-size="10.80" text-anchor="middle">−0.1</text><text x="2024.97" y="1640.30" font-size="10.80" text-anchor="middle">0.0</text><text x="2074.90" y="1640.30" font-size="10.80" text-anchor="middle">0.1</text><text x="2124.83" y="1640.30" font-size="10.80" text-anchor="middle">0.2</text><text x="1856.90" y="1417.69" font-size="10.60" text-anchor="end">0.2</text><text x="1856.90" y="1454.98" font-size="10.60" text-anchor="end">0.1</text><text x="1856.90" y="1492.28" font-size="10.60" text-anchor="end">0.0</text><text x="1856.90" y="1529.58" font-size="10.60" text-anchor="end">−0.1</text><text x="1856.90" y="1566.88" font-size="10.60" text-anchor="end">−0.2</text><text x="1856.90" y="1604.17" font-size="10.60" text-anchor="end">−0.3</text></g>
<text x="2021.00" y="1655.10" font-size="16.20" text-anchor="middle">EUR beta</text>
<text transform="translate(1831.46 1507.70) rotate(-90)" x="0" y="0" font-size="16.20" text-anchor="middle">nonEUR beta</text>
</svg>
</body></html>
